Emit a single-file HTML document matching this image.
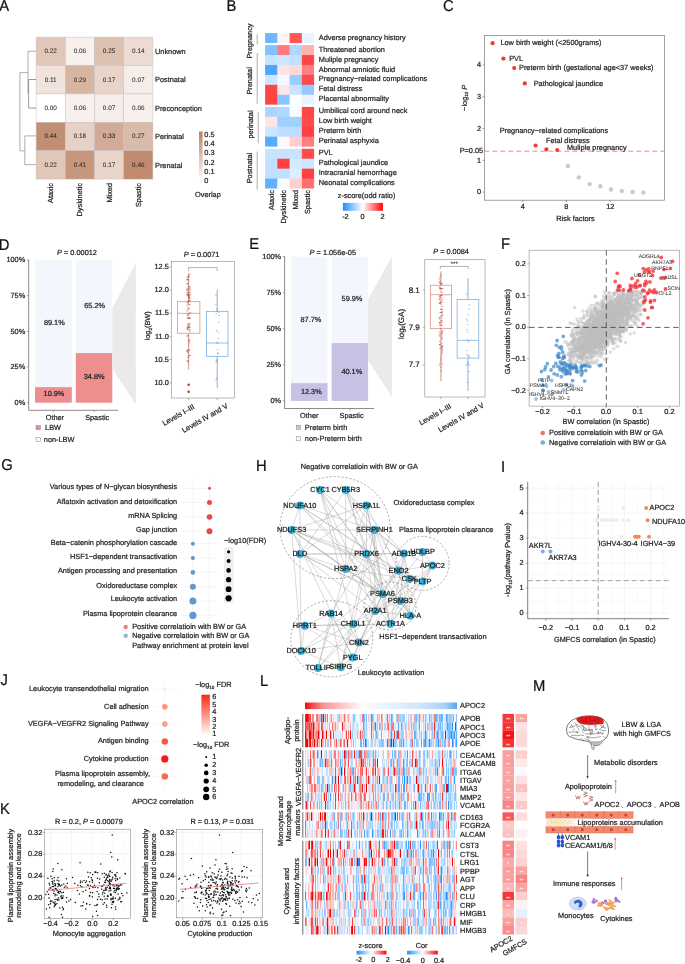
<!DOCTYPE html>
<html><head><meta charset="utf-8"><style>
html,body{margin:0;padding:0;background:#fff;width:685px;height:964px;overflow:hidden}
svg{display:block;font-family:"Liberation Sans", sans-serif;will-change:transform;text-rendering:geometricPrecision}
</style></head><body>
<svg width="685" height="964" viewBox="0 0 685 964">
<defs><linearGradient id="gA" x1="0" y1="1" x2="0" y2="0"><stop offset="0" stop-color="#ffffff"/><stop offset="1" stop-color="#b98062"/></linearGradient><linearGradient id="gB" x1="0" y1="0" x2="1" y2="0"><stop offset="0" stop-color="#1e90ff"/><stop offset="0.5" stop-color="#ffffff"/><stop offset="1" stop-color="#ff0000"/></linearGradient><linearGradient id="gJ" x1="0" y1="1" x2="0" y2="0"><stop offset="0" stop-color="#ffffff"/><stop offset="1" stop-color="#fb2a10"/></linearGradient><linearGradient id="gL" x1="0" y1="0" x2="1" y2="0"><stop offset="0" stop-color="#f20808"/><stop offset="0.04" stop-color="#f43c3c"/><stop offset="0.12" stop-color="#f89595"/><stop offset="0.25" stop-color="#fcc9c9"/><stop offset="0.38" stop-color="#fffcfc"/><stop offset="0.5" stop-color="#eef5fe"/><stop offset="0.75" stop-color="#d2e6fc"/><stop offset="0.92" stop-color="#a9d0f9"/><stop offset="1" stop-color="#5aa6f5"/></linearGradient><filter id="hb" x="-0.01" y="0" width="1.02" height="1" color-interpolation-filters="sRGB"><feGaussianBlur stdDeviation="0.45 0"/></filter><linearGradient id="gM" x1="0" y1="0" x2="1" y2="0"><stop offset="0" stop-color="#fde2d2"/><stop offset="0.5" stop-color="#feefe6"/><stop offset="1" stop-color="#ffffff" stop-opacity="0"/></linearGradient></defs>
<text x="0" y="0" font-size="14.8" fill="#111" stroke="#111" stroke-width="0.22" transform="translate(-0.80 11.00) scale(1 1.06)">A</text>
<rect x="36.10" y="37.10" width="29.20" height="28.40" fill="#e1c7b9" stroke="#c8c2bf" stroke-width="0.5"/>
<text x="50.70" y="53.22" font-size="6.4" text-anchor="middle" fill="#2a2a2a" stroke="#2a2a2a" stroke-width="0.05">0.22</text>
<rect x="65.30" y="37.10" width="29.20" height="28.40" fill="#f7f0ec" stroke="#c8c2bf" stroke-width="0.5"/>
<text x="79.90" y="53.22" font-size="6.4" text-anchor="middle" fill="#2a2a2a" stroke="#2a2a2a" stroke-width="0.05">0.06</text>
<rect x="94.50" y="37.10" width="29.20" height="28.40" fill="#dcc0b0" stroke="#c8c2bf" stroke-width="0.5"/>
<text x="109.10" y="53.22" font-size="6.4" text-anchor="middle" fill="#2a2a2a" stroke="#2a2a2a" stroke-width="0.05">0.25</text>
<rect x="123.70" y="37.10" width="29.20" height="28.40" fill="#ecdbd3" stroke="#c8c2bf" stroke-width="0.5"/>
<text x="138.30" y="53.22" font-size="6.4" text-anchor="middle" fill="#2a2a2a" stroke="#2a2a2a" stroke-width="0.05">0.14</text>
<rect x="36.10" y="65.50" width="29.20" height="28.40" fill="#f0e3dc" stroke="#c8c2bf" stroke-width="0.5"/>
<text x="50.70" y="81.62" font-size="6.4" text-anchor="middle" fill="#2a2a2a" stroke="#2a2a2a" stroke-width="0.05">0.11</text>
<rect x="65.30" y="65.50" width="29.20" height="28.40" fill="#d7b5a3" stroke="#c8c2bf" stroke-width="0.5"/>
<text x="79.90" y="81.62" font-size="6.4" text-anchor="middle" fill="#2a2a2a" stroke="#2a2a2a" stroke-width="0.05">0.29</text>
<rect x="94.50" y="65.50" width="29.20" height="28.40" fill="#e8d4c9" stroke="#c8c2bf" stroke-width="0.5"/>
<text x="109.10" y="81.62" font-size="6.4" text-anchor="middle" fill="#2a2a2a" stroke="#2a2a2a" stroke-width="0.05">0.17</text>
<rect x="123.70" y="65.50" width="29.20" height="28.40" fill="#f5ede9" stroke="#c8c2bf" stroke-width="0.5"/>
<text x="138.30" y="81.62" font-size="6.4" text-anchor="middle" fill="#2a2a2a" stroke="#2a2a2a" stroke-width="0.05">0.07</text>
<rect x="36.10" y="93.90" width="29.20" height="28.40" fill="#ffffff" stroke="#c8c2bf" stroke-width="0.5"/>
<text x="50.70" y="110.02" font-size="6.4" text-anchor="middle" fill="#2a2a2a" stroke="#2a2a2a" stroke-width="0.05">0.00</text>
<rect x="65.30" y="93.90" width="29.20" height="28.40" fill="#f7f0ec" stroke="#c8c2bf" stroke-width="0.5"/>
<text x="79.90" y="110.02" font-size="6.4" text-anchor="middle" fill="#2a2a2a" stroke="#2a2a2a" stroke-width="0.05">0.06</text>
<rect x="94.50" y="93.90" width="29.20" height="28.40" fill="#f5ede9" stroke="#c8c2bf" stroke-width="0.5"/>
<text x="109.10" y="110.02" font-size="6.4" text-anchor="middle" fill="#2a2a2a" stroke="#2a2a2a" stroke-width="0.05">0.07</text>
<rect x="123.70" y="93.90" width="29.20" height="28.40" fill="#f7f0ec" stroke="#c8c2bf" stroke-width="0.5"/>
<text x="138.30" y="110.02" font-size="6.4" text-anchor="middle" fill="#2a2a2a" stroke="#2a2a2a" stroke-width="0.05">0.06</text>
<rect x="36.10" y="122.30" width="29.20" height="28.40" fill="#c28f74" stroke="#c8c2bf" stroke-width="0.5"/>
<text x="50.70" y="138.42" font-size="6.4" text-anchor="middle" fill="#2a2a2a" stroke="#2a2a2a" stroke-width="0.05">0.44</text>
<rect x="65.30" y="122.30" width="29.20" height="28.40" fill="#e6d1c6" stroke="#c8c2bf" stroke-width="0.5"/>
<text x="79.90" y="138.42" font-size="6.4" text-anchor="middle" fill="#2a2a2a" stroke="#2a2a2a" stroke-width="0.05">0.18</text>
<rect x="94.50" y="122.30" width="29.20" height="28.40" fill="#d1ab97" stroke="#c8c2bf" stroke-width="0.5"/>
<text x="109.10" y="138.42" font-size="6.4" text-anchor="middle" fill="#2a2a2a" stroke="#2a2a2a" stroke-width="0.05">0.33</text>
<rect x="123.70" y="122.30" width="29.20" height="28.40" fill="#dabaaa" stroke="#c8c2bf" stroke-width="0.5"/>
<text x="138.30" y="138.42" font-size="6.4" text-anchor="middle" fill="#2a2a2a" stroke="#2a2a2a" stroke-width="0.05">0.27</text>
<rect x="36.10" y="150.70" width="29.20" height="28.40" fill="#e1c7b9" stroke="#c8c2bf" stroke-width="0.5"/>
<text x="50.70" y="166.82" font-size="6.4" text-anchor="middle" fill="#2a2a2a" stroke="#2a2a2a" stroke-width="0.05">0.22</text>
<rect x="65.30" y="150.70" width="29.20" height="28.40" fill="#c6977d" stroke="#c8c2bf" stroke-width="0.5"/>
<text x="79.90" y="166.82" font-size="6.4" text-anchor="middle" fill="#2a2a2a" stroke="#2a2a2a" stroke-width="0.05">0.41</text>
<rect x="94.50" y="150.70" width="29.20" height="28.40" fill="#e8d4c9" stroke="#c8c2bf" stroke-width="0.5"/>
<text x="109.10" y="166.82" font-size="6.4" text-anchor="middle" fill="#2a2a2a" stroke="#2a2a2a" stroke-width="0.05">0.17</text>
<rect x="123.70" y="150.70" width="29.20" height="28.40" fill="#c08a6e" stroke="#c8c2bf" stroke-width="0.5"/>
<text x="138.30" y="166.82" font-size="6.4" text-anchor="middle" fill="#2a2a2a" stroke="#2a2a2a" stroke-width="0.05">0.46</text>
<text x="155.00" y="54.00" font-size="7.35" text-anchor="start" fill="#1e1e1e" stroke="#1e1e1e" stroke-width="0.22">Unknown</text>
<text x="155.00" y="82.41" font-size="7.35" text-anchor="start" fill="#1e1e1e" stroke="#1e1e1e" stroke-width="0.22">Postnatal</text>
<text x="155.00" y="110.81" font-size="7.35" text-anchor="start" fill="#1e1e1e" stroke="#1e1e1e" stroke-width="0.22">Preconception</text>
<text x="155.00" y="139.20" font-size="7.35" text-anchor="start" fill="#1e1e1e" stroke="#1e1e1e" stroke-width="0.22">Perinatal</text>
<text x="155.00" y="167.60" font-size="7.35" text-anchor="start" fill="#1e1e1e" stroke="#1e1e1e" stroke-width="0.22">Prenatal</text>
<text x="53.20" y="183.00" font-size="7.35" text-anchor="end" fill="#1e1e1e" stroke="#1e1e1e" stroke-width="0.22" transform="rotate(-90 53.20 183.00)">Ataxic</text>
<text x="82.40" y="183.00" font-size="7.35" text-anchor="end" fill="#1e1e1e" stroke="#1e1e1e" stroke-width="0.22" transform="rotate(-90 82.40 183.00)">Dyskinetic</text>
<text x="111.60" y="183.00" font-size="7.35" text-anchor="end" fill="#1e1e1e" stroke="#1e1e1e" stroke-width="0.22" transform="rotate(-90 111.60 183.00)">Mixed</text>
<text x="140.80" y="183.00" font-size="7.35" text-anchor="end" fill="#1e1e1e" stroke="#1e1e1e" stroke-width="0.22" transform="rotate(-90 140.80 183.00)">Spastic</text>
<path d="M36,51.3 H28 V93.7" fill="none" stroke="#9a9a9a" stroke-width="0.8"/>
<path d="M36,79.5 H28.6 V108.1 H36" fill="none" stroke="#808080" stroke-width="0.8"/>
<path d="M28.3,72.6 H19.9 V150.9 H24.8" fill="none" stroke="#9a9a9a" stroke-width="0.8"/>
<path d="M36,135.9 H24.8 V164.6 H36" fill="none" stroke="#9a9a9a" stroke-width="0.8"/>
<rect x="199.00" y="131.50" width="3.60" height="49.50" fill="url(#gA)"/>
<text x="204.30" y="136.61" font-size="7.35" text-anchor="start" fill="#1e1e1e" stroke="#1e1e1e" stroke-width="0.22">0.5</text>
<text x="204.30" y="145.94" font-size="7.35" text-anchor="start" fill="#1e1e1e" stroke="#1e1e1e" stroke-width="0.22">0.4</text>
<text x="204.30" y="155.27" font-size="7.35" text-anchor="start" fill="#1e1e1e" stroke="#1e1e1e" stroke-width="0.22">0.3</text>
<text x="204.30" y="164.60" font-size="7.35" text-anchor="start" fill="#1e1e1e" stroke="#1e1e1e" stroke-width="0.22">0.2</text>
<text x="204.30" y="173.93" font-size="7.35" text-anchor="start" fill="#1e1e1e" stroke="#1e1e1e" stroke-width="0.22">0.1</text>
<text x="204.30" y="183.26" font-size="7.35" text-anchor="start" fill="#1e1e1e" stroke="#1e1e1e" stroke-width="0.22">0</text>
<text x="195.00" y="196.81" font-size="7.35" text-anchor="start" fill="#1e1e1e" stroke="#1e1e1e" stroke-width="0.22">Overlap</text>
<text x="0" y="0" font-size="14.8" fill="#111" stroke="#111" stroke-width="0.22" transform="translate(226.50 10.80) scale(1 1.06)">B</text>
<rect x="265.10" y="33.10" width="12.65" height="9.93" fill="#6db7ff"/>
<rect x="277.35" y="33.10" width="12.65" height="9.93" fill="#fff2f2"/>
<rect x="289.60" y="33.10" width="12.65" height="9.93" fill="#ff5656"/>
<rect x="301.85" y="33.10" width="12.25" height="9.93" fill="#e8f4ff"/>
<text x="318.80" y="39.67" font-size="7.35" text-anchor="start" fill="#1e1e1e" stroke="#1e1e1e" stroke-width="0.22">Adverse pregnancy history</text>
<rect x="265.10" y="45.10" width="12.65" height="10.33" fill="#83c2ff"/>
<rect x="277.35" y="45.10" width="12.65" height="10.33" fill="#ff7b7b"/>
<rect x="289.60" y="45.10" width="12.65" height="10.33" fill="#b0d8ff"/>
<rect x="301.85" y="45.10" width="12.25" height="10.33" fill="#ffb0b0"/>
<text x="318.80" y="51.67" font-size="7.35" text-anchor="start" fill="#1e1e1e" stroke="#1e1e1e" stroke-width="0.22">Threatened abortion</text>
<rect x="265.10" y="55.03" width="12.65" height="10.33" fill="#c7e3ff"/>
<rect x="277.35" y="55.03" width="12.65" height="10.33" fill="#cce6ff"/>
<rect x="289.60" y="55.03" width="12.65" height="10.33" fill="#c1e0ff"/>
<rect x="301.85" y="55.03" width="12.25" height="10.33" fill="#ff4646"/>
<text x="318.80" y="61.60" font-size="7.35" text-anchor="start" fill="#1e1e1e" stroke="#1e1e1e" stroke-width="0.22">Muliple pregnancy</text>
<rect x="265.10" y="64.96" width="12.65" height="10.33" fill="#4ba6ff"/>
<rect x="277.35" y="64.96" width="12.65" height="10.33" fill="#ffe1e1"/>
<rect x="289.60" y="64.96" width="12.65" height="10.33" fill="#ffdada"/>
<rect x="301.85" y="64.96" width="12.25" height="10.33" fill="#ff8080"/>
<text x="318.80" y="71.53" font-size="7.35" text-anchor="start" fill="#1e1e1e" stroke="#1e1e1e" stroke-width="0.22">Abnormal amniotic fluid</text>
<rect x="265.10" y="74.89" width="12.65" height="10.33" fill="#cce6ff"/>
<rect x="277.35" y="74.89" width="12.65" height="10.33" fill="#f4f9ff"/>
<rect x="289.60" y="74.89" width="12.65" height="10.33" fill="#9acdff"/>
<rect x="301.85" y="74.89" width="12.25" height="10.33" fill="#ff4b4b"/>
<text x="318.80" y="81.46" font-size="7.35" text-anchor="start" fill="#1e1e1e" stroke="#1e1e1e" stroke-width="0.22">Pregnancy−related complications</text>
<rect x="265.10" y="84.82" width="12.65" height="10.33" fill="#ff4646"/>
<rect x="277.35" y="84.82" width="12.65" height="10.33" fill="#ffe5e5"/>
<rect x="289.60" y="84.82" width="12.65" height="10.33" fill="#c7e3ff"/>
<rect x="301.85" y="84.82" width="12.25" height="10.33" fill="#94caff"/>
<text x="318.80" y="91.39" font-size="7.35" text-anchor="start" fill="#1e1e1e" stroke="#1e1e1e" stroke-width="0.22">Fetal distress</text>
<rect x="265.10" y="94.75" width="12.65" height="9.93" fill="#ff4646"/>
<rect x="277.35" y="94.75" width="12.65" height="9.93" fill="#89c5ff"/>
<rect x="289.60" y="94.75" width="12.65" height="9.93" fill="#fcfdff"/>
<rect x="301.85" y="94.75" width="12.25" height="9.93" fill="#e8f4ff"/>
<text x="318.80" y="101.32" font-size="7.35" text-anchor="start" fill="#1e1e1e" stroke="#1e1e1e" stroke-width="0.22">Placental abnormality</text>
<rect x="265.10" y="106.90" width="12.65" height="10.33" fill="#abd5ff"/>
<rect x="277.35" y="106.90" width="12.65" height="10.33" fill="#b0d8ff"/>
<rect x="289.60" y="106.90" width="12.65" height="10.33" fill="#f9fcff"/>
<rect x="301.85" y="106.90" width="12.25" height="10.33" fill="#ff4646"/>
<text x="318.80" y="113.47" font-size="7.35" text-anchor="start" fill="#1e1e1e" stroke="#1e1e1e" stroke-width="0.22">Umbilical cord around neck</text>
<rect x="265.10" y="116.83" width="12.65" height="10.33" fill="#ffe5e5"/>
<rect x="277.35" y="116.83" width="12.65" height="10.33" fill="#9fd0ff"/>
<rect x="289.60" y="116.83" width="12.65" height="10.33" fill="#9fd0ff"/>
<rect x="301.85" y="116.83" width="12.25" height="10.33" fill="#ff4b4b"/>
<text x="318.80" y="123.40" font-size="7.35" text-anchor="start" fill="#1e1e1e" stroke="#1e1e1e" stroke-width="0.22">Low birth weight</text>
<rect x="265.10" y="126.76" width="12.65" height="10.33" fill="#cce6ff"/>
<rect x="277.35" y="126.76" width="12.65" height="10.33" fill="#bcdeff"/>
<rect x="289.60" y="126.76" width="12.65" height="10.33" fill="#bcdeff"/>
<rect x="301.85" y="126.76" width="12.25" height="10.33" fill="#ff4141"/>
<text x="318.80" y="133.33" font-size="7.35" text-anchor="start" fill="#1e1e1e" stroke="#1e1e1e" stroke-width="0.22">Preterm birth</text>
<rect x="265.10" y="136.69" width="12.65" height="9.93" fill="#56acff"/>
<rect x="277.35" y="136.69" width="12.65" height="9.93" fill="#fff9f9"/>
<rect x="289.60" y="136.69" width="12.65" height="9.93" fill="#ffcfcf"/>
<rect x="301.85" y="136.69" width="12.25" height="9.93" fill="#ff8080"/>
<text x="318.80" y="143.26" font-size="7.35" text-anchor="start" fill="#1e1e1e" stroke="#1e1e1e" stroke-width="0.22">Perinatal asphyxia</text>
<rect x="265.10" y="148.80" width="12.65" height="10.33" fill="#c7e3ff"/>
<rect x="277.35" y="148.80" width="12.65" height="10.33" fill="#c7e3ff"/>
<rect x="289.60" y="148.80" width="12.65" height="10.33" fill="#c7e3ff"/>
<rect x="301.85" y="148.80" width="12.25" height="10.33" fill="#ff4b4b"/>
<text x="318.80" y="155.37" font-size="7.35" text-anchor="start" fill="#1e1e1e" stroke="#1e1e1e" stroke-width="0.22">PVL</text>
<rect x="265.10" y="158.73" width="12.65" height="10.33" fill="#c1e0ff"/>
<rect x="277.35" y="158.73" width="12.65" height="10.33" fill="#ff4141"/>
<rect x="289.60" y="158.73" width="12.65" height="10.33" fill="#d4eaff"/>
<rect x="301.85" y="158.73" width="12.25" height="10.33" fill="#cce6ff"/>
<text x="318.80" y="165.30" font-size="7.35" text-anchor="start" fill="#1e1e1e" stroke="#1e1e1e" stroke-width="0.22">Pathological jaundice</text>
<rect x="265.10" y="168.66" width="12.65" height="10.33" fill="#c1e0ff"/>
<rect x="277.35" y="168.66" width="12.65" height="10.33" fill="#c1e0ff"/>
<rect x="289.60" y="168.66" width="12.65" height="10.33" fill="#ddeeff"/>
<rect x="301.85" y="168.66" width="12.25" height="10.33" fill="#ff4141"/>
<text x="318.80" y="175.23" font-size="7.35" text-anchor="start" fill="#1e1e1e" stroke="#1e1e1e" stroke-width="0.22">Intracranial hemorrhage</text>
<rect x="265.10" y="178.59" width="12.65" height="9.93" fill="#62b1ff"/>
<rect x="277.35" y="178.59" width="12.65" height="9.93" fill="#f9fcff"/>
<rect x="289.60" y="178.59" width="12.65" height="9.93" fill="#ffcfcf"/>
<rect x="301.85" y="178.59" width="12.25" height="9.93" fill="#ff7070"/>
<text x="318.80" y="185.16" font-size="7.35" text-anchor="start" fill="#1e1e1e" stroke="#1e1e1e" stroke-width="0.22">Neonatal complications</text>
<text x="273.73" y="190.00" font-size="7.35" text-anchor="end" fill="#1e1e1e" stroke="#1e1e1e" stroke-width="0.22" transform="rotate(-90 273.73 190.00)">Ataxic</text>
<text x="285.98" y="190.00" font-size="7.35" text-anchor="end" fill="#1e1e1e" stroke="#1e1e1e" stroke-width="0.22" transform="rotate(-90 285.98 190.00)">Dyskinetic</text>
<text x="298.23" y="190.00" font-size="7.35" text-anchor="end" fill="#1e1e1e" stroke="#1e1e1e" stroke-width="0.22" transform="rotate(-90 298.23 190.00)">Mixed</text>
<text x="310.48" y="190.00" font-size="7.35" text-anchor="end" fill="#1e1e1e" stroke="#1e1e1e" stroke-width="0.22" transform="rotate(-90 310.48 190.00)">Spastic</text>
<text x="251.60" y="41.00" font-size="7.35" text-anchor="middle" fill="#1e1e1e" stroke="#1e1e1e" stroke-width="0.22" transform="rotate(-90 251.60 41.00)">Pregnancy</text>
<line x1="257.20" y1="34.20" x2="257.20" y2="44.60" stroke="#8a8a8a" stroke-width="0.7"/>
<text x="251.60" y="80.90" font-size="7.35" text-anchor="middle" fill="#1e1e1e" stroke="#1e1e1e" stroke-width="0.22" transform="rotate(-90 251.60 80.90)">Prenatal</text>
<line x1="257.20" y1="52.90" x2="257.20" y2="103.70" stroke="#8a8a8a" stroke-width="0.7"/>
<text x="252.90" y="124.50" font-size="7.35" text-anchor="middle" fill="#1e1e1e" stroke="#1e1e1e" stroke-width="0.22" transform="rotate(-90 252.90 124.50)">perinatal</text>
<line x1="258.20" y1="112.00" x2="258.20" y2="143.20" stroke="#8a8a8a" stroke-width="0.7"/>
<text x="251.60" y="168.00" font-size="7.35" text-anchor="middle" fill="#1e1e1e" stroke="#1e1e1e" stroke-width="0.22" transform="rotate(-90 251.60 168.00)">Postnatal</text>
<line x1="257.20" y1="151.50" x2="257.20" y2="189.80" stroke="#8a8a8a" stroke-width="0.7"/>
<text x="337.80" y="197.51" font-size="7.35" text-anchor="start" fill="#1e1e1e" stroke="#1e1e1e" stroke-width="0.22">z-score(odd ratio)</text>
<rect x="342.90" y="202.90" width="40.00" height="7.90" fill="url(#gB)"/>
<text x="345.40" y="218.91" font-size="7.35" text-anchor="middle" fill="#1e1e1e" stroke="#1e1e1e" stroke-width="0.22">-2</text>
<text x="362.50" y="218.91" font-size="7.35" text-anchor="middle" fill="#1e1e1e" stroke="#1e1e1e" stroke-width="0.22">0</text>
<text x="382.50" y="218.91" font-size="7.35" text-anchor="middle" fill="#1e1e1e" stroke="#1e1e1e" stroke-width="0.22">2</text>
<text x="0" y="0" font-size="14.8" fill="#111" stroke="#111" stroke-width="0.22" transform="translate(443.00 11.00) scale(1 1.06)">C</text>
<rect x="484.40" y="35.40" width="180.20" height="164.80" fill="none" stroke="#7a7a7a" stroke-width="0.7"/>
<line x1="482.40" y1="192.10" x2="484.40" y2="192.10" stroke="#555" stroke-width="0.5"/>
<text x="481.00" y="194.31" font-size="7.35" text-anchor="end" fill="#1e1e1e" stroke="#1e1e1e" stroke-width="0.22">0</text>
<line x1="482.40" y1="160.35" x2="484.40" y2="160.35" stroke="#555" stroke-width="0.5"/>
<text x="481.00" y="162.56" font-size="7.35" text-anchor="end" fill="#1e1e1e" stroke="#1e1e1e" stroke-width="0.22">1</text>
<line x1="482.40" y1="128.60" x2="484.40" y2="128.60" stroke="#555" stroke-width="0.5"/>
<text x="481.00" y="130.81" font-size="7.35" text-anchor="end" fill="#1e1e1e" stroke="#1e1e1e" stroke-width="0.22">2</text>
<line x1="482.40" y1="96.85" x2="484.40" y2="96.85" stroke="#555" stroke-width="0.5"/>
<text x="481.00" y="99.05" font-size="7.35" text-anchor="end" fill="#1e1e1e" stroke="#1e1e1e" stroke-width="0.22">3</text>
<line x1="482.40" y1="65.10" x2="484.40" y2="65.10" stroke="#555" stroke-width="0.5"/>
<text x="481.00" y="67.30" font-size="7.35" text-anchor="end" fill="#1e1e1e" stroke="#1e1e1e" stroke-width="0.22">4</text>
<line x1="522.70" y1="200.20" x2="522.70" y2="202.20" stroke="#555" stroke-width="0.5"/>
<text x="522.70" y="209.41" font-size="7.35" text-anchor="middle" fill="#1e1e1e" stroke="#1e1e1e" stroke-width="0.22">4</text>
<line x1="566.40" y1="200.20" x2="566.40" y2="202.20" stroke="#555" stroke-width="0.5"/>
<text x="566.40" y="209.41" font-size="7.35" text-anchor="middle" fill="#1e1e1e" stroke="#1e1e1e" stroke-width="0.22">8</text>
<line x1="610.30" y1="200.20" x2="610.30" y2="202.20" stroke="#555" stroke-width="0.5"/>
<text x="610.30" y="209.41" font-size="7.35" text-anchor="middle" fill="#1e1e1e" stroke="#1e1e1e" stroke-width="0.22">12</text>
<text x="575.50" y="220.81" font-size="7.35" text-anchor="middle" fill="#1e1e1e" stroke="#1e1e1e" stroke-width="0.22">Risk factors</text>
<text x="0" y="0" font-size="7.35" fill="#1e1e1e" stroke="#1e1e1e" stroke-width="0.22" text-anchor="middle" transform="translate(466.8 97.8) rotate(-90)">−log<tspan font-size="4.6" dy="1.6">10</tspan><tspan dy="-1.6" font-style="italic"> P</tspan></text>
<line x1="484.40" y1="151.20" x2="664.60" y2="151.20" stroke="#f06a6a" stroke-width="0.8" stroke-dasharray="5,3"/>
<text x="459.70" y="153.41" font-size="7.35" text-anchor="start" fill="#1e1e1e" stroke="#1e1e1e" stroke-width="0.22">P=0.05</text>
<circle cx="567.90" cy="165.90" r="2.20" fill="#c9c9c9"/>
<circle cx="578.80" cy="177.40" r="2.20" fill="#c9c9c9"/>
<circle cx="589.60" cy="184.10" r="2.20" fill="#c9c9c9"/>
<circle cx="600.40" cy="186.20" r="2.20" fill="#c9c9c9"/>
<circle cx="611.00" cy="189.50" r="2.20" fill="#c9c9c9"/>
<circle cx="621.80" cy="191.00" r="2.20" fill="#c9c9c9"/>
<circle cx="632.60" cy="192.00" r="2.20" fill="#c9c9c9"/>
<circle cx="643.40" cy="192.60" r="2.20" fill="#c9c9c9"/>
<circle cx="492.60" cy="43.20" r="2.10" fill="#f03a3a"/>
<circle cx="503.40" cy="58.60" r="2.10" fill="#f03a3a"/>
<circle cx="514.20" cy="68.10" r="2.10" fill="#f03a3a"/>
<circle cx="524.80" cy="83.40" r="2.10" fill="#f03a3a"/>
<circle cx="535.60" cy="145.50" r="2.10" fill="#f03a3a"/>
<circle cx="546.40" cy="149.40" r="2.10" fill="#f03a3a"/>
<circle cx="557.30" cy="150.00" r="2.10" fill="#f03a3a"/>
<text x="500.40" y="45.41" font-size="7.35" text-anchor="start" fill="#1e1e1e" stroke="#1e1e1e" stroke-width="0.22">Low birth weight (&lt;2500grams)</text>
<text x="509.20" y="60.60" font-size="7.35" text-anchor="start" fill="#1e1e1e" stroke="#1e1e1e" stroke-width="0.22">PVL</text>
<text x="519.00" y="70.20" font-size="7.35" text-anchor="start" fill="#1e1e1e" stroke="#1e1e1e" stroke-width="0.22">Preterm birth (gestational age&lt;37 weeks)</text>
<text x="533.70" y="85.61" font-size="7.35" text-anchor="start" fill="#1e1e1e" stroke="#1e1e1e" stroke-width="0.22">Pathological jaundice</text>
<text x="499.70" y="133.21" font-size="7.35" text-anchor="start" fill="#1e1e1e" stroke="#1e1e1e" stroke-width="0.22">Pregnancy−related complications</text>
<text x="546.00" y="143.01" font-size="7.35" text-anchor="start" fill="#1e1e1e" stroke="#1e1e1e" stroke-width="0.22">Fetal distress</text>
<text x="567.00" y="150.01" font-size="7.35" text-anchor="start" fill="#1e1e1e" stroke="#1e1e1e" stroke-width="0.22">Muliple pregnancy</text>
<text x="0" y="0" font-size="14.8" fill="#111" stroke="#111" stroke-width="0.22" transform="translate(-1.30 249.90) scale(1 1.06)">D</text>
<line x1="28.70" y1="259.60" x2="28.70" y2="410.30" stroke="#5a5a5a" stroke-width="0.7"/>
<line x1="28.70" y1="410.30" x2="118.10" y2="410.30" stroke="#5a5a5a" stroke-width="0.7"/>
<line x1="26.70" y1="402.70" x2="28.70" y2="402.70" stroke="#5a5a5a" stroke-width="0.5"/>
<text x="25.20" y="404.90" font-size="7.35" text-anchor="end" fill="#1e1e1e" stroke="#1e1e1e" stroke-width="0.22">0%</text>
<line x1="26.70" y1="367.05" x2="28.70" y2="367.05" stroke="#5a5a5a" stroke-width="0.5"/>
<text x="25.20" y="369.25" font-size="7.35" text-anchor="end" fill="#1e1e1e" stroke="#1e1e1e" stroke-width="0.22">25%</text>
<line x1="26.70" y1="331.40" x2="28.70" y2="331.40" stroke="#5a5a5a" stroke-width="0.5"/>
<text x="25.20" y="333.60" font-size="7.35" text-anchor="end" fill="#1e1e1e" stroke="#1e1e1e" stroke-width="0.22">50%</text>
<line x1="26.70" y1="295.75" x2="28.70" y2="295.75" stroke="#5a5a5a" stroke-width="0.5"/>
<text x="25.20" y="297.95" font-size="7.35" text-anchor="end" fill="#1e1e1e" stroke="#1e1e1e" stroke-width="0.22">75%</text>
<line x1="26.70" y1="260.10" x2="28.70" y2="260.10" stroke="#5a5a5a" stroke-width="0.5"/>
<text x="25.20" y="262.31" font-size="7.35" text-anchor="end" fill="#1e1e1e" stroke="#1e1e1e" stroke-width="0.22">100%</text>
<rect x="35.00" y="260.10" width="36.80" height="142.60" fill="#f3f7fd"/>
<rect x="35.00" y="387.16" width="36.80" height="15.54" fill="#ee8f8f"/>
<rect x="75.80" y="260.10" width="36.50" height="142.60" fill="#f3f7fd"/>
<rect x="75.80" y="353.08" width="36.50" height="49.62" fill="#ee8f8f"/>
<text x="54.30" y="325.40" font-size="7.35" text-anchor="middle" fill="#1e1e1e" stroke="#1e1e1e" stroke-width="0.22">89.1%</text>
<text x="94.60" y="308.40" font-size="7.35" text-anchor="middle" fill="#1e1e1e" stroke="#1e1e1e" stroke-width="0.22">65.2%</text>
<text x="54.00" y="396.40" font-size="7.35" text-anchor="middle" fill="#1e1e1e" stroke="#1e1e1e" stroke-width="0.22">10.9%</text>
<text x="94.20" y="379.31" font-size="7.35" text-anchor="middle" fill="#1e1e1e" stroke="#1e1e1e" stroke-width="0.22">34.8%</text>
<text x="77.00" y="255.21" font-size="7.35" text-anchor="middle" fill="#1e1e1e" stroke="#1e1e1e" stroke-width="0.22"><tspan font-style="italic">P</tspan> = 0.00012</text>
<line x1="53.40" y1="410.30" x2="53.40" y2="412.30" stroke="#5a5a5a" stroke-width="0.5"/>
<text x="54.90" y="420.00" font-size="7.35" text-anchor="middle" fill="#1e1e1e" stroke="#1e1e1e" stroke-width="0.22">Other</text>
<line x1="94.05" y1="410.30" x2="94.05" y2="412.30" stroke="#5a5a5a" stroke-width="0.5"/>
<text x="97.20" y="420.00" font-size="7.35" text-anchor="middle" fill="#1e1e1e" stroke="#1e1e1e" stroke-width="0.22">Spastic</text>
<rect x="36.00" y="425.50" width="4.40" height="4.20" fill="#ee8f8f" stroke="#8a8a8a" stroke-width="0.5"/>
<text x="45.10" y="430.40" font-size="7.35" text-anchor="start" fill="#1e1e1e" stroke="#1e1e1e" stroke-width="0.22">LBW</text>
<rect x="36.00" y="437.50" width="4.40" height="4.20" fill="#f6f8fb" stroke="#8a8a8a" stroke-width="0.5"/>
<text x="43.80" y="441.60" font-size="7.35" text-anchor="start" fill="#1e1e1e" stroke="#1e1e1e" stroke-width="0.22">non-LBW</text>
<polygon points="112.3,308.1 135.8,263.3 135.8,404.2 112.3,368.7" fill="#ebe9e9"/>
<rect x="171.50" y="261.30" width="62.90" height="136.70" fill="none" stroke="#8c8c8c" stroke-width="0.6"/>
<line x1="169.50" y1="267.00" x2="171.50" y2="267.00" stroke="#5a5a5a" stroke-width="0.5"/>
<text x="168.80" y="269.20" font-size="7.35" text-anchor="end" fill="#1e1e1e" stroke="#1e1e1e" stroke-width="0.22">12.5</text>
<line x1="169.50" y1="290.00" x2="171.50" y2="290.00" stroke="#5a5a5a" stroke-width="0.5"/>
<text x="168.80" y="292.20" font-size="7.35" text-anchor="end" fill="#1e1e1e" stroke="#1e1e1e" stroke-width="0.22">12.0</text>
<line x1="169.50" y1="313.10" x2="171.50" y2="313.10" stroke="#5a5a5a" stroke-width="0.5"/>
<text x="168.80" y="315.31" font-size="7.35" text-anchor="end" fill="#1e1e1e" stroke="#1e1e1e" stroke-width="0.22">11.5</text>
<line x1="169.50" y1="336.30" x2="171.50" y2="336.30" stroke="#5a5a5a" stroke-width="0.5"/>
<text x="168.80" y="338.50" font-size="7.35" text-anchor="end" fill="#1e1e1e" stroke="#1e1e1e" stroke-width="0.22">11.0</text>
<line x1="169.50" y1="359.40" x2="171.50" y2="359.40" stroke="#5a5a5a" stroke-width="0.5"/>
<text x="168.80" y="361.60" font-size="7.35" text-anchor="end" fill="#1e1e1e" stroke="#1e1e1e" stroke-width="0.22">10.5</text>
<line x1="169.50" y1="382.90" x2="171.50" y2="382.90" stroke="#5a5a5a" stroke-width="0.5"/>
<text x="168.80" y="385.10" font-size="7.35" text-anchor="end" fill="#1e1e1e" stroke="#1e1e1e" stroke-width="0.22">10.0</text>
<text x="0" y="0" font-size="7.35" fill="#1e1e1e" stroke="#1e1e1e" stroke-width="0.22" text-anchor="middle" transform="translate(150.20 325.80) rotate(-90)">log<tspan font-size="4.6" dy="1.6">2</tspan><tspan dy="-1.6">(BW)</tspan></text>
<line x1="188.65" y1="273.10" x2="188.65" y2="301.70" stroke="#b5402f" stroke-width="0.6"/>
<line x1="188.65" y1="333.20" x2="188.65" y2="369.50" stroke="#b5402f" stroke-width="0.6"/>
<rect x="177.40" y="301.70" width="22.50" height="31.50" fill="none" stroke="#d4867a" stroke-width="0.7"/>
<line x1="177.40" y1="313.30" x2="199.90" y2="313.30" stroke="#d4867a" stroke-width="0.7"/>
<line x1="188.34" y1="326.70" x2="189.94" y2="326.70" stroke="#b5402f" stroke-width="0.7" opacity="0.75"/>
<line x1="186.26" y1="279.88" x2="187.86" y2="279.88" stroke="#b5402f" stroke-width="0.7" opacity="0.75"/>
<line x1="189.26" y1="330.02" x2="190.86" y2="330.02" stroke="#b5402f" stroke-width="0.7" opacity="0.75"/>
<line x1="187.84" y1="317.84" x2="189.44" y2="317.84" stroke="#b5402f" stroke-width="0.7" opacity="0.75"/>
<line x1="188.93" y1="300.98" x2="190.53" y2="300.98" stroke="#b5402f" stroke-width="0.7" opacity="0.75"/>
<line x1="188.53" y1="296.90" x2="190.13" y2="296.90" stroke="#b5402f" stroke-width="0.7" opacity="0.75"/>
<line x1="189.07" y1="340.52" x2="190.67" y2="340.52" stroke="#b5402f" stroke-width="0.7" opacity="0.75"/>
<line x1="187.58" y1="326.61" x2="189.18" y2="326.61" stroke="#b5402f" stroke-width="0.7" opacity="0.75"/>
<line x1="187.88" y1="327.36" x2="189.48" y2="327.36" stroke="#b5402f" stroke-width="0.7" opacity="0.75"/>
<line x1="188.15" y1="296.00" x2="189.75" y2="296.00" stroke="#b5402f" stroke-width="0.7" opacity="0.75"/>
<line x1="189.00" y1="298.15" x2="190.60" y2="298.15" stroke="#b5402f" stroke-width="0.7" opacity="0.75"/>
<line x1="186.27" y1="305.12" x2="187.87" y2="305.12" stroke="#b5402f" stroke-width="0.7" opacity="0.75"/>
<line x1="186.43" y1="327.88" x2="188.03" y2="327.88" stroke="#b5402f" stroke-width="0.7" opacity="0.75"/>
<line x1="187.36" y1="293.04" x2="188.96" y2="293.04" stroke="#b5402f" stroke-width="0.7" opacity="0.75"/>
<line x1="186.82" y1="349.81" x2="188.42" y2="349.81" stroke="#b5402f" stroke-width="0.7" opacity="0.75"/>
<line x1="188.80" y1="350.07" x2="190.40" y2="350.07" stroke="#b5402f" stroke-width="0.7" opacity="0.75"/>
<line x1="187.05" y1="361.56" x2="188.65" y2="361.56" stroke="#b5402f" stroke-width="0.7" opacity="0.75"/>
<line x1="186.79" y1="317.28" x2="188.39" y2="317.28" stroke="#b5402f" stroke-width="0.7" opacity="0.75"/>
<line x1="187.49" y1="307.78" x2="189.09" y2="307.78" stroke="#b5402f" stroke-width="0.7" opacity="0.75"/>
<line x1="188.19" y1="286.39" x2="189.79" y2="286.39" stroke="#b5402f" stroke-width="0.7" opacity="0.75"/>
<line x1="187.99" y1="313.71" x2="189.59" y2="313.71" stroke="#b5402f" stroke-width="0.7" opacity="0.75"/>
<line x1="187.90" y1="350.01" x2="189.50" y2="350.01" stroke="#b5402f" stroke-width="0.7" opacity="0.75"/>
<line x1="186.44" y1="310.84" x2="188.04" y2="310.84" stroke="#b5402f" stroke-width="0.7" opacity="0.75"/>
<line x1="187.23" y1="357.50" x2="188.83" y2="357.50" stroke="#b5402f" stroke-width="0.7" opacity="0.75"/>
<line x1="186.37" y1="350.56" x2="187.97" y2="350.56" stroke="#b5402f" stroke-width="0.7" opacity="0.75"/>
<line x1="186.80" y1="328.08" x2="188.40" y2="328.08" stroke="#b5402f" stroke-width="0.7" opacity="0.75"/>
<line x1="187.88" y1="340.97" x2="189.48" y2="340.97" stroke="#b5402f" stroke-width="0.7" opacity="0.75"/>
<line x1="186.58" y1="294.94" x2="188.18" y2="294.94" stroke="#b5402f" stroke-width="0.7" opacity="0.75"/>
<line x1="186.31" y1="292.67" x2="187.91" y2="292.67" stroke="#b5402f" stroke-width="0.7" opacity="0.75"/>
<line x1="189.23" y1="294.56" x2="190.83" y2="294.56" stroke="#b5402f" stroke-width="0.7" opacity="0.75"/>
<line x1="187.80" y1="339.34" x2="189.40" y2="339.34" stroke="#b5402f" stroke-width="0.7" opacity="0.75"/>
<line x1="188.17" y1="300.75" x2="189.77" y2="300.75" stroke="#b5402f" stroke-width="0.7" opacity="0.75"/>
<line x1="189.30" y1="287.23" x2="190.90" y2="287.23" stroke="#b5402f" stroke-width="0.7" opacity="0.75"/>
<line x1="188.90" y1="295.10" x2="190.50" y2="295.10" stroke="#b5402f" stroke-width="0.7" opacity="0.75"/>
<line x1="186.51" y1="324.99" x2="188.11" y2="324.99" stroke="#b5402f" stroke-width="0.7" opacity="0.75"/>
<line x1="189.21" y1="327.51" x2="190.81" y2="327.51" stroke="#b5402f" stroke-width="0.7" opacity="0.75"/>
<line x1="186.54" y1="360.38" x2="188.14" y2="360.38" stroke="#b5402f" stroke-width="0.7" opacity="0.75"/>
<line x1="187.02" y1="276.96" x2="188.62" y2="276.96" stroke="#b5402f" stroke-width="0.7" opacity="0.75"/>
<line x1="186.58" y1="294.39" x2="188.18" y2="294.39" stroke="#b5402f" stroke-width="0.7" opacity="0.75"/>
<line x1="188.34" y1="298.78" x2="189.94" y2="298.78" stroke="#b5402f" stroke-width="0.7" opacity="0.75"/>
<line x1="189.17" y1="323.29" x2="190.77" y2="323.29" stroke="#b5402f" stroke-width="0.7" opacity="0.75"/>
<line x1="186.94" y1="283.84" x2="188.54" y2="283.84" stroke="#b5402f" stroke-width="0.7" opacity="0.75"/>
<line x1="188.45" y1="325.44" x2="190.05" y2="325.44" stroke="#b5402f" stroke-width="0.7" opacity="0.75"/>
<line x1="187.15" y1="323.53" x2="188.75" y2="323.53" stroke="#b5402f" stroke-width="0.7" opacity="0.75"/>
<line x1="187.26" y1="327.13" x2="188.86" y2="327.13" stroke="#b5402f" stroke-width="0.7" opacity="0.75"/>
<line x1="187.32" y1="302.29" x2="188.92" y2="302.29" stroke="#b5402f" stroke-width="0.7" opacity="0.75"/>
<line x1="186.48" y1="351.36" x2="188.08" y2="351.36" stroke="#b5402f" stroke-width="0.7" opacity="0.75"/>
<line x1="187.83" y1="288.38" x2="189.43" y2="288.38" stroke="#b5402f" stroke-width="0.7" opacity="0.75"/>
<line x1="186.80" y1="335.40" x2="188.40" y2="335.40" stroke="#b5402f" stroke-width="0.7" opacity="0.75"/>
<line x1="187.27" y1="352.30" x2="188.87" y2="352.30" stroke="#b5402f" stroke-width="0.7" opacity="0.75"/>
<line x1="188.94" y1="289.02" x2="190.54" y2="289.02" stroke="#b5402f" stroke-width="0.7" opacity="0.75"/>
<line x1="188.39" y1="304.87" x2="189.99" y2="304.87" stroke="#b5402f" stroke-width="0.7" opacity="0.75"/>
<line x1="187.52" y1="295.96" x2="189.12" y2="295.96" stroke="#b5402f" stroke-width="0.7" opacity="0.75"/>
<line x1="186.45" y1="279.48" x2="188.05" y2="279.48" stroke="#b5402f" stroke-width="0.7" opacity="0.75"/>
<line x1="187.53" y1="280.95" x2="189.13" y2="280.95" stroke="#b5402f" stroke-width="0.7" opacity="0.75"/>
<line x1="187.65" y1="275.81" x2="189.25" y2="275.81" stroke="#b5402f" stroke-width="0.7" opacity="0.75"/>
<line x1="187.57" y1="295.53" x2="189.17" y2="295.53" stroke="#b5402f" stroke-width="0.7" opacity="0.75"/>
<line x1="187.13" y1="361.57" x2="188.73" y2="361.57" stroke="#b5402f" stroke-width="0.7" opacity="0.75"/>
<line x1="187.25" y1="279.58" x2="188.85" y2="279.58" stroke="#b5402f" stroke-width="0.7" opacity="0.75"/>
<line x1="188.99" y1="293.81" x2="190.59" y2="293.81" stroke="#b5402f" stroke-width="0.7" opacity="0.75"/>
<line x1="186.81" y1="328.17" x2="188.41" y2="328.17" stroke="#b5402f" stroke-width="0.7" opacity="0.75"/>
<line x1="188.54" y1="342.81" x2="190.14" y2="342.81" stroke="#b5402f" stroke-width="0.7" opacity="0.75"/>
<line x1="188.84" y1="318.79" x2="190.44" y2="318.79" stroke="#b5402f" stroke-width="0.7" opacity="0.75"/>
<line x1="188.94" y1="355.36" x2="190.54" y2="355.36" stroke="#b5402f" stroke-width="0.7" opacity="0.75"/>
<line x1="186.78" y1="294.15" x2="188.38" y2="294.15" stroke="#b5402f" stroke-width="0.7" opacity="0.75"/>
<line x1="187.56" y1="355.94" x2="189.16" y2="355.94" stroke="#b5402f" stroke-width="0.7" opacity="0.75"/>
<line x1="188.26" y1="297.39" x2="189.86" y2="297.39" stroke="#b5402f" stroke-width="0.7" opacity="0.75"/>
<line x1="188.12" y1="291.85" x2="189.72" y2="291.85" stroke="#b5402f" stroke-width="0.7" opacity="0.75"/>
<line x1="188.71" y1="329.21" x2="190.31" y2="329.21" stroke="#b5402f" stroke-width="0.7" opacity="0.75"/>
<line x1="189.34" y1="289.72" x2="190.94" y2="289.72" stroke="#b5402f" stroke-width="0.7" opacity="0.75"/>
<line x1="187.85" y1="286.27" x2="189.45" y2="286.27" stroke="#b5402f" stroke-width="0.7" opacity="0.75"/>
<line x1="187.67" y1="308.28" x2="189.27" y2="308.28" stroke="#b5402f" stroke-width="0.7" opacity="0.75"/>
<line x1="188.32" y1="297.03" x2="189.92" y2="297.03" stroke="#b5402f" stroke-width="0.7" opacity="0.75"/>
<line x1="188.90" y1="274.63" x2="190.50" y2="274.63" stroke="#b5402f" stroke-width="0.7" opacity="0.75"/>
<line x1="188.92" y1="317.60" x2="190.52" y2="317.60" stroke="#b5402f" stroke-width="0.7" opacity="0.75"/>
<line x1="186.26" y1="290.00" x2="187.86" y2="290.00" stroke="#b5402f" stroke-width="0.7" opacity="0.75"/>
<line x1="189.12" y1="300.94" x2="190.72" y2="300.94" stroke="#b5402f" stroke-width="0.7" opacity="0.75"/>
<line x1="187.55" y1="318.46" x2="189.15" y2="318.46" stroke="#b5402f" stroke-width="0.7" opacity="0.75"/>
<line x1="187.37" y1="318.48" x2="188.97" y2="318.48" stroke="#b5402f" stroke-width="0.7" opacity="0.75"/>
<line x1="186.40" y1="289.99" x2="188.00" y2="289.99" stroke="#b5402f" stroke-width="0.7" opacity="0.75"/>
<line x1="188.46" y1="304.72" x2="190.06" y2="304.72" stroke="#b5402f" stroke-width="0.7" opacity="0.75"/>
<line x1="187.11" y1="329.70" x2="188.71" y2="329.70" stroke="#b5402f" stroke-width="0.7" opacity="0.75"/>
<line x1="186.79" y1="310.09" x2="188.39" y2="310.09" stroke="#b5402f" stroke-width="0.7" opacity="0.75"/>
<line x1="188.78" y1="313.09" x2="190.38" y2="313.09" stroke="#b5402f" stroke-width="0.7" opacity="0.75"/>
<line x1="186.35" y1="288.24" x2="187.95" y2="288.24" stroke="#b5402f" stroke-width="0.7" opacity="0.75"/>
<line x1="186.86" y1="290.58" x2="188.46" y2="290.58" stroke="#b5402f" stroke-width="0.7" opacity="0.75"/>
<line x1="186.69" y1="314.34" x2="188.29" y2="314.34" stroke="#b5402f" stroke-width="0.7" opacity="0.75"/>
<line x1="187.23" y1="315.47" x2="188.83" y2="315.47" stroke="#b5402f" stroke-width="0.7" opacity="0.75"/>
<line x1="188.16" y1="324.38" x2="189.76" y2="324.38" stroke="#b5402f" stroke-width="0.7" opacity="0.75"/>
<line x1="188.21" y1="276.75" x2="189.81" y2="276.75" stroke="#b5402f" stroke-width="0.7" opacity="0.75"/>
<line x1="187.83" y1="304.00" x2="189.43" y2="304.00" stroke="#b5402f" stroke-width="0.7" opacity="0.75"/>
<line x1="186.93" y1="295.64" x2="188.53" y2="295.64" stroke="#b5402f" stroke-width="0.7" opacity="0.75"/>
<line x1="187.27" y1="301.19" x2="188.87" y2="301.19" stroke="#b5402f" stroke-width="0.7" opacity="0.75"/>
<line x1="186.30" y1="351.81" x2="187.90" y2="351.81" stroke="#b5402f" stroke-width="0.7" opacity="0.75"/>
<line x1="188.94" y1="292.18" x2="190.54" y2="292.18" stroke="#b5402f" stroke-width="0.7" opacity="0.75"/>
<line x1="186.63" y1="302.61" x2="188.23" y2="302.61" stroke="#b5402f" stroke-width="0.7" opacity="0.75"/>
<line x1="188.37" y1="309.23" x2="189.97" y2="309.23" stroke="#b5402f" stroke-width="0.7" opacity="0.75"/>
<line x1="188.04" y1="300.23" x2="189.64" y2="300.23" stroke="#b5402f" stroke-width="0.7" opacity="0.75"/>
<line x1="187.61" y1="314.97" x2="189.21" y2="314.97" stroke="#b5402f" stroke-width="0.7" opacity="0.75"/>
<line x1="189.37" y1="312.99" x2="190.97" y2="312.99" stroke="#b5402f" stroke-width="0.7" opacity="0.75"/>
<line x1="188.98" y1="355.48" x2="190.58" y2="355.48" stroke="#b5402f" stroke-width="0.7" opacity="0.75"/>
<line x1="186.38" y1="336.18" x2="187.98" y2="336.18" stroke="#b5402f" stroke-width="0.7" opacity="0.75"/>
<line x1="186.33" y1="283.66" x2="187.93" y2="283.66" stroke="#b5402f" stroke-width="0.7" opacity="0.75"/>
<line x1="186.67" y1="277.53" x2="188.27" y2="277.53" stroke="#b5402f" stroke-width="0.7" opacity="0.75"/>
<line x1="187.33" y1="302.96" x2="188.93" y2="302.96" stroke="#b5402f" stroke-width="0.7" opacity="0.75"/>
<line x1="186.59" y1="329.41" x2="188.19" y2="329.41" stroke="#b5402f" stroke-width="0.7" opacity="0.75"/>
<line x1="188.91" y1="331.51" x2="190.51" y2="331.51" stroke="#b5402f" stroke-width="0.7" opacity="0.75"/>
<line x1="188.09" y1="325.05" x2="189.69" y2="325.05" stroke="#b5402f" stroke-width="0.7" opacity="0.75"/>
<line x1="187.29" y1="327.50" x2="188.89" y2="327.50" stroke="#b5402f" stroke-width="0.7" opacity="0.75"/>
<line x1="189.38" y1="318.31" x2="190.98" y2="318.31" stroke="#b5402f" stroke-width="0.7" opacity="0.75"/>
<circle cx="188.65" cy="384.80" r="1.30" fill="#b5402f"/>
<circle cx="188.65" cy="391.70" r="1.30" fill="#b5402f"/>
<line x1="188.65" y1="398.00" x2="188.65" y2="400.00" stroke="#5a5a5a" stroke-width="0.5"/>
<line x1="217.20" y1="289.30" x2="217.20" y2="311.30" stroke="#3f7fc0" stroke-width="0.6"/>
<line x1="217.20" y1="356.30" x2="217.20" y2="387.80" stroke="#3f7fc0" stroke-width="0.6"/>
<rect x="206.40" y="311.30" width="21.60" height="45.00" fill="none" stroke="#6fa5da" stroke-width="0.7"/>
<line x1="206.40" y1="343.00" x2="228.00" y2="343.00" stroke="#6fa5da" stroke-width="0.7"/>
<line x1="215.07" y1="294.87" x2="216.67" y2="294.87" stroke="#3f7fc0" stroke-width="0.7" opacity="0.75"/>
<line x1="216.66" y1="342.24" x2="218.26" y2="342.24" stroke="#3f7fc0" stroke-width="0.7" opacity="0.75"/>
<line x1="215.66" y1="330.48" x2="217.26" y2="330.48" stroke="#3f7fc0" stroke-width="0.7" opacity="0.75"/>
<line x1="216.48" y1="343.19" x2="218.08" y2="343.19" stroke="#3f7fc0" stroke-width="0.7" opacity="0.75"/>
<line x1="218.00" y1="315.53" x2="219.60" y2="315.53" stroke="#3f7fc0" stroke-width="0.7" opacity="0.75"/>
<line x1="217.24" y1="352.95" x2="218.84" y2="352.95" stroke="#3f7fc0" stroke-width="0.7" opacity="0.75"/>
<line x1="216.50" y1="308.88" x2="218.10" y2="308.88" stroke="#3f7fc0" stroke-width="0.7" opacity="0.75"/>
<line x1="217.46" y1="338.63" x2="219.06" y2="338.63" stroke="#3f7fc0" stroke-width="0.7" opacity="0.75"/>
<line x1="216.28" y1="377.92" x2="217.88" y2="377.92" stroke="#3f7fc0" stroke-width="0.7" opacity="0.75"/>
<line x1="216.36" y1="360.59" x2="217.96" y2="360.59" stroke="#3f7fc0" stroke-width="0.7" opacity="0.75"/>
<line x1="216.88" y1="349.43" x2="218.48" y2="349.43" stroke="#3f7fc0" stroke-width="0.7" opacity="0.75"/>
<line x1="217.12" y1="353.66" x2="218.72" y2="353.66" stroke="#3f7fc0" stroke-width="0.7" opacity="0.75"/>
<line x1="215.14" y1="361.47" x2="216.74" y2="361.47" stroke="#3f7fc0" stroke-width="0.7" opacity="0.75"/>
<line x1="215.47" y1="313.42" x2="217.07" y2="313.42" stroke="#3f7fc0" stroke-width="0.7" opacity="0.75"/>
<line x1="217.85" y1="322.04" x2="219.45" y2="322.04" stroke="#3f7fc0" stroke-width="0.7" opacity="0.75"/>
<line x1="216.03" y1="310.88" x2="217.63" y2="310.88" stroke="#3f7fc0" stroke-width="0.7" opacity="0.75"/>
<line x1="214.92" y1="304.21" x2="216.52" y2="304.21" stroke="#3f7fc0" stroke-width="0.7" opacity="0.75"/>
<line x1="217.17" y1="332.31" x2="218.77" y2="332.31" stroke="#3f7fc0" stroke-width="0.7" opacity="0.75"/>
<line x1="216.91" y1="362.35" x2="218.51" y2="362.35" stroke="#3f7fc0" stroke-width="0.7" opacity="0.75"/>
<line x1="216.06" y1="359.92" x2="217.66" y2="359.92" stroke="#3f7fc0" stroke-width="0.7" opacity="0.75"/>
<line x1="215.25" y1="379.62" x2="216.85" y2="379.62" stroke="#3f7fc0" stroke-width="0.7" opacity="0.75"/>
<line x1="217.95" y1="312.19" x2="219.55" y2="312.19" stroke="#3f7fc0" stroke-width="0.7" opacity="0.75"/>
<line x1="217.20" y1="398.00" x2="217.20" y2="400.00" stroke="#5a5a5a" stroke-width="0.5"/>
<path d="M188.6,271.1 V267.6 H217.2 V271.1" fill="none" stroke="#7a7a7a" stroke-width="0.6"/>
<text x="183.70" y="257.00" font-size="7.35" text-anchor="start" fill="#1e1e1e" stroke="#1e1e1e" stroke-width="0.22"><tspan font-style="italic">P</tspan> = 0.0071</text>
<text x="195.00" y="408.30" font-size="7.35" text-anchor="end" fill="#1e1e1e" stroke="#1e1e1e" stroke-width="0.22" transform="rotate(-30 195.00 408.30)">Levels I–III</text>
<text x="228.40" y="407.40" font-size="7.35" text-anchor="end" fill="#1e1e1e" stroke="#1e1e1e" stroke-width="0.22" transform="rotate(-30 228.40 407.40)">Levels IV and V</text>
<text x="0" y="0" font-size="14.8" fill="#111" stroke="#111" stroke-width="0.22" transform="translate(249.20 248.80) scale(1 1.06)">E</text>
<line x1="284.60" y1="256.10" x2="284.60" y2="408.50" stroke="#5a5a5a" stroke-width="0.7"/>
<line x1="284.60" y1="408.50" x2="374.10" y2="408.50" stroke="#5a5a5a" stroke-width="0.7"/>
<line x1="282.60" y1="400.90" x2="284.60" y2="400.90" stroke="#5a5a5a" stroke-width="0.5"/>
<text x="281.10" y="403.10" font-size="7.35" text-anchor="end" fill="#1e1e1e" stroke="#1e1e1e" stroke-width="0.22">0%</text>
<line x1="282.60" y1="364.82" x2="284.60" y2="364.82" stroke="#5a5a5a" stroke-width="0.5"/>
<text x="281.10" y="367.03" font-size="7.35" text-anchor="end" fill="#1e1e1e" stroke="#1e1e1e" stroke-width="0.22">25%</text>
<line x1="282.60" y1="328.75" x2="284.60" y2="328.75" stroke="#5a5a5a" stroke-width="0.5"/>
<text x="281.10" y="330.95" font-size="7.35" text-anchor="end" fill="#1e1e1e" stroke="#1e1e1e" stroke-width="0.22">50%</text>
<line x1="282.60" y1="292.68" x2="284.60" y2="292.68" stroke="#5a5a5a" stroke-width="0.5"/>
<text x="281.10" y="294.88" font-size="7.35" text-anchor="end" fill="#1e1e1e" stroke="#1e1e1e" stroke-width="0.22">75%</text>
<line x1="282.60" y1="256.60" x2="284.60" y2="256.60" stroke="#5a5a5a" stroke-width="0.5"/>
<text x="281.10" y="258.81" font-size="7.35" text-anchor="end" fill="#1e1e1e" stroke="#1e1e1e" stroke-width="0.22">100%</text>
<rect x="291.10" y="256.60" width="36.40" height="144.30" fill="#f3f7fd"/>
<rect x="291.10" y="383.15" width="36.40" height="17.75" fill="#c7c2e3"/>
<rect x="331.60" y="256.60" width="36.50" height="144.30" fill="#f3f7fd"/>
<rect x="331.60" y="343.04" width="36.50" height="57.86" fill="#c7c2e3"/>
<text x="310.90" y="321.50" font-size="7.35" text-anchor="middle" fill="#1e1e1e" stroke="#1e1e1e" stroke-width="0.22">87.7%</text>
<text x="352.00" y="301.31" font-size="7.35" text-anchor="middle" fill="#1e1e1e" stroke="#1e1e1e" stroke-width="0.22">59.9%</text>
<text x="311.30" y="393.50" font-size="7.35" text-anchor="middle" fill="#1e1e1e" stroke="#1e1e1e" stroke-width="0.22">12.3%</text>
<text x="351.80" y="373.90" font-size="7.35" text-anchor="middle" fill="#1e1e1e" stroke="#1e1e1e" stroke-width="0.22">40.1%</text>
<text x="332.80" y="254.71" font-size="7.35" text-anchor="middle" fill="#1e1e1e" stroke="#1e1e1e" stroke-width="0.22"><tspan font-style="italic">P</tspan> = 1.056e-05</text>
<line x1="309.30" y1="408.50" x2="309.30" y2="410.50" stroke="#5a5a5a" stroke-width="0.5"/>
<text x="309.30" y="417.60" font-size="7.35" text-anchor="middle" fill="#1e1e1e" stroke="#1e1e1e" stroke-width="0.22">Other</text>
<line x1="349.85" y1="408.50" x2="349.85" y2="410.50" stroke="#5a5a5a" stroke-width="0.5"/>
<text x="351.60" y="417.60" font-size="7.35" text-anchor="middle" fill="#1e1e1e" stroke="#1e1e1e" stroke-width="0.22">Spastic</text>
<rect x="296.20" y="425.20" width="4.40" height="4.20" fill="#c7c2e3" stroke="#8a8a8a" stroke-width="0.5"/>
<text x="304.80" y="429.70" font-size="7.35" text-anchor="start" fill="#1e1e1e" stroke="#1e1e1e" stroke-width="0.22">Preterm birth</text>
<rect x="296.20" y="436.60" width="4.40" height="4.20" fill="#f6f8fb" stroke="#8a8a8a" stroke-width="0.5"/>
<text x="304.80" y="440.90" font-size="7.35" text-anchor="start" fill="#1e1e1e" stroke="#1e1e1e" stroke-width="0.22">non-Preterm birth</text>
<polygon points="368.1,299.4 392,256.3 392,397 368.1,360.5" fill="#ebe9e9"/>
<rect x="424.80" y="259.70" width="60.20" height="137.30" fill="none" stroke="#8c8c8c" stroke-width="0.6"/>
<line x1="422.80" y1="290.10" x2="424.80" y2="290.10" stroke="#5a5a5a" stroke-width="0.5"/>
<text x="419.80" y="292.50" font-size="8.0" text-anchor="end" fill="#1e1e1e" stroke="#1e1e1e" stroke-width="0.22">8.1</text>
<line x1="422.80" y1="327.70" x2="424.80" y2="327.70" stroke="#5a5a5a" stroke-width="0.5"/>
<text x="419.80" y="330.10" font-size="8.0" text-anchor="end" fill="#1e1e1e" stroke="#1e1e1e" stroke-width="0.22">7.9</text>
<line x1="422.80" y1="365.00" x2="424.80" y2="365.00" stroke="#5a5a5a" stroke-width="0.5"/>
<text x="419.80" y="367.40" font-size="8.0" text-anchor="end" fill="#1e1e1e" stroke="#1e1e1e" stroke-width="0.22">7.7</text>
<text x="0" y="0" font-size="8.0" fill="#1e1e1e" stroke="#1e1e1e" stroke-width="0.22" text-anchor="middle" transform="translate(403.60 324.00) rotate(-90)">log<tspan font-size="4.6" dy="1.6">2</tspan><tspan dy="-1.6">(GA)</tspan></text>
<line x1="440.95" y1="271.40" x2="440.95" y2="285.20" stroke="#b5402f" stroke-width="0.6"/>
<line x1="440.95" y1="328.70" x2="440.95" y2="381.20" stroke="#b5402f" stroke-width="0.6"/>
<rect x="430.40" y="285.20" width="21.10" height="43.50" fill="none" stroke="#d4867a" stroke-width="0.7"/>
<line x1="430.40" y1="294.70" x2="451.50" y2="294.70" stroke="#d4867a" stroke-width="0.7"/>
<line x1="438.59" y1="299.43" x2="440.19" y2="299.43" stroke="#b5402f" stroke-width="0.7" opacity="0.75"/>
<line x1="440.07" y1="296.98" x2="441.67" y2="296.98" stroke="#b5402f" stroke-width="0.7" opacity="0.75"/>
<line x1="440.70" y1="320.58" x2="442.30" y2="320.58" stroke="#b5402f" stroke-width="0.7" opacity="0.75"/>
<line x1="440.06" y1="356.88" x2="441.66" y2="356.88" stroke="#b5402f" stroke-width="0.7" opacity="0.75"/>
<line x1="441.50" y1="349.81" x2="443.10" y2="349.81" stroke="#b5402f" stroke-width="0.7" opacity="0.75"/>
<line x1="441.64" y1="331.18" x2="443.24" y2="331.18" stroke="#b5402f" stroke-width="0.7" opacity="0.75"/>
<line x1="440.42" y1="304.85" x2="442.02" y2="304.85" stroke="#b5402f" stroke-width="0.7" opacity="0.75"/>
<line x1="441.52" y1="346.28" x2="443.12" y2="346.28" stroke="#b5402f" stroke-width="0.7" opacity="0.75"/>
<line x1="439.07" y1="345.11" x2="440.67" y2="345.11" stroke="#b5402f" stroke-width="0.7" opacity="0.75"/>
<line x1="440.37" y1="370.74" x2="441.97" y2="370.74" stroke="#b5402f" stroke-width="0.7" opacity="0.75"/>
<line x1="441.28" y1="349.26" x2="442.88" y2="349.26" stroke="#b5402f" stroke-width="0.7" opacity="0.75"/>
<line x1="441.01" y1="354.28" x2="442.61" y2="354.28" stroke="#b5402f" stroke-width="0.7" opacity="0.75"/>
<line x1="441.37" y1="309.30" x2="442.97" y2="309.30" stroke="#b5402f" stroke-width="0.7" opacity="0.75"/>
<line x1="439.86" y1="312.40" x2="441.46" y2="312.40" stroke="#b5402f" stroke-width="0.7" opacity="0.75"/>
<line x1="441.42" y1="283.45" x2="443.02" y2="283.45" stroke="#b5402f" stroke-width="0.7" opacity="0.75"/>
<line x1="440.53" y1="309.45" x2="442.13" y2="309.45" stroke="#b5402f" stroke-width="0.7" opacity="0.75"/>
<line x1="441.68" y1="321.88" x2="443.28" y2="321.88" stroke="#b5402f" stroke-width="0.7" opacity="0.75"/>
<line x1="440.52" y1="274.88" x2="442.12" y2="274.88" stroke="#b5402f" stroke-width="0.7" opacity="0.75"/>
<line x1="440.81" y1="312.25" x2="442.41" y2="312.25" stroke="#b5402f" stroke-width="0.7" opacity="0.75"/>
<line x1="439.57" y1="283.04" x2="441.17" y2="283.04" stroke="#b5402f" stroke-width="0.7" opacity="0.75"/>
<line x1="441.02" y1="313.76" x2="442.62" y2="313.76" stroke="#b5402f" stroke-width="0.7" opacity="0.75"/>
<line x1="439.31" y1="344.32" x2="440.91" y2="344.32" stroke="#b5402f" stroke-width="0.7" opacity="0.75"/>
<line x1="441.29" y1="288.46" x2="442.89" y2="288.46" stroke="#b5402f" stroke-width="0.7" opacity="0.75"/>
<line x1="438.94" y1="325.24" x2="440.54" y2="325.24" stroke="#b5402f" stroke-width="0.7" opacity="0.75"/>
<line x1="441.13" y1="352.59" x2="442.73" y2="352.59" stroke="#b5402f" stroke-width="0.7" opacity="0.75"/>
<line x1="439.42" y1="312.56" x2="441.02" y2="312.56" stroke="#b5402f" stroke-width="0.7" opacity="0.75"/>
<line x1="441.37" y1="364.05" x2="442.97" y2="364.05" stroke="#b5402f" stroke-width="0.7" opacity="0.75"/>
<line x1="440.21" y1="284.27" x2="441.81" y2="284.27" stroke="#b5402f" stroke-width="0.7" opacity="0.75"/>
<line x1="441.14" y1="292.61" x2="442.74" y2="292.61" stroke="#b5402f" stroke-width="0.7" opacity="0.75"/>
<line x1="441.51" y1="347.57" x2="443.11" y2="347.57" stroke="#b5402f" stroke-width="0.7" opacity="0.75"/>
<line x1="438.59" y1="334.75" x2="440.19" y2="334.75" stroke="#b5402f" stroke-width="0.7" opacity="0.75"/>
<line x1="441.55" y1="299.21" x2="443.15" y2="299.21" stroke="#b5402f" stroke-width="0.7" opacity="0.75"/>
<line x1="439.68" y1="297.94" x2="441.28" y2="297.94" stroke="#b5402f" stroke-width="0.7" opacity="0.75"/>
<line x1="438.57" y1="317.59" x2="440.17" y2="317.59" stroke="#b5402f" stroke-width="0.7" opacity="0.75"/>
<line x1="439.42" y1="276.88" x2="441.02" y2="276.88" stroke="#b5402f" stroke-width="0.7" opacity="0.75"/>
<line x1="438.95" y1="341.53" x2="440.55" y2="341.53" stroke="#b5402f" stroke-width="0.7" opacity="0.75"/>
<line x1="438.83" y1="365.22" x2="440.43" y2="365.22" stroke="#b5402f" stroke-width="0.7" opacity="0.75"/>
<line x1="439.70" y1="295.58" x2="441.30" y2="295.58" stroke="#b5402f" stroke-width="0.7" opacity="0.75"/>
<line x1="438.81" y1="282.98" x2="440.41" y2="282.98" stroke="#b5402f" stroke-width="0.7" opacity="0.75"/>
<line x1="440.54" y1="325.49" x2="442.14" y2="325.49" stroke="#b5402f" stroke-width="0.7" opacity="0.75"/>
<line x1="440.02" y1="316.07" x2="441.62" y2="316.07" stroke="#b5402f" stroke-width="0.7" opacity="0.75"/>
<line x1="439.75" y1="290.03" x2="441.35" y2="290.03" stroke="#b5402f" stroke-width="0.7" opacity="0.75"/>
<line x1="440.67" y1="318.81" x2="442.27" y2="318.81" stroke="#b5402f" stroke-width="0.7" opacity="0.75"/>
<line x1="440.43" y1="321.01" x2="442.03" y2="321.01" stroke="#b5402f" stroke-width="0.7" opacity="0.75"/>
<line x1="438.94" y1="319.06" x2="440.54" y2="319.06" stroke="#b5402f" stroke-width="0.7" opacity="0.75"/>
<line x1="438.67" y1="336.01" x2="440.27" y2="336.01" stroke="#b5402f" stroke-width="0.7" opacity="0.75"/>
<line x1="440.35" y1="359.28" x2="441.95" y2="359.28" stroke="#b5402f" stroke-width="0.7" opacity="0.75"/>
<line x1="439.81" y1="288.89" x2="441.41" y2="288.89" stroke="#b5402f" stroke-width="0.7" opacity="0.75"/>
<line x1="441.66" y1="331.20" x2="443.26" y2="331.20" stroke="#b5402f" stroke-width="0.7" opacity="0.75"/>
<line x1="440.20" y1="284.01" x2="441.80" y2="284.01" stroke="#b5402f" stroke-width="0.7" opacity="0.75"/>
<line x1="439.15" y1="286.97" x2="440.75" y2="286.97" stroke="#b5402f" stroke-width="0.7" opacity="0.75"/>
<line x1="441.60" y1="332.81" x2="443.20" y2="332.81" stroke="#b5402f" stroke-width="0.7" opacity="0.75"/>
<line x1="439.25" y1="303.56" x2="440.85" y2="303.56" stroke="#b5402f" stroke-width="0.7" opacity="0.75"/>
<line x1="441.03" y1="311.55" x2="442.63" y2="311.55" stroke="#b5402f" stroke-width="0.7" opacity="0.75"/>
<line x1="440.47" y1="324.06" x2="442.07" y2="324.06" stroke="#b5402f" stroke-width="0.7" opacity="0.75"/>
<line x1="441.29" y1="338.97" x2="442.89" y2="338.97" stroke="#b5402f" stroke-width="0.7" opacity="0.75"/>
<line x1="441.62" y1="288.67" x2="443.22" y2="288.67" stroke="#b5402f" stroke-width="0.7" opacity="0.75"/>
<line x1="441.30" y1="306.51" x2="442.90" y2="306.51" stroke="#b5402f" stroke-width="0.7" opacity="0.75"/>
<line x1="441.22" y1="335.94" x2="442.82" y2="335.94" stroke="#b5402f" stroke-width="0.7" opacity="0.75"/>
<line x1="439.95" y1="367.08" x2="441.55" y2="367.08" stroke="#b5402f" stroke-width="0.7" opacity="0.75"/>
<line x1="438.93" y1="323.58" x2="440.53" y2="323.58" stroke="#b5402f" stroke-width="0.7" opacity="0.75"/>
<line x1="439.50" y1="281.06" x2="441.10" y2="281.06" stroke="#b5402f" stroke-width="0.7" opacity="0.75"/>
<line x1="438.91" y1="322.52" x2="440.51" y2="322.52" stroke="#b5402f" stroke-width="0.7" opacity="0.75"/>
<line x1="440.62" y1="324.92" x2="442.22" y2="324.92" stroke="#b5402f" stroke-width="0.7" opacity="0.75"/>
<line x1="440.86" y1="302.65" x2="442.46" y2="302.65" stroke="#b5402f" stroke-width="0.7" opacity="0.75"/>
<line x1="438.77" y1="332.29" x2="440.37" y2="332.29" stroke="#b5402f" stroke-width="0.7" opacity="0.75"/>
<line x1="439.78" y1="322.33" x2="441.38" y2="322.33" stroke="#b5402f" stroke-width="0.7" opacity="0.75"/>
<line x1="439.62" y1="300.14" x2="441.22" y2="300.14" stroke="#b5402f" stroke-width="0.7" opacity="0.75"/>
<line x1="438.91" y1="344.48" x2="440.51" y2="344.48" stroke="#b5402f" stroke-width="0.7" opacity="0.75"/>
<line x1="441.16" y1="295.28" x2="442.76" y2="295.28" stroke="#b5402f" stroke-width="0.7" opacity="0.75"/>
<line x1="440.37" y1="301.67" x2="441.97" y2="301.67" stroke="#b5402f" stroke-width="0.7" opacity="0.75"/>
<line x1="440.58" y1="333.58" x2="442.18" y2="333.58" stroke="#b5402f" stroke-width="0.7" opacity="0.75"/>
<line x1="440.88" y1="300.72" x2="442.48" y2="300.72" stroke="#b5402f" stroke-width="0.7" opacity="0.75"/>
<line x1="439.17" y1="322.56" x2="440.77" y2="322.56" stroke="#b5402f" stroke-width="0.7" opacity="0.75"/>
<line x1="441.62" y1="315.21" x2="443.22" y2="315.21" stroke="#b5402f" stroke-width="0.7" opacity="0.75"/>
<line x1="439.30" y1="363.22" x2="440.90" y2="363.22" stroke="#b5402f" stroke-width="0.7" opacity="0.75"/>
<line x1="440.47" y1="361.24" x2="442.07" y2="361.24" stroke="#b5402f" stroke-width="0.7" opacity="0.75"/>
<line x1="441.31" y1="312.80" x2="442.91" y2="312.80" stroke="#b5402f" stroke-width="0.7" opacity="0.75"/>
<line x1="440.14" y1="328.25" x2="441.74" y2="328.25" stroke="#b5402f" stroke-width="0.7" opacity="0.75"/>
<line x1="440.97" y1="317.15" x2="442.57" y2="317.15" stroke="#b5402f" stroke-width="0.7" opacity="0.75"/>
<line x1="439.27" y1="303.10" x2="440.87" y2="303.10" stroke="#b5402f" stroke-width="0.7" opacity="0.75"/>
<line x1="439.84" y1="325.86" x2="441.44" y2="325.86" stroke="#b5402f" stroke-width="0.7" opacity="0.75"/>
<line x1="438.62" y1="287.11" x2="440.22" y2="287.11" stroke="#b5402f" stroke-width="0.7" opacity="0.75"/>
<line x1="439.25" y1="348.44" x2="440.85" y2="348.44" stroke="#b5402f" stroke-width="0.7" opacity="0.75"/>
<line x1="438.72" y1="296.17" x2="440.32" y2="296.17" stroke="#b5402f" stroke-width="0.7" opacity="0.75"/>
<line x1="441.16" y1="347.02" x2="442.76" y2="347.02" stroke="#b5402f" stroke-width="0.7" opacity="0.75"/>
<line x1="438.67" y1="303.45" x2="440.27" y2="303.45" stroke="#b5402f" stroke-width="0.7" opacity="0.75"/>
<line x1="441.58" y1="345.54" x2="443.18" y2="345.54" stroke="#b5402f" stroke-width="0.7" opacity="0.75"/>
<line x1="439.11" y1="298.29" x2="440.71" y2="298.29" stroke="#b5402f" stroke-width="0.7" opacity="0.75"/>
<line x1="441.04" y1="343.58" x2="442.64" y2="343.58" stroke="#b5402f" stroke-width="0.7" opacity="0.75"/>
<line x1="439.79" y1="288.54" x2="441.39" y2="288.54" stroke="#b5402f" stroke-width="0.7" opacity="0.75"/>
<line x1="439.31" y1="302.59" x2="440.91" y2="302.59" stroke="#b5402f" stroke-width="0.7" opacity="0.75"/>
<line x1="440.90" y1="347.30" x2="442.50" y2="347.30" stroke="#b5402f" stroke-width="0.7" opacity="0.75"/>
<line x1="438.81" y1="282.16" x2="440.41" y2="282.16" stroke="#b5402f" stroke-width="0.7" opacity="0.75"/>
<line x1="438.59" y1="278.86" x2="440.19" y2="278.86" stroke="#b5402f" stroke-width="0.7" opacity="0.75"/>
<line x1="440.35" y1="295.56" x2="441.95" y2="295.56" stroke="#b5402f" stroke-width="0.7" opacity="0.75"/>
<line x1="439.12" y1="317.83" x2="440.72" y2="317.83" stroke="#b5402f" stroke-width="0.7" opacity="0.75"/>
<line x1="440.60" y1="294.83" x2="442.20" y2="294.83" stroke="#b5402f" stroke-width="0.7" opacity="0.75"/>
<line x1="440.48" y1="309.40" x2="442.08" y2="309.40" stroke="#b5402f" stroke-width="0.7" opacity="0.75"/>
<line x1="440.88" y1="337.83" x2="442.48" y2="337.83" stroke="#b5402f" stroke-width="0.7" opacity="0.75"/>
<line x1="439.90" y1="309.21" x2="441.50" y2="309.21" stroke="#b5402f" stroke-width="0.7" opacity="0.75"/>
<line x1="439.25" y1="296.96" x2="440.85" y2="296.96" stroke="#b5402f" stroke-width="0.7" opacity="0.75"/>
<line x1="441.35" y1="351.15" x2="442.95" y2="351.15" stroke="#b5402f" stroke-width="0.7" opacity="0.75"/>
<line x1="440.10" y1="288.18" x2="441.70" y2="288.18" stroke="#b5402f" stroke-width="0.7" opacity="0.75"/>
<line x1="440.86" y1="315.58" x2="442.46" y2="315.58" stroke="#b5402f" stroke-width="0.7" opacity="0.75"/>
<line x1="440.92" y1="333.84" x2="442.52" y2="333.84" stroke="#b5402f" stroke-width="0.7" opacity="0.75"/>
<line x1="439.04" y1="288.51" x2="440.64" y2="288.51" stroke="#b5402f" stroke-width="0.7" opacity="0.75"/>
<line x1="440.28" y1="291.98" x2="441.88" y2="291.98" stroke="#b5402f" stroke-width="0.7" opacity="0.75"/>
<line x1="440.03" y1="302.71" x2="441.63" y2="302.71" stroke="#b5402f" stroke-width="0.7" opacity="0.75"/>
<line x1="440.26" y1="320.84" x2="441.86" y2="320.84" stroke="#b5402f" stroke-width="0.7" opacity="0.75"/>
<line x1="440.95" y1="397.00" x2="440.95" y2="399.00" stroke="#5a5a5a" stroke-width="0.5"/>
<line x1="467.95" y1="278.10" x2="467.95" y2="299.40" stroke="#3f7fc0" stroke-width="0.6"/>
<line x1="467.95" y1="358.10" x2="467.95" y2="390.90" stroke="#3f7fc0" stroke-width="0.6"/>
<rect x="457.10" y="299.40" width="21.70" height="58.70" fill="none" stroke="#6fa5da" stroke-width="0.7"/>
<line x1="457.10" y1="340.30" x2="478.80" y2="340.30" stroke="#6fa5da" stroke-width="0.7"/>
<line x1="468.49" y1="364.86" x2="470.09" y2="364.86" stroke="#3f7fc0" stroke-width="0.7" opacity="0.75"/>
<line x1="465.89" y1="330.02" x2="467.49" y2="330.02" stroke="#3f7fc0" stroke-width="0.7" opacity="0.75"/>
<line x1="468.13" y1="371.60" x2="469.73" y2="371.60" stroke="#3f7fc0" stroke-width="0.7" opacity="0.75"/>
<line x1="468.37" y1="308.91" x2="469.97" y2="308.91" stroke="#3f7fc0" stroke-width="0.7" opacity="0.75"/>
<line x1="465.84" y1="365.16" x2="467.44" y2="365.16" stroke="#3f7fc0" stroke-width="0.7" opacity="0.75"/>
<line x1="466.51" y1="339.87" x2="468.11" y2="339.87" stroke="#3f7fc0" stroke-width="0.7" opacity="0.75"/>
<line x1="467.47" y1="362.18" x2="469.07" y2="362.18" stroke="#3f7fc0" stroke-width="0.7" opacity="0.75"/>
<line x1="467.26" y1="314.87" x2="468.86" y2="314.87" stroke="#3f7fc0" stroke-width="0.7" opacity="0.75"/>
<line x1="466.69" y1="321.06" x2="468.29" y2="321.06" stroke="#3f7fc0" stroke-width="0.7" opacity="0.75"/>
<line x1="467.52" y1="355.60" x2="469.12" y2="355.60" stroke="#3f7fc0" stroke-width="0.7" opacity="0.75"/>
<line x1="468.42" y1="357.21" x2="470.02" y2="357.21" stroke="#3f7fc0" stroke-width="0.7" opacity="0.75"/>
<line x1="468.57" y1="305.03" x2="470.17" y2="305.03" stroke="#3f7fc0" stroke-width="0.7" opacity="0.75"/>
<line x1="466.77" y1="324.59" x2="468.37" y2="324.59" stroke="#3f7fc0" stroke-width="0.7" opacity="0.75"/>
<line x1="465.86" y1="319.21" x2="467.46" y2="319.21" stroke="#3f7fc0" stroke-width="0.7" opacity="0.75"/>
<line x1="467.72" y1="356.27" x2="469.32" y2="356.27" stroke="#3f7fc0" stroke-width="0.7" opacity="0.75"/>
<line x1="466.86" y1="332.14" x2="468.46" y2="332.14" stroke="#3f7fc0" stroke-width="0.7" opacity="0.75"/>
<line x1="466.35" y1="363.77" x2="467.95" y2="363.77" stroke="#3f7fc0" stroke-width="0.7" opacity="0.75"/>
<line x1="466.22" y1="350.41" x2="467.82" y2="350.41" stroke="#3f7fc0" stroke-width="0.7" opacity="0.75"/>
<line x1="465.71" y1="294.08" x2="467.31" y2="294.08" stroke="#3f7fc0" stroke-width="0.7" opacity="0.75"/>
<line x1="466.22" y1="354.31" x2="467.82" y2="354.31" stroke="#3f7fc0" stroke-width="0.7" opacity="0.75"/>
<line x1="466.63" y1="382.39" x2="468.23" y2="382.39" stroke="#3f7fc0" stroke-width="0.7" opacity="0.75"/>
<line x1="467.75" y1="341.71" x2="469.35" y2="341.71" stroke="#3f7fc0" stroke-width="0.7" opacity="0.75"/>
<line x1="467.95" y1="397.00" x2="467.95" y2="399.00" stroke="#5a5a5a" stroke-width="0.5"/>
<path d="M440.3,269.0 V266.4 H468.2 V269.0" fill="none" stroke="#7a7a7a" stroke-width="0.6"/>
<text x="454.25" y="265.75" font-size="6.5" text-anchor="middle" fill="#1e1e1e" stroke="#1e1e1e" stroke-width="0.05">***</text>
<text x="433.20" y="254.41" font-size="7.35" text-anchor="start" fill="#1e1e1e" stroke="#1e1e1e" stroke-width="0.22"><tspan font-style="italic">P</tspan> = 0.0084</text>
<text x="451.70" y="407.80" font-size="7.35" text-anchor="end" fill="#1e1e1e" stroke="#1e1e1e" stroke-width="0.22" transform="rotate(-30 451.70 407.80)">Levels I–III</text>
<text x="484.60" y="406.90" font-size="7.35" text-anchor="end" fill="#1e1e1e" stroke="#1e1e1e" stroke-width="0.22" transform="rotate(-30 484.60 406.90)">Levels IV and V</text>
<text x="0" y="0" font-size="14.8" fill="#111" stroke="#111" stroke-width="0.22" transform="translate(501.00 249.40) scale(1 1.06)">F</text>
<rect x="529.10" y="250.20" width="150.40" height="155.90" fill="none" stroke="#8c8c8c" stroke-width="0.6"/>
<path d="M581.6 339.2h0M622.4 317.4h0M579.7 346.1h0M612.9 305.6h0M581.7 359.2h0M617.1 309.8h0M632.3 291.5h0M602.2 330.6h0M589.7 351.0h0M605.9 322.7h0M597.8 331.6h0M609.1 313.5h0M624.3 307.2h0M571.2 343.7h0M578.0 348.7h0M577.0 347.4h0M589.8 334.7h0M619.6 329.4h0M598.8 322.1h0M602.4 322.7h0M606.0 336.4h0M614.5 327.3h0M638.5 304.5h0M616.7 315.7h0M621.6 319.1h0M622.5 312.7h0M627.3 299.8h0M606.7 333.1h0M618.2 309.0h0M634.3 306.3h0M614.3 311.6h0M609.3 319.2h0M607.4 330.4h0M585.4 345.5h0M615.0 299.0h0M622.1 298.9h0M618.4 306.1h0M607.5 313.9h0M636.7 303.8h0M591.3 312.5h0M608.6 310.6h0M620.2 326.7h0M607.4 314.2h0M606.4 334.6h0M602.0 323.0h0M624.6 301.0h0M605.2 308.7h0M590.1 327.5h0M624.5 313.0h0M571.2 363.0h0M608.5 316.0h0M632.6 315.2h0M604.1 318.0h0M601.2 356.6h0M622.6 322.1h0M596.5 329.2h0M606.2 305.5h0M602.6 304.7h0M591.5 341.6h0M617.4 298.2h0M616.1 312.6h0M570.6 361.1h0M592.9 341.2h0M614.9 321.3h0M618.6 313.3h0M598.0 329.3h0M612.0 309.2h0M595.3 335.6h0M579.0 326.6h0M630.8 306.7h0M595.3 347.7h0M607.2 320.9h0M630.0 302.9h0M574.5 347.3h0M574.5 307.6h0M624.7 302.6h0M600.9 354.1h0M601.8 346.4h0M615.1 342.8h0M587.4 324.5h0M634.3 315.9h0M575.9 337.8h0M619.8 325.2h0M591.3 344.3h0M582.2 351.4h0M627.1 299.2h0M641.9 296.7h0M601.6 339.6h0M601.8 343.4h0M571.4 343.5h0M630.6 294.7h0M628.6 303.3h0M590.9 335.3h0M597.2 344.7h0M604.0 324.1h0M595.4 315.6h0M607.4 316.2h0M626.5 317.8h0M567.9 345.7h0M591.4 320.2h0M610.3 308.8h0M618.1 339.6h0M617.3 323.4h0M590.2 342.1h0M618.2 304.0h0M622.7 330.9h0M593.2 363.0h0M602.2 320.1h0M590.1 334.1h0M608.4 310.3h0M589.0 347.8h0M590.1 316.0h0M624.1 311.3h0M608.2 321.2h0M607.8 325.4h0M598.0 345.8h0M592.3 315.4h0M614.0 317.2h0M600.1 328.2h0M610.6 328.4h0M607.7 320.1h0M590.3 346.3h0M585.7 353.3h0M620.5 341.1h0M599.2 337.1h0M592.7 333.8h0M624.8 308.4h0M601.5 335.2h0M601.7 316.8h0M596.9 345.4h0M580.9 357.7h0M578.5 333.0h0M610.6 323.5h0M630.9 312.3h0M617.9 305.2h0M587.0 328.5h0M627.9 321.6h0M623.4 315.1h0M596.9 338.2h0M598.1 352.4h0M585.7 355.4h0M613.1 293.6h0M572.4 356.0h0M586.8 315.8h0M614.6 326.2h0M621.3 305.7h0M574.2 356.0h0M599.7 329.1h0M606.5 328.0h0M607.6 330.1h0M587.6 320.8h0M610.7 315.3h0M574.8 351.2h0M619.2 329.3h0M624.3 314.4h0M611.5 321.5h0M608.1 308.2h0M596.7 313.0h0M589.7 348.5h0M617.2 328.2h0M597.3 320.4h0M626.4 329.4h0M613.4 295.8h0M626.1 311.2h0M593.1 338.2h0M582.9 345.9h0M600.7 330.3h0M625.8 311.3h0M577.3 334.6h0M584.4 346.9h0M601.6 331.9h0M585.7 343.5h0M601.6 314.3h0M617.8 305.8h0M619.9 336.8h0M588.2 337.0h0M613.3 303.0h0M612.7 321.8h0M604.8 327.8h0M608.6 314.1h0M597.9 340.6h0M588.4 325.2h0M627.7 295.1h0M619.9 303.3h0M604.1 317.9h0M584.8 343.7h0M590.6 327.9h0M593.4 335.6h0M611.5 303.7h0M589.5 348.7h0M619.1 327.1h0" stroke="#bdbdbd" stroke-opacity="0.5" stroke-width="3.6" stroke-linecap="round" fill="none"/>
<path d="M612.4 326.0h0M602.2 349.3h0M617.2 321.4h0M587.6 314.1h0M611.6 324.0h0M606.1 305.0h0M603.6 320.8h0M613.6 329.2h0M606.5 330.0h0M581.2 333.6h0M616.3 315.2h0M587.4 363.2h0M613.0 319.9h0M573.1 351.2h0M576.1 348.5h0M606.7 319.5h0M608.1 320.6h0M583.1 347.2h0M594.7 336.2h0M609.1 314.4h0M634.2 332.7h0M611.5 322.3h0M573.7 345.3h0M594.5 321.5h0M584.7 342.5h0M601.7 328.9h0M593.4 356.5h0M612.6 307.1h0M602.8 339.1h0M607.8 316.1h0M600.9 328.6h0M630.0 318.6h0M593.8 356.9h0M591.2 345.0h0M586.4 348.2h0M637.1 301.8h0M602.0 301.1h0M603.0 347.5h0M611.5 331.2h0M634.2 316.8h0M593.4 353.6h0M605.9 336.6h0M602.9 331.3h0M592.8 323.5h0M621.3 311.4h0M587.5 351.9h0M609.1 293.2h0M595.7 342.0h0M591.3 349.2h0M586.2 342.6h0M630.5 304.8h0M594.7 352.7h0M608.0 323.0h0M581.5 356.9h0M603.3 314.3h0M615.6 314.2h0M598.2 326.7h0M603.9 299.9h0M583.3 346.9h0M627.4 310.4h0M630.3 305.5h0M606.8 328.2h0M578.7 357.7h0M615.2 305.5h0M614.6 305.2h0M599.2 332.4h0M622.2 315.6h0M579.6 348.1h0M594.1 326.5h0M590.9 349.1h0M598.0 312.1h0M603.2 324.6h0M604.3 322.2h0M621.2 295.5h0M573.9 333.6h0M604.0 329.7h0M585.2 335.1h0M617.6 316.5h0M600.6 341.9h0M637.7 302.0h0M596.9 335.2h0M589.7 346.6h0M605.8 320.7h0M594.8 334.4h0M578.5 340.0h0M590.3 334.2h0M587.4 345.3h0M608.1 337.2h0M602.8 335.7h0M609.6 337.9h0M594.8 325.8h0M594.7 347.6h0M582.3 352.5h0M604.3 333.4h0M604.4 292.0h0M636.7 312.3h0M610.4 319.8h0M601.6 315.3h0M598.0 334.6h0M597.2 332.5h0M627.7 297.7h0M579.4 350.8h0M589.4 327.7h0M608.2 311.9h0M603.0 349.7h0M612.4 316.5h0M613.4 334.0h0M605.6 332.9h0M591.5 331.7h0M610.6 331.4h0M593.5 320.8h0M603.1 353.7h0M588.2 333.4h0M610.8 318.1h0M584.6 346.8h0M598.0 340.0h0M605.3 329.6h0M610.3 303.7h0M617.7 309.9h0M599.7 347.6h0M602.0 321.0h0M585.6 325.6h0M598.0 326.3h0M598.1 345.7h0M642.1 309.5h0M621.0 319.0h0M609.2 331.4h0M596.4 320.9h0M639.9 307.5h0M604.3 314.3h0M592.5 326.6h0M589.7 330.1h0M612.1 304.9h0M610.8 334.8h0M616.3 329.3h0M617.9 296.7h0M615.1 323.7h0M626.0 306.3h0M581.2 348.4h0M630.2 308.7h0M606.3 328.2h0M573.1 356.7h0M610.7 318.1h0M600.9 354.0h0M626.6 299.3h0M622.9 295.2h0M595.9 339.6h0M609.9 301.1h0M573.1 353.3h0M590.9 329.6h0M631.0 307.9h0M581.3 343.4h0M598.9 348.5h0M620.4 319.1h0M616.7 331.6h0M624.3 327.1h0M623.5 332.1h0M629.5 310.1h0M575.5 351.5h0M610.3 332.8h0M595.0 329.8h0M596.2 327.0h0M609.6 309.4h0M591.4 305.3h0M618.8 310.4h0M624.0 298.5h0M606.0 331.8h0M622.9 305.7h0M612.7 317.7h0M609.2 314.0h0M606.8 304.7h0M593.3 339.3h0M610.0 312.2h0M618.6 296.4h0M595.3 318.8h0M612.7 331.5h0M601.6 302.8h0M618.5 320.0h0M591.2 335.2h0M609.9 332.5h0M582.3 345.7h0M595.5 296.6h0M596.7 339.2h0M624.8 308.4h0M581.4 328.5h0M598.4 346.4h0M610.0 315.3h0M597.9 322.4h0M619.2 324.4h0M601.7 312.9h0M622.5 294.4h0M638.2 298.4h0" stroke="#bdbdbd" stroke-opacity="0.5" stroke-width="3.6" stroke-linecap="round" fill="none"/>
<path d="M623.5 328.7h0M616.8 311.0h0M602.4 332.5h0M583.6 340.5h0M627.6 311.5h0M613.9 326.0h0M608.8 334.2h0M611.1 322.9h0M609.9 328.5h0M582.5 347.0h0M623.2 291.7h0M598.1 321.0h0M618.0 310.0h0M575.6 344.7h0M586.3 325.9h0M618.6 306.9h0M617.0 330.9h0M621.9 310.7h0M600.7 337.1h0M585.4 346.0h0M607.9 330.6h0M592.7 341.5h0M587.8 328.3h0M599.1 319.4h0M582.9 331.6h0M603.6 318.2h0M602.2 338.0h0M626.4 313.3h0M601.4 338.6h0M607.9 327.5h0M609.3 317.6h0M591.4 352.9h0M612.1 308.5h0M616.9 329.4h0M615.2 312.3h0M609.3 316.5h0M598.1 328.0h0M621.1 318.3h0M577.6 348.2h0M607.7 345.1h0M591.7 328.7h0M601.3 326.9h0M580.9 333.4h0M636.4 302.5h0M590.6 350.5h0M620.5 311.5h0M589.5 322.9h0M618.2 307.4h0M571.7 352.9h0M615.6 331.4h0M621.2 295.0h0M623.1 319.3h0M591.1 324.9h0M622.4 296.5h0M626.2 309.4h0M596.6 354.1h0M595.6 338.3h0M616.0 311.8h0M578.9 354.5h0M583.9 317.7h0M590.9 326.1h0M581.4 348.1h0M590.7 340.0h0M614.4 332.5h0M594.7 308.5h0M605.5 309.1h0M609.8 328.0h0M597.1 332.8h0M615.4 315.3h0M595.5 341.3h0M589.8 354.5h0M586.0 329.4h0M605.2 327.0h0M610.5 307.9h0M615.4 307.5h0M593.8 337.2h0M589.8 338.4h0M589.1 342.3h0M600.9 331.0h0M599.2 335.6h0M628.2 310.7h0M585.5 338.3h0M584.1 354.7h0M605.6 344.6h0M623.1 330.7h0M587.6 332.1h0M582.0 345.9h0M567.8 344.0h0M601.4 324.3h0M598.1 356.1h0M601.3 344.2h0M604.3 335.9h0M598.3 333.0h0M618.3 305.3h0M585.6 340.8h0M630.9 298.5h0M590.7 338.0h0M597.7 319.6h0M604.7 320.8h0M585.5 361.5h0M574.8 338.9h0M609.5 302.0h0M630.6 292.3h0M620.4 302.4h0M604.7 325.5h0M604.7 315.2h0M601.1 324.4h0M630.8 318.0h0M590.3 330.0h0M599.3 331.6h0M596.4 318.8h0M591.8 334.3h0M592.4 309.1h0M613.8 322.9h0M613.1 328.2h0M593.0 333.4h0M611.8 303.5h0M617.7 291.9h0M612.4 317.5h0M601.7 338.0h0M634.2 316.1h0M601.8 333.9h0M589.7 364.0h0M597.1 329.8h0M606.7 313.6h0M601.1 335.9h0M609.8 313.3h0M587.5 357.3h0M585.3 328.2h0M622.5 321.8h0M606.1 314.1h0M628.5 314.3h0M599.7 312.4h0M583.1 337.2h0M598.6 330.9h0M591.9 341.3h0M603.9 304.3h0M617.0 310.5h0M604.6 334.5h0M599.9 314.3h0M608.9 322.3h0M574.3 344.8h0M572.4 332.8h0M592.5 335.1h0M579.3 351.6h0M587.0 325.9h0M608.7 336.4h0M568.6 355.0h0M595.1 346.3h0M614.9 319.4h0M606.1 331.3h0M593.6 339.7h0M574.6 341.8h0M611.5 340.6h0M606.0 310.5h0M608.5 306.8h0M599.2 329.7h0M580.2 355.8h0M570.6 363.3h0M608.6 316.0h0M625.5 307.2h0M585.9 335.2h0M601.4 306.5h0M583.2 348.8h0M607.6 331.6h0M613.7 309.9h0M619.5 310.8h0M587.8 348.9h0M601.8 311.7h0M633.0 291.0h0M610.8 312.4h0M619.2 298.3h0M619.8 331.7h0M621.6 307.2h0M595.6 326.3h0M609.4 322.3h0M573.0 349.3h0M614.3 318.3h0M574.9 343.6h0M617.3 313.1h0M611.9 323.8h0M592.0 329.2h0M597.6 328.8h0M606.6 343.3h0M605.9 315.3h0M591.1 339.0h0M593.2 326.4h0M629.2 307.8h0M622.2 308.4h0M600.3 332.2h0M588.4 322.9h0M620.3 325.0h0" stroke="#bdbdbd" stroke-opacity="0.5" stroke-width="3.6" stroke-linecap="round" fill="none"/>
<path d="M619.6 322.2h0M576.4 333.5h0M580.6 330.4h0M607.8 312.1h0M613.5 304.5h0M610.5 313.8h0M608.7 309.0h0M596.9 319.4h0M631.8 304.5h0M612.2 325.6h0M598.8 326.9h0M597.8 341.5h0M603.6 324.0h0M610.0 312.6h0M571.5 334.9h0M600.9 337.6h0M597.3 326.0h0M620.1 317.5h0M607.0 342.7h0M607.2 324.7h0M596.2 321.5h0M589.7 318.9h0M598.0 331.2h0M593.4 328.9h0M614.3 316.0h0M600.2 330.6h0M596.7 320.1h0M594.5 335.2h0M600.3 337.9h0M599.9 346.7h0M611.6 313.4h0M598.6 311.6h0M589.0 331.2h0M612.9 325.3h0M599.7 318.7h0M605.2 321.6h0M629.7 302.8h0M573.5 359.0h0M619.4 315.2h0M610.0 303.2h0M613.2 325.0h0M598.7 334.0h0M587.6 333.7h0M620.9 308.1h0M593.9 321.5h0M602.1 320.5h0M587.0 331.6h0M617.7 299.6h0M604.6 320.1h0M593.6 323.7h0M618.3 301.6h0M597.1 346.0h0M602.9 329.3h0M590.5 329.5h0M621.4 307.4h0M624.4 305.0h0M586.4 346.9h0M597.7 322.8h0M620.9 310.8h0M622.6 320.9h0M602.1 309.7h0M612.2 306.9h0M588.4 326.4h0M633.6 309.6h0M586.3 352.1h0M587.9 332.1h0M598.4 308.1h0M617.2 323.4h0M608.4 324.2h0M618.5 303.6h0M597.8 320.2h0M614.5 318.6h0M608.8 314.0h0M598.4 338.3h0M627.1 307.4h0M593.4 328.9h0M577.5 346.4h0M579.5 350.4h0M571.9 359.9h0M620.3 315.0h0M582.2 322.7h0M592.8 317.3h0M594.7 350.6h0M637.5 304.2h0M617.9 300.7h0M580.5 343.8h0M593.8 326.8h0M604.0 340.8h0M605.2 315.9h0M598.9 323.3h0M594.6 334.0h0M610.5 319.0h0M627.1 296.3h0M619.4 305.1h0M607.0 337.1h0M608.3 325.4h0M603.6 312.0h0M609.4 333.1h0M601.1 337.1h0M600.6 339.1h0M588.5 320.8h0M623.1 329.5h0M586.6 345.0h0M597.2 347.5h0M620.2 331.8h0M616.7 307.5h0M597.6 338.6h0M605.3 323.0h0M613.8 319.3h0M596.8 343.2h0M591.6 344.7h0M631.8 298.0h0M608.1 320.3h0M597.4 312.2h0M613.4 318.7h0M602.0 325.0h0M583.7 345.7h0M593.0 327.3h0M615.1 338.9h0M600.2 317.2h0M581.0 358.1h0M622.2 312.8h0M596.1 346.3h0M607.3 329.7h0M608.1 317.6h0M616.9 319.3h0M594.8 332.8h0M602.5 325.0h0M594.7 336.0h0M593.7 340.9h0M607.1 309.8h0M594.6 326.4h0M610.5 319.4h0M616.5 322.4h0M614.4 314.0h0M615.0 294.1h0M585.2 339.7h0M610.6 332.0h0M625.8 303.1h0M589.9 351.1h0M596.7 303.7h0M571.5 343.9h0M602.3 334.6h0M615.1 315.8h0M609.4 318.4h0M584.6 325.8h0M596.0 318.9h0M616.7 315.2h0M606.7 324.2h0M571.1 355.9h0M612.0 338.5h0M577.4 334.3h0M618.8 332.2h0M612.5 319.6h0M621.9 315.4h0M600.2 337.7h0M607.5 324.5h0M592.4 339.2h0M590.6 329.2h0M585.6 358.9h0M586.8 326.8h0M595.0 325.3h0M617.5 321.1h0M617.9 308.8h0M603.4 334.6h0M603.1 341.7h0M599.2 336.5h0M612.1 315.3h0M592.6 324.7h0M625.8 307.7h0M590.8 330.4h0M614.7 293.6h0M590.8 318.3h0M607.7 310.9h0M601.0 335.6h0M600.1 311.2h0M619.4 317.0h0M611.1 309.9h0M614.5 318.0h0M592.2 344.1h0M596.2 338.6h0M620.1 326.3h0M580.3 345.3h0M596.6 344.0h0M594.4 344.4h0M594.1 328.0h0M584.8 350.5h0M599.4 329.9h0M590.2 346.3h0M583.5 351.2h0M613.7 321.1h0" stroke="#bdbdbd" stroke-opacity="0.5" stroke-width="3.6" stroke-linecap="round" fill="none"/>
<path d="M602.9 337.2h0M573.9 336.0h0M590.7 336.0h0M618.4 329.1h0M636.1 309.0h0M610.6 334.4h0M610.8 320.6h0M624.0 323.8h0M603.9 304.2h0M582.2 339.0h0M612.2 325.3h0M599.2 312.8h0M625.0 302.3h0M609.0 335.5h0M605.8 303.0h0M623.4 326.7h0M607.2 330.0h0M598.5 326.2h0M620.6 310.2h0M627.1 324.6h0M612.7 313.8h0M576.7 332.6h0M611.1 304.0h0M625.3 322.5h0M613.0 301.9h0M601.2 327.3h0M595.6 323.8h0M593.9 341.0h0M581.5 355.0h0M608.2 316.9h0M597.0 344.2h0M610.4 316.5h0M627.6 313.0h0M596.5 325.7h0M632.3 304.0h0M602.6 338.3h0M597.1 320.0h0M619.9 299.8h0M573.8 339.9h0M587.0 332.3h0M587.8 323.5h0M606.4 308.3h0M596.0 308.5h0M595.9 309.4h0M595.1 344.9h0M620.7 317.4h0M603.0 342.9h0M597.7 329.5h0M591.0 331.5h0M596.5 314.0h0M597.6 338.9h0M595.8 329.1h0M615.2 322.6h0M589.3 332.4h0M619.5 334.7h0M584.6 349.5h0M619.0 308.0h0M583.3 328.7h0M595.9 342.0h0M640.1 314.7h0M629.9 302.8h0M587.0 337.3h0M588.5 336.0h0M592.1 349.8h0M622.5 311.7h0M616.7 331.1h0M622.8 305.5h0M582.2 333.1h0M608.6 311.1h0M615.6 307.3h0M603.7 331.2h0M617.4 300.2h0M582.4 356.9h0M603.4 304.5h0M600.3 349.5h0M619.2 304.6h0M640.4 294.6h0M640.9 305.2h0M621.0 310.7h0M582.0 346.8h0M628.9 292.4h0M597.1 317.8h0M621.0 301.4h0M609.5 317.8h0M588.8 338.8h0M606.5 332.8h0M598.8 328.0h0M608.2 309.7h0M585.1 345.8h0M609.2 326.3h0M610.4 326.5h0M626.1 311.0h0M583.0 333.5h0M635.2 324.4h0M601.8 326.8h0M623.4 292.2h0M601.3 347.0h0M616.6 303.5h0M612.8 317.8h0M589.1 308.1h0M581.9 361.8h0M622.4 307.7h0M616.7 311.4h0M594.0 321.7h0M582.3 363.8h0M626.6 313.0h0M591.9 329.3h0M603.1 335.9h0M591.0 326.9h0M587.0 337.9h0M585.9 334.8h0M637.4 292.3h0M625.0 303.6h0M586.3 343.6h0M605.5 319.3h0M593.0 327.2h0M590.9 335.5h0M604.0 339.8h0M622.9 310.2h0M606.2 324.4h0M587.6 326.9h0M593.5 326.8h0M585.1 351.1h0M595.5 319.8h0M573.5 352.3h0M611.8 318.0h0M603.9 316.5h0M609.6 333.6h0M616.0 325.7h0M597.9 313.1h0M612.1 328.8h0M590.1 316.7h0M610.4 337.5h0M633.4 295.4h0M628.7 301.2h0M601.6 329.8h0M632.3 311.4h0M602.4 327.8h0M602.5 339.5h0M610.4 323.2h0M608.0 335.4h0M604.3 337.4h0M585.4 336.6h0M616.0 309.2h0M603.4 331.0h0M592.5 348.2h0M611.1 316.3h0M587.3 311.5h0M608.7 310.1h0M569.9 358.3h0M599.5 329.0h0M587.8 334.0h0M576.0 347.5h0M579.8 331.8h0M628.0 294.6h0M616.3 302.3h0M609.1 311.3h0M612.9 309.3h0M585.4 348.7h0M585.7 330.4h0M613.6 327.7h0M585.9 347.2h0M620.4 314.2h0M599.7 337.6h0M602.0 308.1h0M591.5 340.1h0M635.7 291.9h0M583.1 329.3h0M580.8 337.5h0M621.2 319.3h0M590.8 335.7h0M604.3 331.3h0M591.7 313.9h0M631.9 299.6h0M582.9 349.0h0M598.8 324.1h0M633.9 308.3h0M607.0 328.7h0M606.8 331.9h0M611.2 306.0h0M596.9 335.5h0M606.4 339.8h0M637.8 315.1h0M597.6 341.6h0M632.0 309.4h0M594.9 310.3h0M602.0 336.8h0M604.1 323.4h0M590.4 338.9h0M600.3 320.0h0M618.4 304.2h0M602.0 317.8h0" stroke="#bdbdbd" stroke-opacity="0.5" stroke-width="3.6" stroke-linecap="round" fill="none"/>
<path d="M600.3 314.7h0M611.7 324.8h0M627.1 325.7h0M586.3 349.6h0M601.8 342.4h0M606.3 333.2h0M583.1 326.6h0M606.2 311.0h0M583.7 328.0h0M624.6 314.5h0M588.5 342.7h0M609.1 292.6h0M600.2 332.8h0M611.1 323.5h0M595.6 335.0h0M619.9 314.0h0M608.6 325.3h0M600.6 332.5h0M627.6 304.2h0M631.9 305.6h0M623.9 326.6h0M596.8 332.3h0M592.5 336.4h0M587.1 341.2h0M591.9 335.5h0M598.8 342.1h0M596.7 331.3h0M580.7 343.2h0M627.4 309.9h0M614.4 310.0h0M589.4 321.5h0M631.2 326.0h0M625.3 307.2h0M580.5 354.5h0M584.9 351.9h0M611.2 322.2h0M612.9 317.7h0M635.5 322.9h0M608.7 321.7h0M617.6 331.2h0M580.1 347.0h0M605.6 346.4h0M611.0 320.3h0M617.8 346.3h0M613.5 329.0h0M595.4 323.2h0M635.5 298.9h0M602.2 311.4h0M587.7 340.7h0M594.9 345.0h0M607.8 298.2h0M608.8 316.0h0M603.6 312.5h0M607.6 333.6h0M606.1 306.8h0M602.7 312.4h0M602.9 302.2h0M609.4 313.6h0M598.9 319.8h0M600.0 346.9h0M609.8 335.7h0M631.6 294.2h0M604.5 317.1h0M592.2 327.1h0M596.6 327.6h0M612.0 339.9h0M587.0 321.4h0M593.1 327.8h0M578.9 356.9h0M570.5 349.3h0M625.6 307.4h0M599.2 326.8h0M612.9 322.2h0M614.5 293.9h0M580.9 321.1h0M622.4 296.5h0M615.4 319.4h0M622.3 297.7h0M626.0 321.4h0M623.3 314.7h0M597.6 326.6h0M597.8 302.7h0M614.7 314.1h0M600.7 325.4h0M600.0 322.0h0M620.2 302.7h0M581.0 348.1h0M605.8 339.1h0M611.3 321.7h0M605.3 320.1h0M592.8 316.0h0M623.4 316.9h0M612.9 309.7h0M590.1 341.1h0M617.2 346.4h0M579.9 341.1h0M615.8 327.6h0M608.1 323.0h0M605.6 336.8h0M614.5 315.3h0M618.1 297.3h0M605.0 322.8h0M610.3 299.7h0M577.4 347.1h0M592.7 333.3h0M619.7 312.4h0M617.9 312.4h0M591.1 344.0h0M578.8 343.2h0M597.0 321.2h0M622.2 322.0h0M584.2 334.2h0M588.1 335.9h0M615.6 321.2h0M637.2 308.6h0M612.2 324.2h0M601.4 320.9h0M601.9 336.3h0M594.8 336.8h0M618.3 317.7h0M627.1 297.0h0M590.6 324.0h0M586.2 341.1h0M625.6 308.5h0M601.2 312.5h0M590.3 346.7h0M622.3 303.8h0M577.9 344.7h0M618.7 316.0h0M596.9 329.8h0M608.2 330.9h0M619.8 332.2h0M602.9 300.8h0M584.7 341.6h0M583.0 341.7h0M595.2 310.6h0M587.3 339.5h0M608.3 314.6h0M620.8 331.2h0M591.1 355.9h0M596.1 353.4h0M607.7 330.0h0M610.3 330.3h0M605.6 297.7h0M625.9 306.4h0M586.1 322.5h0M628.2 313.7h0M629.2 298.8h0M615.1 324.6h0M615.2 300.0h0M606.8 358.4h0M597.3 335.6h0M603.2 330.7h0M625.3 324.1h0M612.3 343.1h0M590.4 347.5h0M591.3 328.6h0M614.9 316.2h0M607.8 331.1h0M586.0 357.3h0M596.5 345.5h0M598.2 321.8h0M614.3 301.7h0M583.7 318.1h0M617.0 320.8h0M628.5 311.3h0M634.9 306.1h0M596.7 323.3h0M583.0 344.6h0M639.8 292.1h0M583.8 345.0h0M603.6 335.3h0M611.7 304.7h0M605.0 314.4h0M609.5 319.8h0M590.3 325.3h0M629.0 311.4h0M588.0 332.4h0M606.0 310.8h0M613.2 320.2h0M578.6 338.7h0M605.9 339.6h0M615.5 322.0h0M592.4 336.5h0M604.7 329.4h0M617.7 302.6h0M600.0 310.2h0M601.8 338.1h0M606.9 340.8h0M598.6 343.0h0M596.1 329.8h0M608.9 324.7h0" stroke="#bdbdbd" stroke-opacity="0.5" stroke-width="3.6" stroke-linecap="round" fill="none"/>
<path d="M617.2 311.2h0M597.4 343.3h0M617.5 306.0h0M576.9 356.3h0M582.3 333.3h0M593.5 349.4h0M631.8 298.3h0M608.4 319.5h0M600.8 328.1h0M620.5 307.5h0M595.6 331.5h0M638.5 305.1h0M579.7 343.9h0M583.0 311.1h0M615.5 309.7h0M610.8 296.8h0M585.2 341.6h0M573.2 335.6h0M602.6 305.8h0M598.9 342.6h0M591.0 326.7h0M588.8 335.0h0M590.6 345.3h0M593.6 314.7h0M584.1 338.0h0M618.8 323.2h0M576.1 330.1h0M636.0 303.5h0M581.8 333.2h0M603.2 336.6h0M596.8 360.6h0M588.8 352.8h0M579.5 338.5h0M608.8 301.7h0M588.3 322.6h0M623.1 309.4h0M605.6 333.9h0M594.3 339.2h0M626.7 302.0h0M619.3 334.4h0M585.0 330.9h0M596.8 351.5h0M603.6 342.0h0M603.8 307.3h0M582.7 348.5h0M614.0 318.4h0M607.2 333.8h0M597.5 360.2h0M600.5 313.4h0M582.9 345.2h0M616.9 301.0h0M625.4 319.9h0M596.0 311.2h0M595.1 329.8h0M588.0 346.9h0M585.5 324.5h0M617.9 310.2h0M594.1 351.0h0M612.6 329.4h0M601.5 316.7h0M600.1 329.6h0M585.1 328.5h0M613.5 310.0h0M633.9 322.1h0M604.1 318.3h0M609.8 317.8h0M612.3 338.2h0M602.2 313.5h0M602.6 329.7h0M619.4 335.2h0M611.0 302.2h0M598.9 340.3h0M613.4 324.2h0M588.4 336.7h0M572.7 343.0h0M581.3 351.0h0M617.1 316.1h0M608.5 305.9h0M593.4 323.5h0M572.8 341.4h0M627.9 316.0h0M612.3 309.4h0M600.6 336.7h0M631.7 320.2h0M606.7 312.5h0M608.0 303.8h0M631.2 298.8h0M636.7 291.0h0M580.7 348.8h0M608.7 320.2h0M572.0 323.7h0M574.5 363.5h0M612.0 317.4h0M632.3 300.9h0M610.6 312.0h0M590.0 353.2h0M595.0 321.0h0M598.4 315.5h0M593.4 325.5h0M604.2 315.8h0M603.9 323.9h0M595.0 318.2h0M603.0 320.8h0M615.8 327.6h0M588.2 339.2h0M627.5 320.3h0M584.7 353.6h0M596.4 345.2h0M588.5 332.1h0M583.4 342.7h0M581.8 346.3h0M613.4 343.0h0M604.7 322.8h0M602.6 324.1h0M611.4 336.0h0M601.4 320.3h0M627.8 323.7h0M592.7 351.8h0M603.4 339.6h0M585.5 331.6h0M634.4 313.1h0M616.5 311.9h0M626.7 310.5h0M588.3 339.4h0M618.4 325.4h0M611.4 320.3h0M607.1 323.5h0M615.0 307.6h0M598.4 334.8h0M575.5 340.7h0M583.7 350.7h0M613.6 306.4h0M626.4 318.6h0M608.2 309.7h0M588.1 341.6h0M581.2 352.1h0M617.0 314.6h0M597.0 338.4h0M632.0 294.6h0M580.8 318.3h0M596.2 334.2h0M594.7 340.4h0M615.7 334.3h0M604.4 329.7h0M636.2 295.6h0M611.9 313.4h0M614.9 315.9h0M597.9 322.4h0M609.6 328.2h0M587.3 351.7h0M609.1 323.2h0M587.4 343.7h0M610.4 329.0h0M601.5 335.4h0M605.0 315.4h0M628.0 315.7h0M614.9 314.1h0M605.3 315.0h0M620.1 328.5h0M631.2 306.5h0M591.6 344.3h0M599.7 343.0h0M624.0 304.9h0M587.2 329.5h0M608.3 321.6h0M621.7 313.0h0M599.1 323.9h0M613.3 305.7h0M572.8 350.8h0M591.6 339.3h0M615.0 299.2h0M615.8 314.9h0M569.4 348.9h0M581.9 357.1h0M606.1 343.4h0M636.7 292.7h0M610.7 314.9h0M608.4 321.7h0M617.0 323.8h0M609.0 320.0h0M618.3 327.9h0M608.5 324.0h0M615.6 310.3h0M607.3 317.8h0M612.1 303.1h0M609.6 315.1h0M586.7 342.3h0M618.1 302.1h0M585.9 340.9h0M598.9 329.4h0M595.1 338.3h0" stroke="#bdbdbd" stroke-opacity="0.5" stroke-width="3.6" stroke-linecap="round" fill="none"/>
<path d="M602.8 325.5h0M622.7 321.3h0M586.2 330.7h0M613.2 320.9h0M582.6 330.3h0M584.1 328.2h0M608.6 324.2h0M600.8 318.7h0M604.1 346.8h0M591.0 362.2h0M611.3 309.0h0M623.0 327.1h0M601.9 351.6h0M587.9 326.3h0M642.1 302.1h0M639.3 297.9h0M615.7 307.0h0M595.1 335.5h0M605.4 329.0h0M593.8 341.1h0M593.0 320.0h0M611.3 307.9h0M637.9 326.5h0M602.7 315.5h0M600.0 336.4h0M611.2 326.6h0M588.4 342.2h0M604.9 325.2h0M620.5 312.6h0M595.2 296.4h0M599.7 332.7h0M601.3 336.6h0M574.9 346.9h0M630.8 326.5h0M590.0 332.1h0M591.4 329.7h0M603.0 340.1h0M599.9 335.5h0M613.9 348.7h0M611.5 304.0h0M606.7 321.0h0M594.1 329.9h0M601.2 343.7h0M611.9 317.6h0M624.0 307.0h0M616.7 332.1h0M569.5 360.4h0M597.8 326.6h0M601.5 330.1h0M604.7 322.4h0M607.6 319.3h0M594.7 334.6h0M576.8 361.1h0M598.9 324.9h0M590.0 354.1h0M621.5 322.1h0M572.2 363.1h0M596.8 311.5h0M590.2 346.9h0M625.0 308.3h0M602.0 311.3h0M582.2 344.2h0M613.2 316.3h0M582.3 354.5h0M636.7 301.1h0M599.0 317.0h0M570.9 353.1h0M571.5 335.2h0M585.7 339.3h0M586.9 338.1h0M609.8 321.3h0M598.1 327.8h0M599.5 335.7h0M615.5 306.6h0M579.1 358.0h0M589.6 333.9h0M578.1 328.0h0M604.7 323.6h0M620.0 322.2h0M610.8 315.7h0M627.7 319.7h0M629.4 298.5h0M608.6 309.5h0M599.4 332.0h0M619.4 317.9h0M623.9 293.6h0M608.0 320.6h0M592.1 346.4h0M630.5 317.2h0M605.6 321.1h0M587.6 347.2h0M591.1 310.8h0M610.9 303.7h0M628.3 311.8h0M591.5 318.5h0M631.0 316.6h0M625.2 305.4h0M618.8 302.4h0M639.1 305.4h0M604.3 310.5h0M599.5 322.8h0M602.9 347.1h0M594.1 323.0h0M594.3 351.9h0M595.1 331.6h0M613.3 314.3h0M614.0 330.4h0M593.3 343.4h0M596.3 326.6h0M628.9 308.7h0M623.9 296.5h0M583.4 351.9h0M607.2 339.6h0M638.8 320.4h0M582.0 333.9h0M590.8 327.7h0M586.4 327.0h0M593.8 325.1h0M622.9 328.5h0M588.3 359.2h0M584.2 330.4h0M604.0 315.5h0M630.6 292.0h0M617.8 319.7h0M597.5 327.0h0M620.5 299.4h0M610.1 324.2h0M603.2 306.3h0M609.8 297.0h0M591.6 325.0h0M608.7 312.7h0M590.9 331.9h0M603.5 329.3h0M582.8 359.4h0M598.6 323.3h0M609.5 318.2h0M610.6 336.4h0M624.2 308.5h0M591.0 342.4h0M622.9 308.1h0M574.3 324.0h0M577.6 326.0h0M620.3 324.5h0M627.6 291.6h0M623.9 301.8h0M610.7 317.5h0M595.0 329.3h0M628.2 307.4h0M640.9 314.6h0M605.4 342.1h0M572.7 347.4h0M598.9 336.2h0M585.4 343.0h0M575.2 350.7h0M595.2 347.4h0M612.4 341.0h0M612.7 315.3h0M614.5 315.5h0M619.4 316.3h0M585.0 336.0h0M590.4 340.6h0M607.1 334.1h0M622.8 328.8h0M627.3 307.3h0M617.2 311.4h0M607.0 339.5h0M594.6 344.1h0M591.8 336.7h0M590.3 334.7h0M600.2 334.1h0M612.0 313.5h0M580.3 348.0h0M613.3 328.6h0M622.7 292.1h0M615.5 317.8h0M605.4 347.0h0M615.7 319.7h0M612.1 314.5h0M608.7 296.5h0M621.7 319.1h0M616.0 308.3h0M605.6 307.3h0M598.1 351.0h0M585.4 335.7h0M586.8 337.3h0M577.2 342.2h0M600.2 339.3h0M594.7 336.1h0M621.6 308.6h0M601.1 325.8h0M621.1 306.2h0M636.9 307.8h0" stroke="#bdbdbd" stroke-opacity="0.5" stroke-width="3.6" stroke-linecap="round" fill="none"/>
<path d="M619.9 311.3h0M593.3 326.8h0M620.1 300.9h0M613.7 328.2h0M608.0 317.7h0M635.3 299.0h0M607.6 303.9h0M606.0 329.1h0M610.1 311.4h0M607.7 342.5h0M597.5 318.6h0M591.4 325.3h0M608.0 331.8h0M619.4 338.7h0M614.5 320.3h0M616.4 316.5h0M607.2 329.1h0M597.6 318.7h0M618.9 329.4h0M615.3 292.3h0M618.7 325.0h0M618.4 311.3h0M599.0 317.8h0M627.2 313.1h0M607.1 327.6h0M604.9 305.7h0M597.0 324.2h0M609.6 320.0h0M584.4 333.6h0M584.9 332.0h0M603.2 324.4h0M596.5 341.6h0M586.2 339.5h0M603.3 322.6h0M599.6 319.7h0M607.5 321.2h0M600.5 328.4h0M616.7 323.6h0M583.0 337.6h0M612.5 318.3h0M609.3 336.7h0M587.2 338.8h0M604.3 339.9h0M613.3 340.5h0M627.3 319.2h0M594.7 345.2h0M580.4 348.0h0M570.5 356.1h0M607.9 325.9h0M604.4 342.2h0M624.0 305.8h0M572.4 330.5h0M616.2 302.9h0M623.1 294.9h0M574.2 348.3h0M590.7 313.2h0M617.2 315.0h0M600.2 353.5h0M606.6 333.3h0M629.3 296.5h0M603.3 330.7h0M624.8 315.2h0M624.6 306.6h0M599.6 324.7h0M636.4 318.6h0M618.3 305.3h0M600.1 311.3h0M616.9 308.8h0M586.5 332.6h0M581.4 337.6h0M633.0 315.2h0M606.0 315.4h0M578.5 341.9h0M590.7 343.4h0M620.0 313.7h0M612.1 318.8h0M611.6 301.0h0M607.0 326.5h0M605.2 316.0h0M613.0 343.7h0M603.4 320.8h0M599.8 342.6h0M603.5 346.8h0M589.5 338.0h0M577.3 350.0h0M592.3 319.9h0M607.3 315.0h0M635.5 311.2h0M623.9 328.2h0M597.5 333.0h0M600.1 351.7h0M607.0 326.6h0M631.7 296.5h0M565.3 354.9h0M624.1 310.7h0M591.8 351.5h0M598.0 341.5h0M599.7 332.8h0M628.0 318.1h0M610.7 333.2h0M609.7 308.7h0M594.3 347.4h0M605.3 324.2h0M593.1 329.2h0M606.0 315.9h0M579.6 336.0h0M627.7 316.4h0M640.8 293.5h0M581.0 356.6h0M591.1 343.6h0M600.3 324.9h0M600.9 331.8h0M587.1 363.4h0M591.7 350.0h0M620.7 341.0h0M625.5 342.5h0M601.0 327.8h0M584.4 352.9h0M620.6 325.2h0M602.9 325.9h0M616.6 330.6h0M628.7 307.7h0M623.1 327.2h0M624.5 310.3h0M618.9 321.3h0M620.4 312.1h0M570.0 322.9h0M592.5 329.2h0M601.1 333.3h0M597.8 319.5h0M621.7 300.4h0M574.8 339.1h0M577.1 319.4h0M611.7 305.9h0M604.6 323.5h0M591.6 311.6h0M598.6 316.8h0M589.8 338.7h0M597.5 332.1h0M595.3 324.9h0M616.7 334.7h0M596.6 347.2h0M624.3 324.4h0M613.2 316.4h0M603.6 349.2h0M635.8 302.0h0M617.1 302.4h0M586.3 351.5h0M589.6 338.0h0M622.1 312.9h0M628.8 298.5h0M603.3 318.1h0M596.0 316.8h0M592.6 319.0h0M635.9 317.9h0M603.4 304.0h0M624.6 301.0h0M611.6 317.4h0M613.2 320.6h0M599.5 343.9h0M636.7 299.6h0M613.1 331.4h0M600.0 328.2h0M602.5 330.3h0M600.1 334.4h0M598.9 348.3h0M589.0 319.7h0M587.4 345.1h0M589.5 339.0h0M595.2 308.5h0M585.6 323.9h0M596.1 326.4h0M604.6 359.4h0M598.5 332.6h0M607.1 320.2h0M584.6 352.3h0M618.9 316.8h0M605.5 316.3h0M606.8 321.4h0M584.9 340.6h0M573.6 328.4h0M590.7 315.8h0M595.7 333.7h0M628.9 303.0h0M608.3 325.3h0M600.1 337.3h0M590.7 357.5h0M602.1 336.3h0M640.1 310.9h0M598.3 331.4h0M576.7 328.3h0M618.1 310.5h0" stroke="#bdbdbd" stroke-opacity="0.5" stroke-width="3.6" stroke-linecap="round" fill="none"/>
<path d="M599.5 325.6h0M596.4 325.6h0M580.9 337.6h0M599.6 334.0h0M598.0 331.6h0M572.9 342.9h0M601.4 305.7h0M604.8 313.3h0M604.5 326.5h0M582.6 347.9h0M594.3 362.1h0M599.6 337.4h0M610.7 307.5h0M599.5 314.5h0M628.0 296.9h0M599.0 328.0h0M626.2 328.3h0M618.3 297.5h0M615.8 319.4h0M613.7 318.1h0M632.8 292.1h0M587.7 347.4h0M623.9 298.7h0M610.5 315.8h0M582.1 352.9h0M614.9 338.6h0M614.3 309.9h0M617.3 304.3h0M640.5 292.5h0M590.2 356.8h0M621.7 331.3h0M608.5 330.2h0M600.6 325.3h0M606.0 337.9h0M619.2 314.6h0M570.6 342.4h0M634.4 305.6h0M635.0 319.6h0M600.6 312.1h0M629.6 298.5h0M625.0 313.4h0M618.6 301.9h0M622.9 305.5h0M620.8 306.5h0M616.6 333.8h0M616.4 326.6h0M598.3 329.0h0M609.9 336.3h0M595.5 329.0h0M597.7 329.8h0M609.5 318.1h0M595.2 330.0h0M615.9 331.0h0M619.7 324.7h0M612.0 311.4h0M617.1 328.9h0M588.3 351.9h0M615.8 314.1h0M571.9 341.9h0M627.2 313.0h0M603.8 322.4h0M586.5 344.3h0M615.4 320.2h0M605.0 323.0h0M636.9 295.7h0M611.4 325.0h0M628.1 305.2h0M604.7 308.8h0M630.0 315.6h0M599.4 313.5h0M596.5 312.3h0M602.2 303.2h0M587.2 362.1h0M578.3 321.8h0M591.8 340.2h0M594.5 341.7h0M608.1 320.4h0M593.6 339.9h0M629.8 293.1h0M623.5 294.7h0M601.6 316.5h0M635.6 310.0h0M630.2 334.0h0M586.7 350.8h0M596.1 321.8h0M591.6 339.7h0M581.0 362.9h0M601.7 336.2h0M621.4 310.0h0M571.5 342.5h0M582.9 347.0h0M585.7 349.9h0M593.9 347.8h0M591.3 338.9h0M618.2 305.5h0M637.8 318.0h0M597.7 315.8h0M584.0 343.4h0M618.2 295.5h0M615.5 312.4h0M601.9 319.6h0M606.7 319.2h0M592.9 335.8h0M588.5 350.9h0M589.2 347.4h0M592.4 341.7h0M576.7 343.5h0M610.6 301.6h0M586.8 349.7h0M605.8 334.3h0M590.5 327.5h0M601.3 347.1h0M625.5 310.4h0M629.7 305.9h0M598.2 327.1h0M628.5 304.6h0M599.1 346.1h0M608.1 335.2h0M602.8 343.2h0M588.7 349.4h0M592.4 348.5h0M627.3 297.6h0M598.5 342.4h0M624.8 311.9h0M615.1 304.6h0M597.2 325.8h0M612.9 323.7h0M601.5 335.1h0M620.9 319.5h0M590.9 346.5h0M613.0 309.1h0M569.5 344.7h0M621.4 302.3h0M581.1 341.4h0M610.6 336.3h0M583.8 315.3h0M592.2 340.9h0M568.8 361.1h0M629.5 300.6h0M589.0 337.1h0M611.3 312.8h0M586.3 335.2h0M592.4 340.9h0M588.9 347.3h0M613.5 339.2h0M588.2 341.6h0M603.3 307.5h0M578.4 339.3h0M602.7 303.1h0M600.7 304.4h0M586.9 335.0h0M584.3 348.4h0M581.6 348.4h0M632.9 309.0h0M610.1 320.6h0M610.3 329.7h0M615.3 315.5h0M568.7 353.4h0M615.1 316.2h0M610.2 320.7h0M595.6 319.8h0M630.2 308.4h0M619.1 326.6h0M627.4 316.9h0M605.2 313.4h0M595.3 332.1h0M622.9 317.2h0M610.7 307.3h0M609.1 330.9h0M597.2 334.1h0M604.7 317.6h0M576.1 348.8h0M608.1 304.5h0M577.8 357.1h0M620.7 312.9h0M624.4 310.0h0M592.6 335.4h0M626.9 298.9h0M608.0 320.8h0M623.9 302.4h0M608.9 313.2h0M606.2 337.1h0M620.8 298.1h0M629.7 305.9h0M582.6 337.9h0M593.8 355.9h0M607.2 332.2h0M605.7 330.1h0M619.2 303.4h0M613.5 304.2h0M594.8 305.2h0" stroke="#bdbdbd" stroke-opacity="0.5" stroke-width="3.6" stroke-linecap="round" fill="none"/>
<path d="M573.2 341.5h0M623.1 315.2h0M606.6 337.7h0M596.5 328.3h0M598.0 340.4h0M587.0 341.2h0M579.5 332.4h0M625.2 308.5h0M593.8 334.6h0M602.5 336.2h0M592.7 329.8h0M588.1 345.9h0M596.3 343.6h0M609.0 336.8h0M621.0 303.8h0M603.8 316.0h0M624.0 314.4h0M603.3 333.4h0M597.8 335.3h0M605.8 318.3h0M621.3 314.7h0M633.9 300.5h0M601.2 331.3h0M604.8 329.7h0M607.5 302.4h0M605.5 333.4h0M571.1 353.2h0M586.2 349.0h0M606.8 319.5h0M612.6 305.5h0M587.3 346.8h0M588.6 349.9h0M592.6 344.8h0M616.5 328.4h0M619.0 332.2h0M595.5 346.8h0M604.2 320.2h0M596.7 339.4h0M586.4 349.8h0M588.9 345.9h0M605.1 314.8h0M591.5 359.5h0M597.4 321.7h0M585.7 336.4h0M583.3 357.3h0M607.8 344.6h0M596.6 363.5h0M585.1 336.8h0M594.8 341.7h0M613.2 329.5h0M583.2 347.6h0M602.3 325.9h0M600.4 315.3h0M613.6 320.2h0M607.9 332.2h0M641.7 292.9h0M618.2 310.4h0M629.6 312.2h0M619.7 333.8h0M613.6 305.5h0M619.0 307.4h0M570.2 352.3h0M597.5 313.9h0M613.1 311.5h0M626.7 302.1h0M579.2 355.5h0M566.3 342.4h0M600.0 344.4h0M612.2 324.8h0M598.0 316.0h0M601.7 331.1h0M623.5 315.0h0M612.7 299.4h0M579.1 362.8h0M590.7 339.4h0M583.9 339.5h0M589.6 324.7h0M612.4 311.8h0M607.3 321.4h0M574.4 352.6h0M571.6 336.8h0M583.2 353.6h0M595.2 307.9h0M583.6 323.2h0M605.8 294.9h0M599.4 336.5h0M602.9 333.8h0M590.6 328.9h0M595.3 323.1h0M614.0 307.7h0M631.4 292.2h0M586.5 324.8h0M625.0 322.1h0M626.1 330.6h0M621.3 317.4h0M598.3 333.0h0M593.3 326.4h0M602.5 328.1h0M604.3 330.4h0M585.4 334.3h0M618.3 328.7h0M620.4 298.6h0M606.5 307.4h0M564.8 341.7h0M590.2 333.9h0M587.1 311.4h0M596.1 324.9h0M577.4 351.0h0M611.1 322.1h0M590.0 320.2h0M575.9 347.8h0M600.4 333.5h0M615.0 314.8h0M600.2 321.7h0M602.0 321.7h0M626.2 305.8h0M604.6 332.5h0M628.7 295.4h0M613.0 315.6h0M588.7 337.5h0M608.9 336.0h0M586.5 341.6h0M637.7 295.2h0M577.6 332.5h0M619.5 305.7h0M593.8 335.8h0M575.4 354.1h0M587.3 347.4h0M616.5 300.7h0M578.1 340.2h0M618.9 311.4h0M627.8 293.7h0M589.1 336.5h0M608.5 336.6h0M599.5 317.9h0M610.6 320.6h0M620.7 323.0h0M625.4 314.2h0M600.5 333.8h0M580.8 338.0h0M581.6 334.3h0M589.3 323.1h0M609.7 308.0h0M583.9 335.5h0M617.0 312.5h0M601.7 334.8h0M581.0 356.7h0M610.4 352.1h0M590.1 329.2h0M604.2 328.5h0M589.7 335.4h0M576.1 355.0h0M618.2 325.6h0M601.4 332.5h0M588.1 347.8h0M585.2 341.8h0M609.4 314.5h0M610.2 334.8h0M628.8 302.2h0M617.0 330.7h0M613.2 305.6h0M593.4 332.6h0M602.8 319.2h0M606.7 320.7h0M587.5 353.2h0M603.6 296.6h0M586.1 334.0h0M628.0 314.5h0M574.3 345.3h0M603.1 336.9h0M631.1 296.0h0M603.8 342.4h0M626.6 294.6h0M619.0 294.8h0M585.2 352.7h0M619.7 308.2h0M603.1 332.4h0M622.5 308.2h0M619.7 326.9h0M605.1 320.2h0M622.5 330.9h0M600.3 336.6h0M604.1 327.5h0M611.7 310.5h0M608.9 322.9h0M620.0 296.6h0M605.2 334.4h0M597.0 333.5h0M602.4 344.5h0M619.3 331.4h0M584.7 338.2h0M583.0 358.7h0" stroke="#bdbdbd" stroke-opacity="0.5" stroke-width="3.6" stroke-linecap="round" fill="none"/>
<path d="M598.8 304.7h0M616.3 323.7h0M628.6 303.4h0M576.5 354.7h0M604.8 332.6h0M594.2 344.9h0M607.2 313.9h0M584.6 326.5h0M588.8 341.4h0M634.5 294.4h0M604.9 348.0h0M605.6 328.9h0M600.1 315.9h0M594.1 312.4h0M605.0 323.2h0M598.5 329.2h0M628.8 303.2h0M585.9 349.5h0M625.4 302.2h0M588.6 339.7h0M605.9 317.5h0M586.6 338.6h0M580.4 353.9h0M600.0 312.9h0M602.5 307.3h0M611.1 304.8h0M601.2 349.6h0M636.6 301.8h0M595.0 325.8h0M597.3 335.7h0M607.7 318.1h0M593.5 344.0h0M633.4 312.7h0M587.6 341.1h0M601.5 324.3h0M603.4 324.9h0M621.9 313.1h0M607.2 336.4h0M611.5 320.9h0M577.9 343.8h0M589.5 322.1h0M610.6 318.3h0M631.9 292.8h0M642.3 304.8h0M596.2 333.1h0M607.8 336.9h0M609.4 338.3h0M593.8 337.0h0M608.8 318.2h0M590.3 332.8h0M609.7 322.5h0M604.6 331.5h0M608.8 306.2h0M588.1 344.7h0M598.2 325.2h0M598.2 341.5h0M576.7 360.8h0M621.2 306.4h0M578.4 324.1h0M595.3 338.4h0M601.1 327.7h0M597.1 331.8h0M618.3 303.6h0M591.7 337.7h0M590.3 342.0h0M602.3 331.0h0M615.0 328.1h0M611.2 311.4h0M598.4 334.2h0M615.2 321.4h0M598.1 328.2h0M608.6 315.3h0M578.9 350.9h0M612.2 312.8h0M593.3 339.8h0M632.0 300.4h0M626.7 323.8h0M611.9 326.2h0M594.9 318.0h0M584.8 352.4h0M591.4 338.8h0M604.7 320.4h0M626.8 302.1h0M614.1 319.6h0M629.2 309.4h0M622.2 311.0h0M593.9 326.0h0M616.6 312.2h0M624.0 308.5h0M590.8 335.4h0M638.1 310.1h0M571.0 352.2h0M585.5 324.7h0M607.1 334.5h0M603.1 337.8h0M613.0 307.7h0M626.2 295.7h0M603.9 311.9h0M613.1 333.8h0M628.9 316.5h0M593.4 352.8h0M589.1 362.9h0M581.7 353.6h0M582.5 347.7h0M618.6 317.9h0M612.1 306.3h0M593.1 317.0h0M603.3 327.0h0M610.6 304.5h0M582.0 332.4h0M595.3 331.7h0M625.4 299.8h0M584.9 351.9h0M582.3 343.7h0M641.3 297.8h0M573.2 341.7h0M587.6 357.8h0M611.2 320.3h0M607.2 314.8h0M621.5 336.7h0M607.2 309.6h0M626.7 320.1h0M611.2 322.6h0M619.0 316.1h0M581.0 357.5h0M599.8 319.4h0M631.1 316.2h0M612.2 320.2h0M583.0 356.7h0M632.6 308.4h0M602.5 321.7h0M610.7 312.3h0M589.4 342.1h0M608.8 318.0h0M590.8 356.7h0M619.9 303.2h0M621.4 313.5h0M571.3 356.7h0M641.0 292.8h0M608.7 341.6h0M592.3 323.6h0M610.2 322.5h0M627.0 299.1h0M614.1 319.9h0M611.8 307.4h0M609.8 336.3h0M600.9 331.7h0M611.7 304.6h0M602.8 332.0h0M617.6 309.5h0M589.9 331.7h0M607.6 318.9h0M621.9 299.8h0M580.6 327.1h0M583.4 351.9h0M616.9 305.8h0M624.4 301.8h0M608.7 303.8h0M602.7 325.8h0M611.4 324.0h0M601.5 313.4h0M633.7 295.0h0M602.2 333.2h0M597.1 335.8h0M596.1 333.2h0M600.1 316.1h0M578.4 351.2h0M619.0 318.8h0M596.7 325.1h0M602.7 338.4h0M606.9 315.9h0M573.4 339.4h0M572.9 342.3h0M580.2 342.1h0M603.4 314.0h0M602.9 331.8h0M590.6 334.0h0M599.9 318.7h0M611.8 304.8h0M617.2 313.1h0M603.1 319.1h0M618.3 330.3h0M611.6 324.0h0M610.2 311.4h0M569.3 354.8h0M622.6 331.6h0M608.4 322.1h0M594.0 323.0h0M621.2 311.8h0M608.1 312.5h0M620.3 292.1h0M619.1 305.4h0" stroke="#bdbdbd" stroke-opacity="0.5" stroke-width="3.6" stroke-linecap="round" fill="none"/>
<path d="M651.4 291.6h0M664.8 278.0h0M648.8 268.8h0M618.9 286.2h0M649.9 281.9h0M644.2 290.9h0M654.3 289.8h0M644.3 301.1h0M617.2 273.3h0" stroke="#f0393e" stroke-opacity="0.8" stroke-width="3.8" stroke-linecap="round" fill="none"/>
<path d="M645.9 281.3h0M644.8 285.6h0M648.2 292.7h0M639.9 285.7h0M649.5 290.1h0M633.4 285.8h0M634.9 287.3h0M646.6 283.0h0M660.8 278.1h0M618.5 287.0h0" stroke="#f0393e" stroke-opacity="0.8" stroke-width="3.8" stroke-linecap="round" fill="none"/>
<path d="M639.4 275.0h0M630.3 285.4h0M652.3 307.6h0M628.7 290.6h0M647.5 293.5h0M644.8 310.0h0M642.7 290.1h0M650.4 302.2h0M648.0 317.8h0M648.4 272.1h0" stroke="#f0393e" stroke-opacity="0.8" stroke-width="3.8" stroke-linecap="round" fill="none"/>
<path d="M619.4 290.1h0M640.1 285.6h0M664.0 269.6h0M637.1 287.1h0M623.4 289.9h0M654.5 300.3h0M643.1 323.8h0M646.4 269.7h0M630.5 289.7h0" stroke="#f0393e" stroke-opacity="0.8" stroke-width="3.8" stroke-linecap="round" fill="none"/>
<path d="M643.2 268.6h0M653.2 271.1h0M635.9 285.5h0M653.6 292.5h0M615.2 281.4h0M635.6 283.4h0M649.6 271.9h0M630.1 289.9h0M630.8 287.4h0M644.8 283.9h0" stroke="#f0393e" stroke-opacity="0.8" stroke-width="3.8" stroke-linecap="round" fill="none"/>
<path d="M637.7 280.8h0M650.7 301.0h0M643.9 302.5h0M651.6 307.4h0M645.4 299.8h0M620.1 286.2h0M644.8 297.0h0M644.4 272.0h0M617.5 290.1h0M631.9 278.5h0" stroke="#f0393e" stroke-opacity="0.8" stroke-width="3.8" stroke-linecap="round" fill="none"/>
<path d="M589.8 366.6h0M573.0 368.5h0M575.7 367.2h0M561.3 364.1h0M572.6 380.6h0M601.0 365.1h0M569.3 366.8h0M560.0 369.8h0M566.3 384.7h0M557.5 355.6h0" stroke="#3f86c7" stroke-opacity="0.7" stroke-width="3.8" stroke-linecap="round" fill="none"/>
<path d="M544.9 369.6h0M567.6 365.5h0M567.8 365.4h0M562.7 352.2h0M584.3 365.2h0M581.2 370.0h0M569.8 372.9h0M566.5 370.4h0M541.5 371.5h0M560.0 367.9h0" stroke="#3f86c7" stroke-opacity="0.7" stroke-width="3.8" stroke-linecap="round" fill="none"/>
<path d="M561.4 346.8h0M575.5 365.4h0M547.4 363.7h0M599.5 365.6h0M566.0 364.1h0M574.7 366.6h0M560.3 361.9h0M561.5 349.0h0M584.7 381.1h0M564.3 357.7h0" stroke="#3f86c7" stroke-opacity="0.7" stroke-width="3.8" stroke-linecap="round" fill="none"/>
<path d="M565.1 373.8h0M564.2 366.5h0M581.5 375.0h0M565.5 366.7h0M584.8 365.7h0M557.4 375.0h0M582.0 366.2h0M557.9 366.4h0M556.3 345.3h0M551.1 370.0h0M562.5 358.5h0" stroke="#3f86c7" stroke-opacity="0.7" stroke-width="3.8" stroke-linecap="round" fill="none"/>
<path d="M562.3 369.0h0M573.0 367.5h0M564.1 369.8h0M587.0 365.9h0M576.7 369.7h0M542.9 385.2h0M558.9 357.2h0M554.2 373.8h0M557.1 340.5h0M548.5 377.0h0" stroke="#3f86c7" stroke-opacity="0.7" stroke-width="3.8" stroke-linecap="round" fill="none"/>
<path d="M562.8 371.3h0M563.9 368.8h0M558.4 357.3h0M555.8 363.4h0M570.0 367.7h0M569.9 364.8h0M578.0 371.9h0M582.1 371.4h0M582.1 372.7h0M566.7 373.7h0" stroke="#3f86c7" stroke-opacity="0.7" stroke-width="3.8" stroke-linecap="round" fill="none"/>
<path d="M571.3 367.2h0M562.8 363.3h0M563.3 336.3h0M563.7 356.2h0M569.9 370.2h0M561.3 376.7h0M542.2 379.6h0M581.5 366.6h0M566.9 373.0h0M559.3 347.3h0" stroke="#3f86c7" stroke-opacity="0.7" stroke-width="3.8" stroke-linecap="round" fill="none"/>
<path d="M545.5 366.9h0M581.3 367.3h0M553.7 366.6h0M566.8 370.5h0M570.1 373.8h0M564.3 362.7h0M558.9 353.5h0M585.7 370.5h0M570.9 365.5h0M576.3 371.6h0M576.7 367.8h0" stroke="#3f86c7" stroke-opacity="0.7" stroke-width="3.8" stroke-linecap="round" fill="none"/>
<line x1="606.30" y1="250.20" x2="606.30" y2="406.10" stroke="#3a3a3a" stroke-width="0.8" stroke-dasharray="5.5,3.5"/>
<line x1="529.10" y1="327.40" x2="679.50" y2="327.40" stroke="#3a3a3a" stroke-width="0.8" stroke-dasharray="5.5,3.5"/>
<line x1="542.60" y1="406.10" x2="542.60" y2="408.10" stroke="#5a5a5a" stroke-width="0.5"/>
<text x="542.60" y="414.40" font-size="7.35" text-anchor="middle" fill="#1e1e1e" stroke="#1e1e1e" stroke-width="0.22">−0.2</text>
<line x1="527.10" y1="390.30" x2="529.10" y2="390.30" stroke="#5a5a5a" stroke-width="0.5"/>
<text x="525.80" y="392.50" font-size="7.35" text-anchor="end" fill="#1e1e1e" stroke="#1e1e1e" stroke-width="0.22">−0.2</text>
<line x1="574.30" y1="406.10" x2="574.30" y2="408.10" stroke="#5a5a5a" stroke-width="0.5"/>
<text x="574.30" y="414.40" font-size="7.35" text-anchor="middle" fill="#1e1e1e" stroke="#1e1e1e" stroke-width="0.22">−0.1</text>
<line x1="527.10" y1="358.70" x2="529.10" y2="358.70" stroke="#5a5a5a" stroke-width="0.5"/>
<text x="525.80" y="360.91" font-size="7.35" text-anchor="end" fill="#1e1e1e" stroke="#1e1e1e" stroke-width="0.22">−0.1</text>
<line x1="606.00" y1="406.10" x2="606.00" y2="408.10" stroke="#5a5a5a" stroke-width="0.5"/>
<text x="606.00" y="414.40" font-size="7.35" text-anchor="middle" fill="#1e1e1e" stroke="#1e1e1e" stroke-width="0.22">0.0</text>
<line x1="527.10" y1="327.10" x2="529.10" y2="327.10" stroke="#5a5a5a" stroke-width="0.5"/>
<text x="525.80" y="329.31" font-size="7.35" text-anchor="end" fill="#1e1e1e" stroke="#1e1e1e" stroke-width="0.22">0.0</text>
<line x1="637.70" y1="406.10" x2="637.70" y2="408.10" stroke="#5a5a5a" stroke-width="0.5"/>
<text x="637.70" y="414.40" font-size="7.35" text-anchor="middle" fill="#1e1e1e" stroke="#1e1e1e" stroke-width="0.22">0.1</text>
<line x1="527.10" y1="295.50" x2="529.10" y2="295.50" stroke="#5a5a5a" stroke-width="0.5"/>
<text x="525.80" y="297.70" font-size="7.35" text-anchor="end" fill="#1e1e1e" stroke="#1e1e1e" stroke-width="0.22">0.1</text>
<line x1="669.40" y1="406.10" x2="669.40" y2="408.10" stroke="#5a5a5a" stroke-width="0.5"/>
<text x="669.40" y="414.40" font-size="7.35" text-anchor="middle" fill="#1e1e1e" stroke="#1e1e1e" stroke-width="0.22">0.2</text>
<line x1="527.10" y1="263.90" x2="529.10" y2="263.90" stroke="#5a5a5a" stroke-width="0.5"/>
<text x="525.80" y="266.11" font-size="7.35" text-anchor="end" fill="#1e1e1e" stroke="#1e1e1e" stroke-width="0.22">0.2</text>
<text x="509.60" y="331.60" font-size="7.35" text-anchor="middle" fill="#1e1e1e" stroke="#1e1e1e" stroke-width="0.22" transform="rotate(-90 509.60 331.60)">GA correlation (in Spastic)</text>
<text x="606.00" y="423.60" font-size="7.35" text-anchor="middle" fill="#1e1e1e" stroke="#1e1e1e" stroke-width="0.22">BW correlation (in Spastic)</text>
<circle cx="542.70" cy="433.00" r="2.30" fill="#f07070"/>
<text x="549.00" y="435.20" font-size="7.35" text-anchor="start" fill="#1e1e1e" stroke="#1e1e1e" stroke-width="0.22">Positive correlatioin with BW or GA</text>
<circle cx="542.70" cy="442.50" r="2.30" fill="#7aa8d8"/>
<text x="549.00" y="444.70" font-size="7.35" text-anchor="start" fill="#1e1e1e" stroke="#1e1e1e" stroke-width="0.22">Negative correlatioin with BW or GA</text>
<text x="659.50" y="258.26" font-size="5.2" text-anchor="end" fill="#333" stroke="#333" stroke-width="0.05">ADGRL4</text>
<text x="672.00" y="263.56" font-size="5.2" text-anchor="end" fill="#333" stroke="#333" stroke-width="0.05">AKR7A3</text>
<text x="668.50" y="269.96" font-size="5.2" text-anchor="end" fill="#333" stroke="#333" stroke-width="0.05">RNPS1</text>
<text x="634.10" y="276.96" font-size="5.2" text-anchor="start" fill="#333" stroke="#333" stroke-width="0.05">UGGT2</text>
<text x="664.00" y="279.26" font-size="5.2" text-anchor="start" fill="#333" stroke="#333" stroke-width="0.05">ADSL</text>
<text x="667.50" y="290.46" font-size="5.2" text-anchor="start" fill="#333" stroke="#333" stroke-width="0.05">SCIN</text>
<text x="658.60" y="295.16" font-size="5.2" text-anchor="start" fill="#333" stroke="#333" stroke-width="0.05">CFL2</text>
<text x="537.80" y="381.56" font-size="5.2" text-anchor="start" fill="#333" stroke="#333" stroke-width="0.05">PLTP</text>
<text x="529.70" y="387.46" font-size="5.2" text-anchor="start" fill="#333" stroke="#333" stroke-width="0.05">PSMA6</text>
<text x="554.90" y="386.76" font-size="5.2" text-anchor="start" fill="#333" stroke="#333" stroke-width="0.05">HSPA1L</text>
<text x="565.90" y="391.36" font-size="5.2" text-anchor="start" fill="#333" stroke="#333" stroke-width="0.05">CAPN2</text>
<text x="529.20" y="396.06" font-size="5.2" text-anchor="start" fill="#333" stroke="#333" stroke-width="0.05">IGHV4−59</text>
<text x="550.70" y="394.16" font-size="5.2" text-anchor="start" fill="#333" stroke="#333" stroke-width="0.05">SNMTL</text>
<text x="539.50" y="400.26" font-size="5.2" text-anchor="start" fill="#333" stroke="#333" stroke-width="0.05">IGHV4−30−2</text>
<circle cx="661.20" cy="257.40" r="1.90" fill="#f0393e" opacity="0.85"/>
<circle cx="672.60" cy="261.40" r="1.90" fill="#f0393e" opacity="0.85"/>
<circle cx="670.30" cy="268.40" r="1.90" fill="#f0393e" opacity="0.85"/>
<circle cx="652.50" cy="275.50" r="1.90" fill="#f0393e" opacity="0.85"/>
<circle cx="662.50" cy="277.80" r="1.90" fill="#f0393e" opacity="0.85"/>
<circle cx="665.50" cy="289.00" r="1.90" fill="#f0393e" opacity="0.85"/>
<circle cx="656.50" cy="292.50" r="1.90" fill="#f0393e" opacity="0.85"/>
<circle cx="551.50" cy="380.50" r="1.90" fill="#8fb3da" opacity="0.85"/>
<circle cx="546.50" cy="386.00" r="1.90" fill="#8fb3da" opacity="0.85"/>
<circle cx="572.50" cy="386.00" r="1.90" fill="#8fb3da" opacity="0.85"/>
<circle cx="563.80" cy="390.00" r="1.90" fill="#8fb3da" opacity="0.85"/>
<circle cx="543.00" cy="390.50" r="1.90" fill="#2f6fb0" opacity="0.85"/>
<circle cx="548.50" cy="391.80" r="1.90" fill="#8fb3da" opacity="0.85"/>
<circle cx="536.00" cy="399.00" r="1.90" fill="#8fb3da" opacity="0.85"/>
<text x="0" y="0" font-size="14.8" fill="#111" stroke="#111" stroke-width="0.22" transform="translate(1.20 469.70) scale(1 1.06)">G</text>
<line x1="192.90" y1="479.00" x2="192.90" y2="622.70" stroke="#ececec" stroke-width="0.6"/>
<line x1="209.50" y1="479.00" x2="209.50" y2="622.70" stroke="#ececec" stroke-width="0.6"/>
<line x1="182.40" y1="488.30" x2="216.10" y2="488.30" stroke="#ececec" stroke-width="0.6"/>
<line x1="182.40" y1="502.50" x2="216.10" y2="502.50" stroke="#ececec" stroke-width="0.6"/>
<line x1="182.40" y1="517.00" x2="216.10" y2="517.00" stroke="#ececec" stroke-width="0.6"/>
<line x1="182.40" y1="531.20" x2="216.10" y2="531.20" stroke="#ececec" stroke-width="0.6"/>
<line x1="182.40" y1="543.70" x2="216.10" y2="543.70" stroke="#ececec" stroke-width="0.6"/>
<line x1="182.40" y1="558.10" x2="216.10" y2="558.10" stroke="#ececec" stroke-width="0.6"/>
<line x1="182.40" y1="572.40" x2="216.10" y2="572.40" stroke="#ececec" stroke-width="0.6"/>
<line x1="182.40" y1="586.70" x2="216.10" y2="586.70" stroke="#ececec" stroke-width="0.6"/>
<line x1="182.40" y1="601.10" x2="216.10" y2="601.10" stroke="#ececec" stroke-width="0.6"/>
<line x1="182.40" y1="615.40" x2="216.10" y2="615.40" stroke="#ececec" stroke-width="0.6"/>
<text x="177.20" y="489.31" font-size="7.35" text-anchor="end" fill="#1e1e1e" stroke="#1e1e1e" stroke-width="0.22">Various types of N−glycan biosynthesis</text>
<circle cx="209.50" cy="488.30" r="1.50" fill="#e8474f"/>
<text x="177.20" y="503.50" font-size="7.35" text-anchor="end" fill="#1e1e1e" stroke="#1e1e1e" stroke-width="0.22">Aflatoxin activation and detoxification</text>
<circle cx="209.50" cy="502.50" r="2.50" fill="#e8474f"/>
<text x="177.20" y="518.00" font-size="7.35" text-anchor="end" fill="#1e1e1e" stroke="#1e1e1e" stroke-width="0.22">mRNA Splicing</text>
<circle cx="209.50" cy="517.00" r="2.80" fill="#e8474f"/>
<text x="177.20" y="532.21" font-size="7.35" text-anchor="end" fill="#1e1e1e" stroke="#1e1e1e" stroke-width="0.22">Gap junction</text>
<circle cx="209.50" cy="531.20" r="3.00" fill="#e8474f"/>
<text x="177.20" y="544.71" font-size="7.35" text-anchor="end" fill="#1e1e1e" stroke="#1e1e1e" stroke-width="0.22">Beta−catenin phosphorylation cascade</text>
<circle cx="192.90" cy="543.70" r="2.00" fill="#6399cf"/>
<text x="177.20" y="559.11" font-size="7.35" text-anchor="end" fill="#1e1e1e" stroke="#1e1e1e" stroke-width="0.22">HSF1−dependent transactivation</text>
<circle cx="192.90" cy="558.10" r="2.10" fill="#6399cf"/>
<text x="177.20" y="573.40" font-size="7.35" text-anchor="end" fill="#1e1e1e" stroke="#1e1e1e" stroke-width="0.22">Antigen processing and presentation</text>
<circle cx="192.90" cy="572.40" r="2.30" fill="#6399cf"/>
<text x="177.20" y="587.71" font-size="7.35" text-anchor="end" fill="#1e1e1e" stroke="#1e1e1e" stroke-width="0.22">Oxidoreductase complex</text>
<circle cx="192.90" cy="586.70" r="3.00" fill="#6399cf"/>
<text x="177.20" y="601.11" font-size="7.35" text-anchor="end" fill="#1e1e1e" stroke="#1e1e1e" stroke-width="0.22">Leukocyte activation</text>
<circle cx="192.90" cy="601.10" r="3.50" fill="#6399cf"/>
<text x="177.20" y="616.40" font-size="7.35" text-anchor="end" fill="#1e1e1e" stroke="#1e1e1e" stroke-width="0.22">Plasma lipoprotein clearance</text>
<circle cx="192.90" cy="615.40" r="3.60" fill="#6399cf"/>
<text x="224.00" y="543.21" font-size="7.35" text-anchor="start" fill="#1e1e1e" stroke="#1e1e1e" stroke-width="0.22">−log10(FDR)</text>
<rect x="224.00" y="547.20" width="9.60" height="55.60" fill="#efefef"/>
<circle cx="228.60" cy="551.80" r="1.60" fill="#000"/>
<circle cx="228.60" cy="561.00" r="2.00" fill="#000"/>
<circle cx="228.60" cy="570.40" r="2.30" fill="#000"/>
<circle cx="228.60" cy="579.70" r="2.60" fill="#000"/>
<circle cx="228.60" cy="589.20" r="2.85" fill="#000"/>
<circle cx="228.60" cy="598.30" r="3.10" fill="#000"/>
<circle cx="125.70" cy="627.00" r="2.20" fill="#ee8080"/>
<text x="132.20" y="629.21" font-size="7.35" text-anchor="start" fill="#1e1e1e" stroke="#1e1e1e" stroke-width="0.22">Positive correlatioin with BW or GA</text>
<circle cx="125.70" cy="635.70" r="2.20" fill="#8fb5dd"/>
<text x="132.20" y="637.91" font-size="7.35" text-anchor="start" fill="#1e1e1e" stroke="#1e1e1e" stroke-width="0.22">Negative correlatioin with BW or GA</text>
<text x="132.20" y="647.50" font-size="7.35" text-anchor="start" fill="#1e1e1e" stroke="#1e1e1e" stroke-width="0.22">Pathway enrichment at protein level</text>
<text x="0" y="0" font-size="14.8" fill="#111" stroke="#111" stroke-width="0.22" transform="translate(256.10 471.40) scale(1 1.06)">H</text>
<text x="300.80" y="469.20" font-size="7.35" text-anchor="start" fill="#1e1e1e" stroke="#1e1e1e" stroke-width="0.22">Negative correlatioin with BW or GA</text>
<text x="393.60" y="505.31" font-size="7.35" text-anchor="start" fill="#1e1e1e" stroke="#1e1e1e" stroke-width="0.22">Oxidoreductase complex</text>
<text x="399.10" y="532.31" font-size="7.35" text-anchor="start" fill="#1e1e1e" stroke="#1e1e1e" stroke-width="0.22">Plasma lipoprotein clearance</text>
<text x="379.30" y="639.21" font-size="7.35" text-anchor="start" fill="#1e1e1e" stroke="#1e1e1e" stroke-width="0.22">HSF1−dependent transactivation</text>
<text x="357.70" y="675.11" font-size="7.35" text-anchor="start" fill="#1e1e1e" stroke="#1e1e1e" stroke-width="0.22">Leukocyte activation</text>
<g stroke="#9a9a9a" stroke-width="0.5" stroke-opacity="0.75"><line x1="390.4" y1="624.0" x2="403.9" y2="553.5"/><line x1="390.4" y1="624.0" x2="432.4" y2="565.5"/><line x1="390.4" y1="624.0" x2="304.8" y2="625.8"/><line x1="390.4" y1="624.0" x2="366.5" y2="505.4"/><line x1="390.4" y1="624.0" x2="345.7" y2="568.9"/><line x1="390.4" y1="624.0" x2="422.6" y2="581.5"/><line x1="390.4" y1="624.0" x2="366.5" y2="554.0"/><line x1="390.4" y1="624.0" x2="382.5" y2="594.0"/><line x1="390.4" y1="624.0" x2="400.3" y2="601.0"/><line x1="403.9" y1="553.5" x2="432.4" y2="565.5"/><line x1="403.9" y1="553.5" x2="409.4" y2="579.1"/><line x1="403.9" y1="553.5" x2="345.7" y2="490.0"/><line x1="403.9" y1="553.5" x2="320.1" y2="490.0"/><line x1="403.9" y1="553.5" x2="299.9" y2="554.0"/><line x1="403.9" y1="553.5" x2="422.6" y2="552.0"/><line x1="403.9" y1="553.5" x2="410.3" y2="615.8"/><line x1="403.9" y1="553.5" x2="366.5" y2="554.0"/><line x1="403.9" y1="553.5" x2="382.5" y2="594.0"/><line x1="403.9" y1="553.5" x2="400.3" y2="601.0"/><line x1="403.9" y1="553.5" x2="374.4" y2="529.9"/><line x1="375.1" y1="610.9" x2="432.4" y2="565.5"/><line x1="375.1" y1="610.9" x2="320.1" y2="490.0"/><line x1="375.1" y1="610.9" x2="299.9" y2="554.0"/><line x1="375.1" y1="610.9" x2="301.1" y2="651.1"/><line x1="375.1" y1="610.9" x2="422.6" y2="552.0"/><line x1="375.1" y1="610.9" x2="410.3" y2="615.8"/><line x1="375.1" y1="610.9" x2="422.6" y2="581.5"/><line x1="375.1" y1="610.9" x2="366.5" y2="554.0"/><line x1="375.1" y1="610.9" x2="382.5" y2="594.0"/><line x1="375.1" y1="610.9" x2="400.3" y2="601.0"/><line x1="375.1" y1="610.9" x2="352.7" y2="657.5"/><line x1="375.1" y1="610.9" x2="374.4" y2="529.9"/><line x1="375.1" y1="610.9" x2="318.0" y2="668.0"/><line x1="432.4" y1="565.5" x2="398.5" y2="570.6"/><line x1="432.4" y1="565.5" x2="422.6" y2="552.0"/><line x1="432.4" y1="565.5" x2="410.3" y2="615.8"/><line x1="432.4" y1="565.5" x2="422.6" y2="581.5"/><line x1="432.4" y1="565.5" x2="400.3" y2="601.0"/><line x1="353.2" y1="624.0" x2="358.9" y2="642.6"/><line x1="353.2" y1="624.0" x2="320.1" y2="490.0"/><line x1="353.2" y1="624.0" x2="304.8" y2="625.8"/><line x1="353.2" y1="624.0" x2="374.4" y2="529.9"/><line x1="353.2" y1="624.0" x2="340.8" y2="667.2"/><line x1="358.9" y1="642.6" x2="409.4" y2="579.1"/><line x1="358.9" y1="642.6" x2="301.1" y2="651.1"/><line x1="358.9" y1="642.6" x2="304.8" y2="625.8"/><line x1="358.9" y1="642.6" x2="291.6" y2="529.9"/><line x1="358.9" y1="642.6" x2="382.5" y2="594.0"/><line x1="358.9" y1="642.6" x2="330.9" y2="613.4"/><line x1="409.4" y1="579.1" x2="345.7" y2="568.9"/><line x1="409.4" y1="579.1" x2="299.9" y2="505.4"/><line x1="409.4" y1="579.1" x2="291.6" y2="529.9"/><line x1="409.4" y1="579.1" x2="422.6" y2="581.5"/><line x1="409.4" y1="579.1" x2="374.4" y2="529.9"/><line x1="345.7" y1="490.0" x2="299.9" y2="554.0"/><line x1="345.7" y1="490.0" x2="410.3" y2="615.8"/><line x1="345.7" y1="490.0" x2="345.7" y2="568.9"/><line x1="345.7" y1="490.0" x2="366.5" y2="554.0"/><line x1="345.7" y1="490.0" x2="382.5" y2="594.0"/><line x1="345.7" y1="490.0" x2="374.4" y2="529.9"/><line x1="320.1" y1="490.0" x2="410.3" y2="615.8"/><line x1="320.1" y1="490.0" x2="345.7" y2="568.9"/><line x1="320.1" y1="490.0" x2="366.5" y2="554.0"/><line x1="299.9" y1="554.0" x2="301.1" y2="651.1"/><line x1="299.9" y1="554.0" x2="366.5" y2="505.4"/><line x1="299.9" y1="554.0" x2="345.7" y2="568.9"/><line x1="299.9" y1="554.0" x2="299.9" y2="505.4"/><line x1="299.9" y1="554.0" x2="366.5" y2="554.0"/><line x1="299.9" y1="554.0" x2="382.5" y2="594.0"/><line x1="299.9" y1="554.0" x2="400.3" y2="601.0"/><line x1="301.1" y1="651.1" x2="398.5" y2="570.6"/><line x1="301.1" y1="651.1" x2="304.8" y2="625.8"/><line x1="301.1" y1="651.1" x2="291.6" y2="529.9"/><line x1="301.1" y1="651.1" x2="340.8" y2="667.2"/><line x1="398.5" y1="570.6" x2="410.3" y2="615.8"/><line x1="398.5" y1="570.6" x2="366.5" y2="505.4"/><line x1="398.5" y1="570.6" x2="299.9" y2="505.4"/><line x1="398.5" y1="570.6" x2="291.6" y2="529.9"/><line x1="398.5" y1="570.6" x2="422.6" y2="581.5"/><line x1="398.5" y1="570.6" x2="382.5" y2="594.0"/><line x1="398.5" y1="570.6" x2="318.0" y2="668.0"/><line x1="422.6" y1="552.0" x2="422.6" y2="581.5"/><line x1="410.3" y1="615.8" x2="291.6" y2="529.9"/><line x1="410.3" y1="615.8" x2="400.3" y2="601.0"/><line x1="410.3" y1="615.8" x2="374.4" y2="529.9"/><line x1="304.8" y1="625.8" x2="352.7" y2="657.5"/><line x1="304.8" y1="625.8" x2="330.9" y2="613.4"/><line x1="366.5" y1="505.4" x2="345.7" y2="568.9"/><line x1="366.5" y1="505.4" x2="291.6" y2="529.9"/><line x1="366.5" y1="505.4" x2="366.5" y2="554.0"/><line x1="366.5" y1="505.4" x2="382.5" y2="594.0"/><line x1="345.7" y1="568.9" x2="291.6" y2="529.9"/><line x1="345.7" y1="568.9" x2="382.5" y2="594.0"/><line x1="345.7" y1="568.9" x2="374.4" y2="529.9"/><line x1="345.7" y1="568.9" x2="318.0" y2="668.0"/><line x1="299.9" y1="505.4" x2="291.6" y2="529.9"/><line x1="299.9" y1="505.4" x2="382.5" y2="594.0"/><line x1="299.9" y1="505.4" x2="400.3" y2="601.0"/><line x1="299.9" y1="505.4" x2="374.4" y2="529.9"/><line x1="291.6" y1="529.9" x2="366.5" y2="554.0"/><line x1="291.6" y1="529.9" x2="382.5" y2="594.0"/><line x1="291.6" y1="529.9" x2="352.7" y2="657.5"/><line x1="291.6" y1="529.9" x2="374.4" y2="529.9"/><line x1="366.5" y1="554.0" x2="382.5" y2="594.0"/><line x1="366.5" y1="554.0" x2="330.9" y2="613.4"/><line x1="366.5" y1="554.0" x2="340.8" y2="667.2"/><line x1="382.5" y1="594.0" x2="352.7" y2="657.5"/><line x1="382.5" y1="594.0" x2="374.4" y2="529.9"/><line x1="400.3" y1="601.0" x2="352.7" y2="657.5"/><line x1="352.7" y1="657.5" x2="330.9" y2="613.4"/><line x1="352.7" y1="657.5" x2="340.8" y2="667.2"/><line x1="330.9" y1="613.4" x2="340.8" y2="667.2"/><line x1="330.9" y1="613.4" x2="318.0" y2="668.0"/><line x1="340.8" y1="667.2" x2="318.0" y2="668.0"/></g>
<ellipse cx="335" cy="527.6" rx="55" ry="51" fill="none" stroke="#777" stroke-width="0.6" stroke-dasharray="2.2,1.8"/>
<ellipse cx="422.6" cy="563.4" rx="26.5" ry="27" fill="none" stroke="#777" stroke-width="0.6" stroke-dasharray="2.2,1.8"/>
<ellipse cx="331.7" cy="638.8" rx="41" ry="38" fill="none" stroke="#777" stroke-width="0.6" stroke-dasharray="2.2,1.8"/>
<ellipse cx="390" cy="606" rx="26" ry="24" fill="none" stroke="#777" stroke-width="0.6" stroke-dasharray="2.2,1.8"/>
<circle cx="320.10" cy="490.00" r="4.00" fill="#3aaed3"/>
<circle cx="345.70" cy="490.00" r="4.00" fill="#3aaed3"/>
<circle cx="299.90" cy="505.40" r="4.00" fill="#3aaed3"/>
<circle cx="366.50" cy="505.40" r="4.00" fill="#3aaed3"/>
<circle cx="291.60" cy="529.90" r="4.00" fill="#3aaed3"/>
<circle cx="374.40" cy="529.90" r="4.00" fill="#3aaed3"/>
<circle cx="299.90" cy="554.00" r="4.00" fill="#3aaed3"/>
<circle cx="366.50" cy="554.00" r="4.00" fill="#3aaed3"/>
<circle cx="345.70" cy="568.90" r="4.00" fill="#3aaed3"/>
<circle cx="403.90" cy="553.50" r="4.00" fill="#3aaed3"/>
<circle cx="422.60" cy="552.00" r="4.00" fill="#3aaed3"/>
<circle cx="432.40" cy="565.50" r="4.00" fill="#3aaed3"/>
<circle cx="398.50" cy="570.60" r="4.00" fill="#3aaed3"/>
<circle cx="409.40" cy="579.10" r="4.00" fill="#3aaed3"/>
<circle cx="422.60" cy="581.50" r="4.00" fill="#3aaed3"/>
<circle cx="382.50" cy="594.00" r="4.00" fill="#3aaed3"/>
<circle cx="400.30" cy="601.00" r="4.00" fill="#3aaed3"/>
<circle cx="375.10" cy="610.90" r="4.00" fill="#3aaed3"/>
<circle cx="410.30" cy="615.80" r="4.00" fill="#3aaed3"/>
<circle cx="390.40" cy="624.00" r="4.00" fill="#3aaed3"/>
<circle cx="330.90" cy="613.40" r="4.00" fill="#3aaed3"/>
<circle cx="353.20" cy="624.00" r="4.00" fill="#3aaed3"/>
<circle cx="304.80" cy="625.80" r="4.00" fill="#3aaed3"/>
<circle cx="358.90" cy="642.60" r="4.00" fill="#3aaed3"/>
<circle cx="301.10" cy="651.10" r="4.00" fill="#3aaed3"/>
<circle cx="352.70" cy="657.50" r="4.00" fill="#3aaed3"/>
<circle cx="318.00" cy="668.00" r="4.00" fill="#3aaed3"/>
<circle cx="340.80" cy="667.20" r="4.00" fill="#3aaed3"/>
<text x="320.10" y="492.20" font-size="7.35" text-anchor="middle" fill="#1a1a1a" stroke="#1a1a1a" stroke-width="0.22">CYC1</text>
<text x="345.70" y="492.20" font-size="7.35" text-anchor="middle" fill="#1a1a1a" stroke="#1a1a1a" stroke-width="0.22">CYB5R3</text>
<text x="299.90" y="507.60" font-size="7.35" text-anchor="middle" fill="#1a1a1a" stroke="#1a1a1a" stroke-width="0.22">NDUFA10</text>
<text x="366.50" y="507.60" font-size="7.35" text-anchor="middle" fill="#1a1a1a" stroke="#1a1a1a" stroke-width="0.22">HSPA1L</text>
<text x="291.60" y="532.11" font-size="7.35" text-anchor="middle" fill="#1a1a1a" stroke="#1a1a1a" stroke-width="0.22">NDUFS3</text>
<text x="374.40" y="532.11" font-size="7.35" text-anchor="middle" fill="#1a1a1a" stroke="#1a1a1a" stroke-width="0.22">SERPINH1</text>
<text x="299.90" y="556.21" font-size="7.35" text-anchor="middle" fill="#1a1a1a" stroke="#1a1a1a" stroke-width="0.22">DLD</text>
<text x="366.50" y="556.21" font-size="7.35" text-anchor="middle" fill="#1a1a1a" stroke="#1a1a1a" stroke-width="0.22">PRDX6</text>
<text x="345.70" y="571.11" font-size="7.35" text-anchor="middle" fill="#1a1a1a" stroke="#1a1a1a" stroke-width="0.22">HSPA2</text>
<text x="403.90" y="555.71" font-size="7.35" text-anchor="middle" fill="#1a1a1a" stroke="#1a1a1a" stroke-width="0.22">ADH1B</text>
<text x="422.60" y="554.21" font-size="7.35" text-anchor="middle" fill="#1a1a1a" stroke="#1a1a1a" stroke-width="0.22">HDLBP</text>
<text x="432.40" y="567.71" font-size="7.35" text-anchor="middle" fill="#1a1a1a" stroke="#1a1a1a" stroke-width="0.22">APOC2</text>
<text x="398.50" y="572.81" font-size="7.35" text-anchor="middle" fill="#1a1a1a" stroke="#1a1a1a" stroke-width="0.22">ENO2</text>
<text x="409.40" y="581.31" font-size="7.35" text-anchor="middle" fill="#1a1a1a" stroke="#1a1a1a" stroke-width="0.22">CSK</text>
<text x="422.60" y="583.71" font-size="7.35" text-anchor="middle" fill="#1a1a1a" stroke="#1a1a1a" stroke-width="0.22">PLTP</text>
<text x="382.50" y="596.21" font-size="7.35" text-anchor="middle" fill="#1a1a1a" stroke="#1a1a1a" stroke-width="0.22">PSMA6</text>
<text x="400.30" y="603.21" font-size="7.35" text-anchor="middle" fill="#1a1a1a" stroke="#1a1a1a" stroke-width="0.22">PSMB3</text>
<text x="375.10" y="613.11" font-size="7.35" text-anchor="middle" fill="#1a1a1a" stroke="#1a1a1a" stroke-width="0.22">AP2A1</text>
<text x="410.30" y="618.00" font-size="7.35" text-anchor="middle" fill="#1a1a1a" stroke="#1a1a1a" stroke-width="0.22">HLA-A</text>
<text x="390.40" y="626.21" font-size="7.35" text-anchor="middle" fill="#1a1a1a" stroke="#1a1a1a" stroke-width="0.22">ACTR1A</text>
<text x="330.90" y="615.61" font-size="7.35" text-anchor="middle" fill="#1a1a1a" stroke="#1a1a1a" stroke-width="0.22">RAB14</text>
<text x="353.20" y="626.21" font-size="7.35" text-anchor="middle" fill="#1a1a1a" stroke="#1a1a1a" stroke-width="0.22">CHI3L1</text>
<text x="304.80" y="628.00" font-size="7.35" text-anchor="middle" fill="#1a1a1a" stroke="#1a1a1a" stroke-width="0.22">HPRT1</text>
<text x="358.90" y="644.81" font-size="7.35" text-anchor="middle" fill="#1a1a1a" stroke="#1a1a1a" stroke-width="0.22">CNN2</text>
<text x="301.10" y="653.31" font-size="7.35" text-anchor="middle" fill="#1a1a1a" stroke="#1a1a1a" stroke-width="0.22">DOCK10</text>
<text x="352.70" y="659.71" font-size="7.35" text-anchor="middle" fill="#1a1a1a" stroke="#1a1a1a" stroke-width="0.22">PYGL</text>
<text x="318.00" y="670.21" font-size="7.35" text-anchor="middle" fill="#1a1a1a" stroke="#1a1a1a" stroke-width="0.22">TOLLIP</text>
<text x="340.80" y="669.41" font-size="7.35" text-anchor="middle" fill="#1a1a1a" stroke="#1a1a1a" stroke-width="0.22">SIRPG</text>
<text x="0" y="0" font-size="14.8" fill="#111" stroke="#111" stroke-width="0.22" transform="translate(501.00 471.60) scale(1 1.06)">I</text>
<line x1="532.70" y1="481.90" x2="532.70" y2="618.70" stroke="#f5f5f5" stroke-width="0.6"/>
<line x1="545.80" y1="481.90" x2="545.80" y2="618.70" stroke="#ececec" stroke-width="0.6"/>
<line x1="558.90" y1="481.90" x2="558.90" y2="618.70" stroke="#f5f5f5" stroke-width="0.6"/>
<line x1="572.00" y1="481.90" x2="572.00" y2="618.70" stroke="#ececec" stroke-width="0.6"/>
<line x1="585.10" y1="481.90" x2="585.10" y2="618.70" stroke="#f5f5f5" stroke-width="0.6"/>
<line x1="598.20" y1="481.90" x2="598.20" y2="618.70" stroke="#ececec" stroke-width="0.6"/>
<line x1="611.30" y1="481.90" x2="611.30" y2="618.70" stroke="#f5f5f5" stroke-width="0.6"/>
<line x1="624.40" y1="481.90" x2="624.40" y2="618.70" stroke="#ececec" stroke-width="0.6"/>
<line x1="637.50" y1="481.90" x2="637.50" y2="618.70" stroke="#f5f5f5" stroke-width="0.6"/>
<line x1="650.60" y1="481.90" x2="650.60" y2="618.70" stroke="#ececec" stroke-width="0.6"/>
<line x1="663.70" y1="481.90" x2="663.70" y2="618.70" stroke="#f5f5f5" stroke-width="0.6"/>
<line x1="527.70" y1="613.10" x2="668.90" y2="613.10" stroke="#ececec" stroke-width="0.6"/>
<line x1="527.70" y1="600.60" x2="668.90" y2="600.60" stroke="#f5f5f5" stroke-width="0.6"/>
<line x1="527.70" y1="588.10" x2="668.90" y2="588.10" stroke="#ececec" stroke-width="0.6"/>
<line x1="527.70" y1="575.60" x2="668.90" y2="575.60" stroke="#f5f5f5" stroke-width="0.6"/>
<line x1="527.70" y1="563.10" x2="668.90" y2="563.10" stroke="#ececec" stroke-width="0.6"/>
<line x1="527.70" y1="550.60" x2="668.90" y2="550.60" stroke="#f5f5f5" stroke-width="0.6"/>
<line x1="527.70" y1="538.10" x2="668.90" y2="538.10" stroke="#ececec" stroke-width="0.6"/>
<line x1="527.70" y1="525.60" x2="668.90" y2="525.60" stroke="#f5f5f5" stroke-width="0.6"/>
<line x1="527.70" y1="513.10" x2="668.90" y2="513.10" stroke="#ececec" stroke-width="0.6"/>
<line x1="527.70" y1="500.60" x2="668.90" y2="500.60" stroke="#f5f5f5" stroke-width="0.6"/>
<line x1="527.70" y1="488.10" x2="668.90" y2="488.10" stroke="#ececec" stroke-width="0.6"/>
<line x1="527.70" y1="481.90" x2="527.70" y2="618.70" stroke="#4a4a4a" stroke-width="0.7"/>
<line x1="527.70" y1="618.70" x2="668.90" y2="618.70" stroke="#4a4a4a" stroke-width="0.7"/>
<line x1="525.70" y1="613.10" x2="527.70" y2="613.10" stroke="#5a5a5a" stroke-width="0.5"/>
<text x="523.50" y="615.31" font-size="7.35" text-anchor="end" fill="#1e1e1e" stroke="#1e1e1e" stroke-width="0.22">0</text>
<line x1="525.70" y1="588.10" x2="527.70" y2="588.10" stroke="#5a5a5a" stroke-width="0.5"/>
<text x="523.50" y="590.31" font-size="7.35" text-anchor="end" fill="#1e1e1e" stroke="#1e1e1e" stroke-width="0.22">1</text>
<line x1="525.70" y1="563.10" x2="527.70" y2="563.10" stroke="#5a5a5a" stroke-width="0.5"/>
<text x="523.50" y="565.31" font-size="7.35" text-anchor="end" fill="#1e1e1e" stroke="#1e1e1e" stroke-width="0.22">2</text>
<line x1="525.70" y1="538.10" x2="527.70" y2="538.10" stroke="#5a5a5a" stroke-width="0.5"/>
<text x="523.50" y="540.31" font-size="7.35" text-anchor="end" fill="#1e1e1e" stroke="#1e1e1e" stroke-width="0.22">3</text>
<line x1="525.70" y1="513.10" x2="527.70" y2="513.10" stroke="#5a5a5a" stroke-width="0.5"/>
<text x="523.50" y="515.31" font-size="7.35" text-anchor="end" fill="#1e1e1e" stroke="#1e1e1e" stroke-width="0.22">4</text>
<line x1="525.70" y1="488.10" x2="527.70" y2="488.10" stroke="#5a5a5a" stroke-width="0.5"/>
<text x="523.50" y="490.31" font-size="7.35" text-anchor="end" fill="#1e1e1e" stroke="#1e1e1e" stroke-width="0.22">5</text>
<line x1="545.80" y1="618.70" x2="545.80" y2="620.70" stroke="#5a5a5a" stroke-width="0.5"/>
<text x="545.80" y="629.50" font-size="7.35" text-anchor="middle" fill="#1e1e1e" stroke="#1e1e1e" stroke-width="0.22">−0.2</text>
<line x1="572.00" y1="618.70" x2="572.00" y2="620.70" stroke="#5a5a5a" stroke-width="0.5"/>
<text x="572.00" y="629.50" font-size="7.35" text-anchor="middle" fill="#1e1e1e" stroke="#1e1e1e" stroke-width="0.22">−0.1</text>
<line x1="598.20" y1="618.70" x2="598.20" y2="620.70" stroke="#5a5a5a" stroke-width="0.5"/>
<text x="598.20" y="629.50" font-size="7.35" text-anchor="middle" fill="#1e1e1e" stroke="#1e1e1e" stroke-width="0.22">0.0</text>
<line x1="624.40" y1="618.70" x2="624.40" y2="620.70" stroke="#5a5a5a" stroke-width="0.5"/>
<text x="624.40" y="629.50" font-size="7.35" text-anchor="middle" fill="#1e1e1e" stroke="#1e1e1e" stroke-width="0.22">0.1</text>
<line x1="650.60" y1="618.70" x2="650.60" y2="620.70" stroke="#5a5a5a" stroke-width="0.5"/>
<text x="650.60" y="629.50" font-size="7.35" text-anchor="middle" fill="#1e1e1e" stroke="#1e1e1e" stroke-width="0.22">0.2</text>
<line x1="598.20" y1="481.90" x2="598.20" y2="618.70" stroke="#8a8a8a" stroke-width="0.8" stroke-dasharray="5,3"/>
<line x1="527.70" y1="580.60" x2="668.90" y2="580.60" stroke="#8a8a8a" stroke-width="0.8" stroke-dasharray="5,3"/>
<circle cx="598.50" cy="508.00" r="2.00" fill="#ededed"/>
<circle cx="623.40" cy="508.00" r="2.00" fill="#ededed"/>
<circle cx="596.20" cy="520.20" r="2.00" fill="#ededed"/>
<circle cx="601.80" cy="520.20" r="2.00" fill="#ededed"/>
<circle cx="604.00" cy="520.20" r="2.00" fill="#ededed"/>
<circle cx="607.00" cy="520.20" r="2.00" fill="#ededed"/>
<circle cx="610.00" cy="520.20" r="2.00" fill="#ededed"/>
<circle cx="613.00" cy="520.20" r="2.00" fill="#ededed"/>
<circle cx="617.00" cy="520.20" r="2.00" fill="#ededed"/>
<circle cx="623.20" cy="520.20" r="2.00" fill="#ededed"/>
<circle cx="628.20" cy="520.20" r="2.00" fill="#ededed"/>
<circle cx="621.20" cy="536.80" r="2.00" fill="#ededed"/>
<circle cx="646.20" cy="508.00" r="2.00" fill="#f08a5e"/>
<circle cx="647.60" cy="520.20" r="2.00" fill="#f08a5e"/>
<circle cx="635.10" cy="536.80" r="2.00" fill="#f08a5e"/>
<circle cx="636.50" cy="536.80" r="2.00" fill="#f08a5e"/>
<circle cx="638.70" cy="536.80" r="2.00" fill="#f08a5e"/>
<circle cx="649.00" cy="536.80" r="2.00" fill="#f08a5e"/>
<circle cx="542.70" cy="551.50" r="2.00" fill="#7fa9ec"/>
<circle cx="550.50" cy="551.50" r="2.00" fill="#7fa9ec"/>
<text x="649.50" y="510.20" font-size="7.35" text-anchor="start" fill="#1e1e1e" stroke="#1e1e1e" stroke-width="0.22">APOC2</text>
<text x="652.00" y="524.31" font-size="7.35" text-anchor="start" fill="#1e1e1e" stroke="#1e1e1e" stroke-width="0.22">NDUFA10</text>
<text x="598.50" y="545.71" font-size="7.35" text-anchor="start" fill="#1e1e1e" stroke="#1e1e1e" stroke-width="0.22">IGHV4-30-4</text>
<text x="640.60" y="545.71" font-size="7.35" text-anchor="start" fill="#1e1e1e" stroke="#1e1e1e" stroke-width="0.22">IGHV4−39</text>
<text x="528.80" y="547.91" font-size="7.35" text-anchor="start" fill="#1e1e1e" stroke="#1e1e1e" stroke-width="0.22">AKR7L</text>
<text x="548.50" y="559.81" font-size="7.35" text-anchor="start" fill="#1e1e1e" stroke="#1e1e1e" stroke-width="0.22">AKR7A3</text>
<text x="0" y="0" font-size="7.35" fill="#1e1e1e" stroke="#1e1e1e" stroke-width="0.22" text-anchor="middle" transform="translate(509.9 560.0) rotate(-90)">-log<tspan font-size="4.6" dy="1.6">10</tspan><tspan dy="-1.6">(pathway Pvalue)</tspan></text>
<text x="554.00" y="641.71" font-size="7.35" text-anchor="start" fill="#1e1e1e" stroke="#1e1e1e" stroke-width="0.22">GMFCS correlation (in Spastic)</text>
<text x="0" y="0" font-size="14.8" fill="#111" stroke="#111" stroke-width="0.22" transform="translate(0.50 684.80) scale(1 1.06)">J</text>
<line x1="164.80" y1="682.00" x2="164.80" y2="792.00" stroke="#f0f0f0" stroke-width="0.6"/>
<line x1="151.90" y1="689.30" x2="178.80" y2="689.30" stroke="#f0f0f0" stroke-width="0.6"/>
<line x1="151.90" y1="706.80" x2="178.80" y2="706.80" stroke="#f0f0f0" stroke-width="0.6"/>
<line x1="151.90" y1="724.10" x2="178.80" y2="724.10" stroke="#f0f0f0" stroke-width="0.6"/>
<line x1="151.90" y1="741.40" x2="178.80" y2="741.40" stroke="#f0f0f0" stroke-width="0.6"/>
<line x1="151.90" y1="758.90" x2="178.80" y2="758.90" stroke="#f0f0f0" stroke-width="0.6"/>
<line x1="151.90" y1="776.40" x2="178.80" y2="776.40" stroke="#f0f0f0" stroke-width="0.6"/>
<text x="148.60" y="691.30" font-size="7.35" text-anchor="end" fill="#1e1e1e" stroke="#1e1e1e" stroke-width="0.22">Leukocyte transendothelial migration</text>
<text x="148.60" y="708.80" font-size="7.35" text-anchor="end" fill="#1e1e1e" stroke="#1e1e1e" stroke-width="0.22">Cell adhesion</text>
<text x="148.60" y="726.11" font-size="7.35" text-anchor="end" fill="#1e1e1e" stroke="#1e1e1e" stroke-width="0.22">VEGFA−VEGFR2 Signaling Pathway</text>
<text x="148.60" y="743.40" font-size="7.35" text-anchor="end" fill="#1e1e1e" stroke="#1e1e1e" stroke-width="0.22">Antigen binding</text>
<text x="148.60" y="760.90" font-size="7.35" text-anchor="end" fill="#1e1e1e" stroke="#1e1e1e" stroke-width="0.22">Cytokine production</text>
<text x="102.50" y="776.31" font-size="7.35" text-anchor="middle" fill="#1e1e1e" stroke="#1e1e1e" stroke-width="0.22">Plasma lipoprotein assembly,</text>
<text x="100.70" y="785.81" font-size="7.35" text-anchor="middle" fill="#1e1e1e" stroke="#1e1e1e" stroke-width="0.22">remodeling, and clearance</text>
<circle cx="164.80" cy="689.30" r="1.50" fill="#fde6df"/>
<circle cx="164.80" cy="706.80" r="2.80" fill="#f7987e"/>
<circle cx="164.80" cy="724.10" r="2.80" fill="#f7a28b"/>
<circle cx="164.80" cy="741.40" r="3.20" fill="#f25a3f"/>
<circle cx="164.80" cy="758.90" r="3.60" fill="#f81a12"/>
<circle cx="164.80" cy="776.40" r="3.20" fill="#f36a50"/>
<text x="195.20" y="686.91" font-size="7.35" text-anchor="start" fill="#1e1e1e" stroke="#1e1e1e" stroke-width="0.22">−log<tspan font-size="4.6" dy="1.6">10</tspan><tspan dy="-1.6"> FDR</tspan></text>
<rect x="201.40" y="694.70" width="8.50" height="40.60" fill="url(#gJ)"/>
<text x="212.30" y="698.91" font-size="7.35" text-anchor="start" fill="#1e1e1e" stroke="#1e1e1e" stroke-width="0.22">6</text>
<text x="212.30" y="706.61" font-size="7.35" text-anchor="start" fill="#1e1e1e" stroke="#1e1e1e" stroke-width="0.22">5</text>
<text x="212.30" y="714.21" font-size="7.35" text-anchor="start" fill="#1e1e1e" stroke="#1e1e1e" stroke-width="0.22">4</text>
<text x="212.30" y="721.50" font-size="7.35" text-anchor="start" fill="#1e1e1e" stroke="#1e1e1e" stroke-width="0.22">3</text>
<text x="212.30" y="729.11" font-size="7.35" text-anchor="start" fill="#1e1e1e" stroke="#1e1e1e" stroke-width="0.22">2</text>
<text x="212.30" y="736.41" font-size="7.35" text-anchor="start" fill="#1e1e1e" stroke="#1e1e1e" stroke-width="0.22">1</text>
<text x="193.00" y="747.11" font-size="7.35" text-anchor="start" fill="#1e1e1e" stroke="#1e1e1e" stroke-width="0.22">−log<tspan font-size="4.6" dy="1.6">10</tspan><tspan dy="-1.6"> FDR</tspan></text>
<circle cx="206.20" cy="756.90" r="1.00" fill="#000"/>
<text x="212.30" y="759.11" font-size="7.35" text-anchor="start" fill="#1e1e1e" stroke="#1e1e1e" stroke-width="0.22">1</text>
<circle cx="206.20" cy="765.20" r="1.80" fill="#000"/>
<text x="212.30" y="767.41" font-size="7.35" text-anchor="start" fill="#1e1e1e" stroke="#1e1e1e" stroke-width="0.22">2</text>
<circle cx="206.20" cy="772.90" r="2.30" fill="#000"/>
<text x="212.30" y="775.11" font-size="7.35" text-anchor="start" fill="#1e1e1e" stroke="#1e1e1e" stroke-width="0.22">3</text>
<circle cx="206.20" cy="781.00" r="2.60" fill="#000"/>
<text x="212.30" y="783.21" font-size="7.35" text-anchor="start" fill="#1e1e1e" stroke="#1e1e1e" stroke-width="0.22">4</text>
<circle cx="206.20" cy="789.30" r="2.90" fill="#000"/>
<text x="212.30" y="791.50" font-size="7.35" text-anchor="start" fill="#1e1e1e" stroke="#1e1e1e" stroke-width="0.22">5</text>
<circle cx="206.20" cy="797.00" r="3.20" fill="#000"/>
<text x="212.30" y="799.21" font-size="7.35" text-anchor="start" fill="#1e1e1e" stroke="#1e1e1e" stroke-width="0.22">6</text>
<text x="132.30" y="803.71" font-size="7.35" text-anchor="start" fill="#1e1e1e" stroke="#1e1e1e" stroke-width="0.22">APOC2 correlation</text>
<text x="0" y="0" font-size="14.8" fill="#111" stroke="#111" stroke-width="0.22" transform="translate(0.00 813.50) scale(1 1.06)">K</text>
<line x1="50.60" y1="829.20" x2="50.60" y2="918.40" stroke="#ebebeb" stroke-width="0.6"/>
<line x1="71.50" y1="829.20" x2="71.50" y2="918.40" stroke="#ebebeb" stroke-width="0.6"/>
<line x1="92.40" y1="829.20" x2="92.40" y2="918.40" stroke="#ebebeb" stroke-width="0.6"/>
<line x1="113.30" y1="829.20" x2="113.30" y2="918.40" stroke="#ebebeb" stroke-width="0.6"/>
<line x1="134.20" y1="829.20" x2="134.20" y2="918.40" stroke="#ebebeb" stroke-width="0.6"/>
<line x1="61.05" y1="829.20" x2="61.05" y2="918.40" stroke="#f6f6f6" stroke-width="0.5"/>
<line x1="81.95" y1="829.20" x2="81.95" y2="918.40" stroke="#f6f6f6" stroke-width="0.5"/>
<line x1="102.85" y1="829.20" x2="102.85" y2="918.40" stroke="#f6f6f6" stroke-width="0.5"/>
<line x1="123.75" y1="829.20" x2="123.75" y2="918.40" stroke="#f6f6f6" stroke-width="0.5"/>
<line x1="44.60" y1="898.00" x2="130.60" y2="898.00" stroke="#ebebeb" stroke-width="0.6"/>
<line x1="44.60" y1="876.10" x2="130.60" y2="876.10" stroke="#ebebeb" stroke-width="0.6"/>
<line x1="44.60" y1="854.20" x2="130.60" y2="854.20" stroke="#ebebeb" stroke-width="0.6"/>
<line x1="44.60" y1="832.30" x2="130.60" y2="832.30" stroke="#ebebeb" stroke-width="0.6"/>
<line x1="44.60" y1="908.95" x2="130.60" y2="908.95" stroke="#f6f6f6" stroke-width="0.5"/>
<line x1="44.60" y1="887.05" x2="130.60" y2="887.05" stroke="#f6f6f6" stroke-width="0.5"/>
<line x1="44.60" y1="865.15" x2="130.60" y2="865.15" stroke="#f6f6f6" stroke-width="0.5"/>
<line x1="44.60" y1="843.25" x2="130.60" y2="843.25" stroke="#f6f6f6" stroke-width="0.5"/>
<g fill="#111"><circle cx="54.13" cy="906.80" r="0.75"/><circle cx="95.94" cy="872.33" r="0.75"/><circle cx="105.46" cy="889.33" r="0.75"/><circle cx="61.90" cy="892.79" r="0.75"/><circle cx="107.55" cy="880.82" r="0.75"/><circle cx="57.04" cy="890.61" r="0.75"/><circle cx="111.42" cy="907.84" r="0.75"/><circle cx="117.27" cy="885.31" r="0.75"/><circle cx="109.71" cy="871.82" r="0.75"/><circle cx="102.17" cy="873.74" r="0.75"/><circle cx="62.03" cy="897.71" r="0.75"/><circle cx="86.43" cy="880.94" r="0.75"/><circle cx="67.06" cy="887.87" r="0.75"/><circle cx="57.55" cy="900.06" r="0.75"/><circle cx="119.83" cy="897.13" r="0.75"/><circle cx="104.13" cy="896.31" r="0.75"/><circle cx="47.19" cy="891.79" r="0.75"/><circle cx="66.55" cy="902.06" r="0.75"/><circle cx="85.57" cy="882.41" r="0.75"/><circle cx="101.69" cy="889.13" r="0.75"/><circle cx="63.80" cy="884.11" r="0.75"/><circle cx="105.57" cy="888.12" r="0.75"/><circle cx="92.32" cy="896.78" r="0.75"/><circle cx="104.73" cy="893.28" r="0.75"/><circle cx="59.20" cy="885.27" r="0.75"/><circle cx="107.83" cy="877.25" r="0.75"/><circle cx="95.16" cy="887.30" r="0.75"/><circle cx="113.20" cy="897.02" r="0.75"/><circle cx="106.73" cy="907.13" r="0.75"/><circle cx="97.84" cy="872.87" r="0.75"/><circle cx="102.22" cy="899.76" r="0.75"/><circle cx="87.37" cy="885.08" r="0.75"/><circle cx="113.40" cy="884.40" r="0.75"/><circle cx="113.24" cy="898.80" r="0.75"/><circle cx="116.46" cy="884.82" r="0.75"/><circle cx="54.07" cy="890.88" r="0.75"/><circle cx="50.99" cy="876.17" r="0.75"/><circle cx="112.08" cy="898.97" r="0.75"/><circle cx="63.04" cy="895.94" r="0.75"/><circle cx="116.16" cy="886.09" r="0.75"/><circle cx="115.58" cy="906.89" r="0.75"/><circle cx="105.48" cy="882.59" r="0.75"/><circle cx="109.72" cy="876.59" r="0.75"/><circle cx="56.96" cy="894.91" r="0.75"/><circle cx="113.46" cy="888.19" r="0.75"/><circle cx="81.03" cy="906.11" r="0.75"/><circle cx="91.97" cy="879.79" r="0.75"/><circle cx="114.81" cy="890.39" r="0.75"/><circle cx="57.85" cy="892.17" r="0.75"/><circle cx="104.37" cy="873.21" r="0.75"/><circle cx="117.26" cy="878.43" r="0.75"/><circle cx="85.78" cy="890.21" r="0.75"/><circle cx="58.92" cy="884.51" r="0.75"/><circle cx="110.57" cy="888.82" r="0.75"/><circle cx="119.22" cy="899.09" r="0.75"/><circle cx="118.66" cy="886.49" r="0.75"/><circle cx="57.15" cy="899.58" r="0.75"/><circle cx="112.09" cy="872.50" r="0.75"/><circle cx="101.41" cy="886.30" r="0.75"/><circle cx="98.78" cy="893.93" r="0.75"/><circle cx="70.60" cy="899.39" r="0.75"/><circle cx="51.86" cy="901.01" r="0.75"/><circle cx="117.10" cy="888.94" r="0.75"/><circle cx="104.98" cy="890.51" r="0.75"/><circle cx="62.54" cy="917.16" r="0.75"/><circle cx="80.07" cy="862.74" r="0.75"/><circle cx="58.68" cy="891.55" r="0.75"/><circle cx="112.65" cy="898.39" r="0.75"/><circle cx="120.46" cy="885.09" r="0.75"/><circle cx="83.11" cy="891.83" r="0.75"/><circle cx="92.86" cy="886.66" r="0.75"/><circle cx="92.67" cy="874.38" r="0.75"/><circle cx="111.21" cy="898.54" r="0.75"/><circle cx="52.33" cy="886.48" r="0.75"/><circle cx="114.62" cy="888.42" r="0.75"/><circle cx="77.47" cy="890.55" r="0.75"/><circle cx="113.74" cy="901.15" r="0.75"/><circle cx="106.65" cy="905.27" r="0.75"/><circle cx="110.49" cy="894.64" r="0.75"/><circle cx="106.27" cy="879.39" r="0.75"/><circle cx="126.88" cy="892.88" r="0.75"/><circle cx="55.14" cy="885.82" r="0.75"/><circle cx="99.69" cy="879.12" r="0.75"/><circle cx="52.80" cy="871.59" r="0.75"/><circle cx="109.58" cy="886.88" r="0.75"/><circle cx="111.14" cy="894.24" r="0.75"/><circle cx="83.44" cy="902.31" r="0.75"/><circle cx="61.26" cy="895.67" r="0.75"/><circle cx="58.57" cy="898.03" r="0.75"/><circle cx="114.66" cy="874.81" r="0.75"/><circle cx="47.87" cy="878.31" r="0.75"/><circle cx="80.38" cy="885.77" r="0.75"/><circle cx="59.23" cy="884.63" r="0.75"/><circle cx="61.89" cy="869.76" r="0.75"/><circle cx="61.39" cy="914.42" r="0.75"/><circle cx="118.99" cy="885.62" r="0.75"/><circle cx="50.55" cy="903.77" r="0.75"/><circle cx="63.41" cy="892.23" r="0.75"/><circle cx="54.79" cy="883.62" r="0.75"/><circle cx="110.14" cy="884.06" r="0.75"/><circle cx="115.35" cy="898.25" r="0.75"/><circle cx="58.90" cy="884.05" r="0.75"/><circle cx="95.04" cy="871.98" r="0.75"/><circle cx="122.88" cy="895.85" r="0.75"/><circle cx="55.01" cy="895.70" r="0.75"/><circle cx="112.07" cy="904.36" r="0.75"/><circle cx="65.81" cy="885.94" r="0.75"/><circle cx="107.53" cy="895.83" r="0.75"/><circle cx="109.86" cy="881.31" r="0.75"/><circle cx="88.48" cy="876.98" r="0.75"/><circle cx="114.20" cy="885.91" r="0.75"/><circle cx="89.73" cy="895.82" r="0.75"/><circle cx="58.21" cy="892.39" r="0.75"/><circle cx="86.63" cy="903.40" r="0.75"/><circle cx="66.45" cy="878.64" r="0.75"/><circle cx="80.31" cy="882.84" r="0.75"/><circle cx="109.96" cy="888.56" r="0.75"/><circle cx="112.63" cy="884.91" r="0.75"/><circle cx="79.45" cy="893.96" r="0.75"/><circle cx="55.34" cy="904.80" r="0.75"/><circle cx="62.48" cy="907.31" r="0.75"/><circle cx="110.53" cy="894.12" r="0.75"/><circle cx="118.07" cy="894.08" r="0.75"/><circle cx="117.87" cy="888.94" r="0.75"/><circle cx="121.67" cy="893.50" r="0.75"/><circle cx="52.56" cy="883.06" r="0.75"/><circle cx="112.55" cy="901.89" r="0.75"/><circle cx="62.74" cy="898.04" r="0.75"/><circle cx="117.70" cy="859.67" r="0.75"/><circle cx="94.87" cy="905.50" r="0.75"/><circle cx="110.70" cy="884.75" r="0.75"/><circle cx="97.50" cy="878.20" r="0.75"/><circle cx="110.28" cy="883.94" r="0.75"/><circle cx="50.77" cy="888.10" r="0.75"/><circle cx="55.05" cy="899.55" r="0.75"/><circle cx="62.58" cy="898.17" r="0.75"/><circle cx="109.32" cy="888.46" r="0.75"/><circle cx="50.22" cy="887.75" r="0.75"/><circle cx="112.33" cy="901.99" r="0.75"/><circle cx="52.26" cy="889.91" r="0.75"/><circle cx="91.26" cy="877.72" r="0.75"/><circle cx="109.46" cy="883.94" r="0.75"/><circle cx="97.40" cy="904.48" r="0.75"/><circle cx="117.84" cy="887.52" r="0.75"/><circle cx="106.29" cy="887.99" r="0.75"/><circle cx="63.38" cy="908.67" r="0.75"/><circle cx="58.08" cy="877.51" r="0.75"/><circle cx="110.33" cy="887.55" r="0.75"/><circle cx="97.51" cy="899.54" r="0.75"/><circle cx="82.23" cy="881.98" r="0.75"/><circle cx="85.80" cy="908.96" r="0.75"/><circle cx="109.17" cy="882.74" r="0.75"/><circle cx="115.77" cy="909.14" r="0.75"/><circle cx="63.20" cy="909.79" r="0.75"/><circle cx="54.23" cy="880.74" r="0.75"/><circle cx="58.87" cy="900.05" r="0.75"/><circle cx="111.11" cy="881.20" r="0.75"/><circle cx="48.61" cy="894.14" r="0.75"/><circle cx="55.03" cy="901.91" r="0.75"/><circle cx="109.71" cy="883.22" r="0.75"/><circle cx="64.41" cy="887.32" r="0.75"/><circle cx="106.26" cy="874.13" r="0.75"/><circle cx="121.41" cy="884.65" r="0.75"/><circle cx="82.00" cy="886.86" r="0.75"/><circle cx="106.52" cy="878.33" r="0.75"/><circle cx="108.73" cy="881.29" r="0.75"/><circle cx="108.08" cy="896.35" r="0.75"/><circle cx="95.15" cy="872.34" r="0.75"/><circle cx="53.29" cy="902.39" r="0.75"/><circle cx="50.96" cy="900.89" r="0.75"/><circle cx="53.74" cy="893.47" r="0.75"/><circle cx="109.87" cy="880.17" r="0.75"/><circle cx="60.08" cy="891.29" r="0.75"/><circle cx="49.67" cy="907.71" r="0.75"/><circle cx="61.80" cy="885.12" r="0.75"/><circle cx="49.55" cy="884.93" r="0.75"/><circle cx="54.85" cy="905.37" r="0.75"/><circle cx="57.20" cy="880.16" r="0.75"/><circle cx="58.84" cy="880.93" r="0.75"/><circle cx="103.84" cy="890.45" r="0.75"/><circle cx="55.39" cy="885.51" r="0.75"/><circle cx="105.96" cy="874.89" r="0.75"/><circle cx="45.86" cy="894.46" r="0.75"/><circle cx="109.06" cy="891.04" r="0.75"/><circle cx="125.29" cy="874.09" r="0.75"/><circle cx="110.92" cy="899.75" r="0.75"/><circle cx="52.70" cy="881.70" r="0.75"/><circle cx="104.32" cy="877.19" r="0.75"/><circle cx="56.34" cy="889.39" r="0.75"/><circle cx="96.59" cy="905.24" r="0.75"/><circle cx="55.96" cy="889.12" r="0.75"/><circle cx="108.35" cy="885.59" r="0.75"/><circle cx="98.95" cy="896.87" r="0.75"/><circle cx="107.73" cy="896.21" r="0.75"/><circle cx="88.30" cy="885.27" r="0.75"/><circle cx="89.57" cy="881.77" r="0.75"/><circle cx="61.58" cy="898.39" r="0.75"/><circle cx="60.43" cy="891.78" r="0.75"/><circle cx="107.83" cy="875.68" r="0.75"/><circle cx="53.53" cy="902.61" r="0.75"/><circle cx="106.77" cy="889.98" r="0.75"/><circle cx="48.68" cy="904.76" r="0.75"/><circle cx="107.17" cy="887.14" r="0.75"/><circle cx="114.09" cy="892.07" r="0.75"/><circle cx="113.45" cy="902.23" r="0.75"/><circle cx="115.39" cy="892.48" r="0.75"/><circle cx="109.62" cy="879.47" r="0.75"/><circle cx="115.12" cy="878.83" r="0.75"/><circle cx="111.61" cy="880.09" r="0.75"/><circle cx="105.04" cy="899.03" r="0.75"/><circle cx="120.70" cy="901.84" r="0.75"/><circle cx="118.95" cy="888.57" r="0.75"/><circle cx="97.14" cy="891.55" r="0.75"/><circle cx="104.56" cy="882.36" r="0.75"/><circle cx="60.42" cy="886.06" r="0.75"/><circle cx="59.17" cy="893.16" r="0.75"/><circle cx="92.65" cy="892.86" r="0.75"/><circle cx="117.51" cy="879.57" r="0.75"/><circle cx="49.10" cy="889.15" r="0.75"/><circle cx="80.59" cy="881.02" r="0.75"/><circle cx="52.14" cy="881.54" r="0.75"/><circle cx="116.65" cy="888.23" r="0.75"/><circle cx="108.83" cy="873.91" r="0.75"/><circle cx="115.75" cy="880.54" r="0.75"/><circle cx="107.38" cy="877.07" r="0.75"/><circle cx="110.45" cy="870.94" r="0.75"/><circle cx="55.17" cy="888.67" r="0.75"/><circle cx="92.89" cy="887.56" r="0.75"/><circle cx="115.72" cy="875.94" r="0.75"/><circle cx="103.06" cy="904.15" r="0.75"/><circle cx="117.00" cy="872.66" r="0.75"/><circle cx="60.91" cy="896.76" r="0.75"/><circle cx="57.96" cy="883.71" r="0.75"/><circle cx="118.08" cy="900.00" r="0.75"/><circle cx="112.44" cy="879.02" r="0.75"/><circle cx="74.90" cy="883.46" r="0.75"/><circle cx="125.10" cy="873.57" r="0.75"/><circle cx="103.69" cy="884.92" r="0.75"/><circle cx="115.33" cy="874.81" r="0.75"/><circle cx="121.50" cy="901.56" r="0.75"/><circle cx="55.54" cy="904.75" r="0.75"/><circle cx="115.87" cy="876.55" r="0.75"/><circle cx="59.67" cy="908.09" r="0.75"/><circle cx="55.81" cy="888.55" r="0.75"/><circle cx="110.84" cy="890.44" r="0.75"/><circle cx="118.30" cy="889.37" r="0.75"/><circle cx="84.00" cy="880.49" r="0.75"/><circle cx="77.82" cy="885.35" r="0.75"/><circle cx="54.22" cy="877.81" r="0.75"/><circle cx="67.32" cy="883.32" r="0.75"/><circle cx="53.03" cy="889.38" r="0.75"/><circle cx="52.98" cy="884.13" r="0.75"/><circle cx="55.21" cy="894.35" r="0.75"/><circle cx="58.02" cy="886.41" r="0.75"/><circle cx="87.81" cy="872.13" r="0.75"/><circle cx="102.52" cy="885.89" r="0.75"/><circle cx="109.08" cy="875.54" r="0.75"/><circle cx="102.87" cy="892.22" r="0.75"/><circle cx="116.30" cy="890.66" r="0.75"/><circle cx="119.22" cy="888.73" r="0.75"/><circle cx="119.89" cy="878.05" r="0.75"/><circle cx="56.88" cy="903.85" r="0.75"/><circle cx="92.47" cy="882.18" r="0.75"/><circle cx="107.23" cy="899.11" r="0.75"/><circle cx="53.20" cy="868.97" r="0.75"/><circle cx="49.03" cy="897.91" r="0.75"/><circle cx="68.91" cy="900.98" r="0.75"/><circle cx="112.75" cy="877.24" r="0.75"/><circle cx="86.70" cy="903.90" r="0.75"/><circle cx="54.90" cy="903.51" r="0.75"/><circle cx="55.55" cy="884.39" r="0.75"/><circle cx="49.07" cy="917.16" r="0.75"/><circle cx="104.47" cy="902.67" r="0.75"/><circle cx="75.36" cy="902.38" r="0.75"/><circle cx="53.59" cy="886.59" r="0.75"/><circle cx="89.50" cy="888.61" r="0.75"/><circle cx="116.30" cy="889.21" r="0.75"/><circle cx="52.14" cy="878.85" r="0.75"/><circle cx="57.29" cy="899.48" r="0.75"/><circle cx="89.86" cy="904.56" r="0.75"/><circle cx="66.64" cy="897.63" r="0.75"/><circle cx="100.49" cy="899.26" r="0.75"/><circle cx="49.14" cy="883.29" r="0.75"/><circle cx="97.87" cy="887.67" r="0.75"/><circle cx="50.43" cy="901.47" r="0.75"/><circle cx="72.55" cy="877.49" r="0.75"/><circle cx="89.41" cy="895.98" r="0.75"/><circle cx="94.37" cy="885.21" r="0.75"/><circle cx="99.31" cy="882.68" r="0.75"/><circle cx="102.50" cy="894.06" r="0.75"/><circle cx="105.50" cy="880.41" r="0.75"/><circle cx="92.64" cy="916.59" r="0.75"/><circle cx="92.38" cy="880.51" r="0.75"/><circle cx="90.57" cy="885.85" r="0.75"/><circle cx="82.78" cy="905.87" r="0.75"/><circle cx="119.96" cy="898.69" r="0.75"/><circle cx="90.47" cy="892.58" r="0.75"/><circle cx="111.08" cy="895.30" r="0.75"/><circle cx="90.12" cy="872.64" r="0.75"/><circle cx="96.52" cy="911.30" r="0.75"/><circle cx="112.25" cy="835.04" r="0.75"/><circle cx="110.69" cy="852.56" r="0.75"/><circle cx="111.73" cy="856.94" r="0.75"/><circle cx="57.92" cy="863.51" r="0.75"/><circle cx="100.76" cy="864.05" r="0.75"/><circle cx="46.42" cy="908.95" r="0.75"/><circle cx="97.62" cy="915.52" r="0.75"/></g>
<line x1="47.80" y1="890.50" x2="126.60" y2="883.30" stroke="#f07a7a" stroke-width="0.8"/>
<rect x="44.60" y="829.20" width="86.00" height="89.20" fill="none" stroke="#8c8c8c" stroke-width="0.6"/>
<line x1="42.60" y1="898.00" x2="44.60" y2="898.00" stroke="#5a5a5a" stroke-width="0.5"/>
<text x="42.30" y="900.21" font-size="7.35" text-anchor="end" fill="#1e1e1e" stroke="#1e1e1e" stroke-width="0.22">0.20</text>
<line x1="42.60" y1="876.10" x2="44.60" y2="876.10" stroke="#5a5a5a" stroke-width="0.5"/>
<text x="42.30" y="878.31" font-size="7.35" text-anchor="end" fill="#1e1e1e" stroke="#1e1e1e" stroke-width="0.22">0.24</text>
<line x1="42.60" y1="854.20" x2="44.60" y2="854.20" stroke="#5a5a5a" stroke-width="0.5"/>
<text x="42.30" y="856.41" font-size="7.35" text-anchor="end" fill="#1e1e1e" stroke="#1e1e1e" stroke-width="0.22">0.28</text>
<line x1="42.60" y1="832.30" x2="44.60" y2="832.30" stroke="#5a5a5a" stroke-width="0.5"/>
<text x="42.30" y="834.50" font-size="7.35" text-anchor="end" fill="#1e1e1e" stroke="#1e1e1e" stroke-width="0.22">0.32</text>
<line x1="50.60" y1="918.40" x2="50.60" y2="920.40" stroke="#5a5a5a" stroke-width="0.5"/>
<text x="50.60" y="926.21" font-size="7.35" text-anchor="middle" fill="#1e1e1e" stroke="#1e1e1e" stroke-width="0.22">−0.4</text>
<line x1="71.50" y1="918.40" x2="71.50" y2="920.40" stroke="#5a5a5a" stroke-width="0.5"/>
<text x="71.50" y="926.21" font-size="7.35" text-anchor="middle" fill="#1e1e1e" stroke="#1e1e1e" stroke-width="0.22">−0.2</text>
<line x1="92.40" y1="918.40" x2="92.40" y2="920.40" stroke="#5a5a5a" stroke-width="0.5"/>
<text x="92.40" y="926.21" font-size="7.35" text-anchor="middle" fill="#1e1e1e" stroke="#1e1e1e" stroke-width="0.22">0.0</text>
<line x1="113.30" y1="918.40" x2="113.30" y2="920.40" stroke="#5a5a5a" stroke-width="0.5"/>
<text x="113.30" y="926.21" font-size="7.35" text-anchor="middle" fill="#1e1e1e" stroke="#1e1e1e" stroke-width="0.22">0.2</text>
<text x="55.00" y="824.31" font-size="7.35" fill="#1e1e1e" stroke="#1e1e1e" stroke-width="0.22">R = 0.2, <tspan font-style="italic">P</tspan> = 0.00079</text>
<text x="52.80" y="936.31" font-size="7.35" text-anchor="start" fill="#1e1e1e" stroke="#1e1e1e" stroke-width="0.22">Monocyte aggregation</text>
<text x="13.00" y="875.60" font-size="7.35" text-anchor="middle" fill="#1e1e1e" stroke="#1e1e1e" stroke-width="0.22" transform="rotate(-90 13.00 875.60)">Plasma lipoprotein assembly</text>
<text x="21.00" y="875.60" font-size="7.35" text-anchor="middle" fill="#1e1e1e" stroke="#1e1e1e" stroke-width="0.22" transform="rotate(-90 21.00 875.60)">remodeling and clearance</text>
<line x1="182.70" y1="829.50" x2="182.70" y2="917.80" stroke="#ebebeb" stroke-width="0.6"/>
<line x1="202.25" y1="829.50" x2="202.25" y2="917.80" stroke="#ebebeb" stroke-width="0.6"/>
<line x1="221.80" y1="829.50" x2="221.80" y2="917.80" stroke="#ebebeb" stroke-width="0.6"/>
<line x1="241.35" y1="829.50" x2="241.35" y2="917.80" stroke="#ebebeb" stroke-width="0.6"/>
<line x1="260.90" y1="829.50" x2="260.90" y2="917.80" stroke="#ebebeb" stroke-width="0.6"/>
<line x1="192.48" y1="829.50" x2="192.48" y2="917.80" stroke="#f6f6f6" stroke-width="0.5"/>
<line x1="212.03" y1="829.50" x2="212.03" y2="917.80" stroke="#f6f6f6" stroke-width="0.5"/>
<line x1="231.58" y1="829.50" x2="231.58" y2="917.80" stroke="#f6f6f6" stroke-width="0.5"/>
<line x1="251.12" y1="829.50" x2="251.12" y2="917.80" stroke="#f6f6f6" stroke-width="0.5"/>
<line x1="176.30" y1="898.00" x2="262.40" y2="898.00" stroke="#ebebeb" stroke-width="0.6"/>
<line x1="176.30" y1="876.10" x2="262.40" y2="876.10" stroke="#ebebeb" stroke-width="0.6"/>
<line x1="176.30" y1="854.20" x2="262.40" y2="854.20" stroke="#ebebeb" stroke-width="0.6"/>
<line x1="176.30" y1="832.30" x2="262.40" y2="832.30" stroke="#ebebeb" stroke-width="0.6"/>
<line x1="176.30" y1="908.95" x2="262.40" y2="908.95" stroke="#f6f6f6" stroke-width="0.5"/>
<line x1="176.30" y1="887.05" x2="262.40" y2="887.05" stroke="#f6f6f6" stroke-width="0.5"/>
<line x1="176.30" y1="865.15" x2="262.40" y2="865.15" stroke="#f6f6f6" stroke-width="0.5"/>
<line x1="176.30" y1="843.25" x2="262.40" y2="843.25" stroke="#f6f6f6" stroke-width="0.5"/>
<g fill="#111"><circle cx="223.40" cy="900.32" r="0.75"/><circle cx="202.37" cy="866.03" r="0.75"/><circle cx="228.55" cy="893.45" r="0.75"/><circle cx="204.95" cy="873.81" r="0.75"/><circle cx="221.48" cy="898.61" r="0.75"/><circle cx="187.10" cy="879.52" r="0.75"/><circle cx="230.52" cy="884.30" r="0.75"/><circle cx="205.27" cy="910.77" r="0.75"/><circle cx="235.99" cy="893.48" r="0.75"/><circle cx="230.46" cy="915.52" r="0.75"/><circle cx="216.18" cy="881.99" r="0.75"/><circle cx="219.54" cy="869.19" r="0.75"/><circle cx="232.34" cy="878.12" r="0.75"/><circle cx="229.55" cy="892.53" r="0.75"/><circle cx="209.08" cy="899.46" r="0.75"/><circle cx="237.54" cy="892.14" r="0.75"/><circle cx="190.63" cy="887.81" r="0.75"/><circle cx="221.13" cy="895.68" r="0.75"/><circle cx="225.73" cy="900.19" r="0.75"/><circle cx="256.48" cy="895.01" r="0.75"/><circle cx="206.43" cy="888.73" r="0.75"/><circle cx="222.65" cy="880.09" r="0.75"/><circle cx="223.34" cy="882.53" r="0.75"/><circle cx="220.45" cy="892.94" r="0.75"/><circle cx="205.56" cy="898.26" r="0.75"/><circle cx="219.37" cy="904.06" r="0.75"/><circle cx="231.28" cy="893.36" r="0.75"/><circle cx="236.53" cy="880.85" r="0.75"/><circle cx="215.94" cy="859.67" r="0.75"/><circle cx="239.95" cy="897.52" r="0.75"/><circle cx="226.31" cy="896.69" r="0.75"/><circle cx="207.25" cy="888.18" r="0.75"/><circle cx="213.35" cy="880.05" r="0.75"/><circle cx="200.71" cy="886.91" r="0.75"/><circle cx="238.32" cy="886.98" r="0.75"/><circle cx="246.74" cy="867.45" r="0.75"/><circle cx="203.23" cy="894.14" r="0.75"/><circle cx="212.27" cy="872.74" r="0.75"/><circle cx="213.34" cy="913.69" r="0.75"/><circle cx="211.26" cy="893.67" r="0.75"/><circle cx="217.89" cy="891.91" r="0.75"/><circle cx="220.57" cy="899.07" r="0.75"/><circle cx="219.59" cy="895.24" r="0.75"/><circle cx="214.01" cy="893.26" r="0.75"/><circle cx="231.74" cy="887.19" r="0.75"/><circle cx="229.11" cy="898.53" r="0.75"/><circle cx="196.39" cy="892.14" r="0.75"/><circle cx="231.82" cy="890.45" r="0.75"/><circle cx="212.56" cy="908.08" r="0.75"/><circle cx="224.55" cy="899.45" r="0.75"/><circle cx="196.70" cy="886.01" r="0.75"/><circle cx="220.93" cy="875.98" r="0.75"/><circle cx="202.65" cy="905.94" r="0.75"/><circle cx="221.83" cy="872.24" r="0.75"/><circle cx="222.70" cy="882.67" r="0.75"/><circle cx="200.89" cy="886.85" r="0.75"/><circle cx="199.22" cy="910.80" r="0.75"/><circle cx="229.89" cy="877.10" r="0.75"/><circle cx="210.21" cy="888.13" r="0.75"/><circle cx="227.84" cy="892.41" r="0.75"/><circle cx="220.75" cy="885.95" r="0.75"/><circle cx="208.25" cy="902.45" r="0.75"/><circle cx="226.26" cy="863.64" r="0.75"/><circle cx="214.76" cy="895.02" r="0.75"/><circle cx="246.77" cy="897.31" r="0.75"/><circle cx="210.02" cy="868.06" r="0.75"/><circle cx="229.91" cy="881.48" r="0.75"/><circle cx="190.42" cy="875.26" r="0.75"/><circle cx="216.83" cy="878.42" r="0.75"/><circle cx="227.93" cy="868.73" r="0.75"/><circle cx="232.10" cy="868.85" r="0.75"/><circle cx="211.41" cy="877.02" r="0.75"/><circle cx="228.93" cy="895.58" r="0.75"/><circle cx="201.33" cy="892.17" r="0.75"/><circle cx="208.30" cy="894.76" r="0.75"/><circle cx="213.58" cy="897.17" r="0.75"/><circle cx="222.08" cy="887.97" r="0.75"/><circle cx="206.54" cy="898.51" r="0.75"/><circle cx="223.54" cy="895.63" r="0.75"/><circle cx="213.81" cy="900.42" r="0.75"/><circle cx="194.78" cy="892.64" r="0.75"/><circle cx="206.07" cy="890.71" r="0.75"/><circle cx="216.16" cy="894.39" r="0.75"/><circle cx="232.86" cy="899.19" r="0.75"/><circle cx="236.58" cy="885.77" r="0.75"/><circle cx="257.83" cy="899.96" r="0.75"/><circle cx="211.13" cy="885.21" r="0.75"/><circle cx="231.62" cy="892.90" r="0.75"/><circle cx="231.55" cy="888.27" r="0.75"/><circle cx="200.31" cy="886.09" r="0.75"/><circle cx="232.61" cy="885.01" r="0.75"/><circle cx="219.21" cy="899.70" r="0.75"/><circle cx="231.01" cy="873.06" r="0.75"/><circle cx="201.03" cy="882.36" r="0.75"/><circle cx="195.39" cy="887.16" r="0.75"/><circle cx="182.89" cy="891.61" r="0.75"/><circle cx="229.71" cy="906.20" r="0.75"/><circle cx="201.75" cy="888.28" r="0.75"/><circle cx="217.01" cy="886.03" r="0.75"/><circle cx="240.15" cy="903.08" r="0.75"/><circle cx="223.98" cy="911.88" r="0.75"/><circle cx="178.79" cy="900.90" r="0.75"/><circle cx="182.03" cy="883.83" r="0.75"/><circle cx="233.02" cy="883.79" r="0.75"/><circle cx="197.57" cy="898.42" r="0.75"/><circle cx="196.35" cy="891.88" r="0.75"/><circle cx="206.17" cy="876.92" r="0.75"/><circle cx="226.52" cy="904.15" r="0.75"/><circle cx="241.43" cy="887.05" r="0.75"/><circle cx="232.97" cy="889.23" r="0.75"/><circle cx="238.98" cy="876.36" r="0.75"/><circle cx="232.03" cy="873.28" r="0.75"/><circle cx="229.63" cy="885.80" r="0.75"/><circle cx="210.19" cy="913.84" r="0.75"/><circle cx="238.52" cy="882.34" r="0.75"/><circle cx="205.33" cy="879.60" r="0.75"/><circle cx="223.31" cy="888.25" r="0.75"/><circle cx="247.11" cy="877.75" r="0.75"/><circle cx="201.67" cy="888.30" r="0.75"/><circle cx="235.34" cy="876.23" r="0.75"/><circle cx="228.62" cy="893.69" r="0.75"/><circle cx="226.24" cy="911.16" r="0.75"/><circle cx="239.18" cy="889.97" r="0.75"/><circle cx="213.08" cy="897.59" r="0.75"/><circle cx="223.36" cy="898.97" r="0.75"/><circle cx="206.92" cy="900.55" r="0.75"/><circle cx="245.73" cy="890.60" r="0.75"/><circle cx="228.26" cy="885.17" r="0.75"/><circle cx="212.20" cy="880.21" r="0.75"/><circle cx="218.76" cy="897.96" r="0.75"/><circle cx="206.62" cy="893.81" r="0.75"/><circle cx="214.15" cy="873.73" r="0.75"/><circle cx="185.07" cy="876.32" r="0.75"/><circle cx="241.75" cy="871.38" r="0.75"/><circle cx="210.86" cy="898.91" r="0.75"/><circle cx="238.95" cy="881.44" r="0.75"/><circle cx="225.31" cy="899.32" r="0.75"/><circle cx="216.97" cy="903.01" r="0.75"/><circle cx="244.53" cy="877.01" r="0.75"/><circle cx="214.91" cy="877.07" r="0.75"/><circle cx="223.09" cy="912.67" r="0.75"/><circle cx="229.20" cy="897.98" r="0.75"/><circle cx="225.67" cy="894.66" r="0.75"/><circle cx="206.82" cy="893.14" r="0.75"/><circle cx="236.03" cy="902.97" r="0.75"/><circle cx="207.12" cy="906.89" r="0.75"/><circle cx="212.24" cy="879.05" r="0.75"/><circle cx="231.46" cy="882.80" r="0.75"/><circle cx="228.14" cy="871.53" r="0.75"/><circle cx="242.49" cy="870.70" r="0.75"/><circle cx="208.65" cy="896.60" r="0.75"/><circle cx="232.23" cy="880.72" r="0.75"/><circle cx="213.79" cy="891.74" r="0.75"/><circle cx="234.19" cy="890.84" r="0.75"/><circle cx="210.45" cy="885.47" r="0.75"/><circle cx="213.11" cy="882.62" r="0.75"/><circle cx="224.32" cy="892.76" r="0.75"/><circle cx="208.48" cy="877.59" r="0.75"/><circle cx="208.66" cy="887.93" r="0.75"/><circle cx="215.98" cy="888.83" r="0.75"/><circle cx="215.72" cy="877.74" r="0.75"/><circle cx="222.58" cy="901.37" r="0.75"/><circle cx="203.35" cy="880.74" r="0.75"/><circle cx="218.05" cy="874.91" r="0.75"/><circle cx="227.65" cy="874.26" r="0.75"/><circle cx="201.12" cy="893.31" r="0.75"/><circle cx="238.71" cy="903.74" r="0.75"/><circle cx="231.25" cy="889.84" r="0.75"/><circle cx="235.65" cy="892.80" r="0.75"/><circle cx="210.65" cy="879.82" r="0.75"/><circle cx="251.80" cy="902.81" r="0.75"/><circle cx="225.06" cy="898.40" r="0.75"/><circle cx="227.99" cy="883.97" r="0.75"/><circle cx="210.73" cy="905.04" r="0.75"/><circle cx="222.12" cy="888.85" r="0.75"/><circle cx="233.79" cy="889.56" r="0.75"/><circle cx="236.23" cy="885.91" r="0.75"/><circle cx="242.15" cy="877.07" r="0.75"/><circle cx="201.97" cy="892.15" r="0.75"/><circle cx="227.54" cy="891.86" r="0.75"/><circle cx="226.39" cy="869.51" r="0.75"/><circle cx="209.20" cy="896.95" r="0.75"/><circle cx="208.92" cy="876.68" r="0.75"/><circle cx="253.26" cy="898.78" r="0.75"/><circle cx="254.88" cy="905.04" r="0.75"/><circle cx="223.30" cy="887.22" r="0.75"/><circle cx="226.08" cy="896.85" r="0.75"/><circle cx="205.35" cy="891.01" r="0.75"/><circle cx="236.03" cy="891.28" r="0.75"/><circle cx="227.32" cy="883.42" r="0.75"/><circle cx="242.32" cy="901.27" r="0.75"/><circle cx="244.15" cy="866.48" r="0.75"/><circle cx="205.30" cy="875.87" r="0.75"/><circle cx="195.47" cy="898.22" r="0.75"/><circle cx="217.57" cy="889.05" r="0.75"/><circle cx="195.32" cy="897.19" r="0.75"/><circle cx="198.71" cy="877.80" r="0.75"/><circle cx="208.48" cy="885.67" r="0.75"/><circle cx="214.60" cy="882.83" r="0.75"/><circle cx="185.39" cy="889.36" r="0.75"/><circle cx="200.77" cy="899.84" r="0.75"/><circle cx="226.83" cy="879.27" r="0.75"/><circle cx="208.89" cy="894.70" r="0.75"/><circle cx="249.31" cy="887.97" r="0.75"/><circle cx="235.24" cy="877.01" r="0.75"/><circle cx="232.57" cy="890.39" r="0.75"/><circle cx="219.46" cy="879.00" r="0.75"/><circle cx="183.03" cy="897.64" r="0.75"/><circle cx="227.50" cy="882.44" r="0.75"/><circle cx="230.03" cy="894.86" r="0.75"/><circle cx="209.81" cy="905.19" r="0.75"/><circle cx="224.34" cy="889.23" r="0.75"/><circle cx="222.81" cy="914.94" r="0.75"/><circle cx="215.64" cy="901.37" r="0.75"/><circle cx="234.89" cy="880.90" r="0.75"/><circle cx="230.63" cy="882.76" r="0.75"/><circle cx="237.54" cy="886.21" r="0.75"/><circle cx="209.74" cy="887.32" r="0.75"/><circle cx="221.95" cy="885.05" r="0.75"/><circle cx="228.24" cy="888.20" r="0.75"/><circle cx="224.65" cy="889.57" r="0.75"/><circle cx="217.76" cy="901.65" r="0.75"/><circle cx="210.79" cy="894.37" r="0.75"/><circle cx="246.39" cy="891.74" r="0.75"/><circle cx="208.66" cy="882.35" r="0.75"/><circle cx="228.16" cy="892.54" r="0.75"/><circle cx="234.76" cy="900.60" r="0.75"/><circle cx="205.16" cy="895.04" r="0.75"/><circle cx="215.85" cy="891.95" r="0.75"/><circle cx="221.09" cy="878.50" r="0.75"/><circle cx="222.08" cy="884.45" r="0.75"/><circle cx="217.60" cy="900.94" r="0.75"/><circle cx="220.24" cy="900.69" r="0.75"/><circle cx="230.85" cy="892.32" r="0.75"/><circle cx="206.30" cy="890.18" r="0.75"/><circle cx="222.92" cy="895.13" r="0.75"/><circle cx="206.18" cy="892.83" r="0.75"/><circle cx="213.75" cy="895.14" r="0.75"/><circle cx="181.65" cy="898.09" r="0.75"/><circle cx="251.02" cy="870.75" r="0.75"/><circle cx="236.03" cy="891.84" r="0.75"/><circle cx="235.42" cy="882.67" r="0.75"/><circle cx="221.64" cy="889.36" r="0.75"/><circle cx="221.45" cy="909.24" r="0.75"/><circle cx="235.32" cy="878.86" r="0.75"/><circle cx="224.86" cy="885.01" r="0.75"/><circle cx="209.28" cy="890.53" r="0.75"/><circle cx="211.71" cy="901.07" r="0.75"/><circle cx="225.10" cy="863.62" r="0.75"/><circle cx="246.33" cy="888.45" r="0.75"/><circle cx="214.99" cy="865.11" r="0.75"/><circle cx="208.83" cy="897.19" r="0.75"/><circle cx="226.89" cy="867.10" r="0.75"/><circle cx="243.47" cy="912.04" r="0.75"/><circle cx="193.94" cy="903.20" r="0.75"/><circle cx="237.48" cy="899.70" r="0.75"/><circle cx="210.88" cy="875.97" r="0.75"/><circle cx="206.76" cy="871.67" r="0.75"/><circle cx="194.30" cy="896.78" r="0.75"/><circle cx="239.38" cy="901.34" r="0.75"/><circle cx="224.71" cy="879.30" r="0.75"/><circle cx="231.95" cy="883.93" r="0.75"/><circle cx="227.54" cy="881.13" r="0.75"/><circle cx="222.96" cy="894.82" r="0.75"/><circle cx="248.64" cy="902.07" r="0.75"/><circle cx="222.40" cy="897.64" r="0.75"/><circle cx="217.10" cy="876.94" r="0.75"/><circle cx="197.45" cy="907.05" r="0.75"/><circle cx="226.94" cy="888.62" r="0.75"/><circle cx="222.33" cy="891.44" r="0.75"/><circle cx="228.11" cy="893.81" r="0.75"/><circle cx="236.73" cy="891.16" r="0.75"/><circle cx="200.35" cy="902.50" r="0.75"/><circle cx="227.49" cy="899.90" r="0.75"/><circle cx="196.97" cy="884.23" r="0.75"/><circle cx="220.54" cy="879.45" r="0.75"/><circle cx="241.07" cy="906.47" r="0.75"/><circle cx="227.07" cy="898.57" r="0.75"/><circle cx="217.38" cy="884.74" r="0.75"/><circle cx="223.22" cy="892.39" r="0.75"/><circle cx="222.28" cy="886.92" r="0.75"/><circle cx="178.79" cy="879.20" r="0.75"/><circle cx="230.71" cy="885.48" r="0.75"/><circle cx="218.51" cy="871.48" r="0.75"/><circle cx="215.62" cy="883.66" r="0.75"/><circle cx="210.20" cy="912.29" r="0.75"/><circle cx="223.60" cy="885.67" r="0.75"/><circle cx="193.55" cy="874.48" r="0.75"/><circle cx="228.16" cy="886.95" r="0.75"/><circle cx="206.48" cy="904.66" r="0.75"/><circle cx="216.94" cy="888.20" r="0.75"/><circle cx="214.89" cy="890.89" r="0.75"/><circle cx="225.32" cy="887.48" r="0.75"/><circle cx="227.07" cy="891.30" r="0.75"/><circle cx="195.22" cy="885.92" r="0.75"/><circle cx="225.28" cy="878.35" r="0.75"/><circle cx="225.94" cy="903.51" r="0.75"/><circle cx="227.01" cy="875.84" r="0.75"/><circle cx="247.02" cy="889.94" r="0.75"/><circle cx="224.01" cy="889.83" r="0.75"/><circle cx="219.45" cy="835.04" r="0.75"/><circle cx="232.75" cy="852.56" r="0.75"/><circle cx="191.30" cy="858.58" r="0.75"/><circle cx="179.57" cy="878.29" r="0.75"/><circle cx="259.34" cy="893.62" r="0.75"/><circle cx="221.80" cy="915.52" r="0.75"/></g>
<line x1="179.90" y1="889.30" x2="258.30" y2="883.10" stroke="#f07a7a" stroke-width="0.8"/>
<rect x="176.30" y="829.50" width="86.10" height="88.30" fill="none" stroke="#8c8c8c" stroke-width="0.6"/>
<line x1="174.30" y1="898.00" x2="176.30" y2="898.00" stroke="#5a5a5a" stroke-width="0.5"/>
<text x="174.30" y="900.21" font-size="7.35" text-anchor="end" fill="#1e1e1e" stroke="#1e1e1e" stroke-width="0.22">0.20</text>
<line x1="174.30" y1="876.10" x2="176.30" y2="876.10" stroke="#5a5a5a" stroke-width="0.5"/>
<text x="174.30" y="878.31" font-size="7.35" text-anchor="end" fill="#1e1e1e" stroke="#1e1e1e" stroke-width="0.22">0.24</text>
<line x1="174.30" y1="854.20" x2="176.30" y2="854.20" stroke="#5a5a5a" stroke-width="0.5"/>
<text x="174.30" y="856.41" font-size="7.35" text-anchor="end" fill="#1e1e1e" stroke="#1e1e1e" stroke-width="0.22">0.28</text>
<line x1="174.30" y1="832.30" x2="176.30" y2="832.30" stroke="#5a5a5a" stroke-width="0.5"/>
<text x="174.30" y="834.50" font-size="7.35" text-anchor="end" fill="#1e1e1e" stroke="#1e1e1e" stroke-width="0.22">0.32</text>
<line x1="182.70" y1="917.80" x2="182.70" y2="919.80" stroke="#5a5a5a" stroke-width="0.5"/>
<text x="182.70" y="926.21" font-size="7.35" text-anchor="middle" fill="#1e1e1e" stroke="#1e1e1e" stroke-width="0.22">0.05</text>
<line x1="202.25" y1="917.80" x2="202.25" y2="919.80" stroke="#5a5a5a" stroke-width="0.5"/>
<text x="202.25" y="926.21" font-size="7.35" text-anchor="middle" fill="#1e1e1e" stroke="#1e1e1e" stroke-width="0.22">0.075</text>
<line x1="221.80" y1="917.80" x2="221.80" y2="919.80" stroke="#5a5a5a" stroke-width="0.5"/>
<text x="221.80" y="926.21" font-size="7.35" text-anchor="middle" fill="#1e1e1e" stroke="#1e1e1e" stroke-width="0.22">0.1</text>
<line x1="241.35" y1="917.80" x2="241.35" y2="919.80" stroke="#5a5a5a" stroke-width="0.5"/>
<text x="241.35" y="926.21" font-size="7.35" text-anchor="middle" fill="#1e1e1e" stroke="#1e1e1e" stroke-width="0.22">0.125</text>
<line x1="260.90" y1="917.80" x2="260.90" y2="919.80" stroke="#5a5a5a" stroke-width="0.5"/>
<text x="260.90" y="926.21" font-size="7.35" text-anchor="middle" fill="#1e1e1e" stroke="#1e1e1e" stroke-width="0.22">0.15</text>
<text x="190.50" y="824.31" font-size="7.35" fill="#1e1e1e" stroke="#1e1e1e" stroke-width="0.22">R = 0.13, <tspan font-style="italic">P</tspan> = 0.031</text>
<text x="187.40" y="936.31" font-size="7.35" text-anchor="start" fill="#1e1e1e" stroke="#1e1e1e" stroke-width="0.22">Cytokine production</text>
<text x="147.60" y="875.60" font-size="7.35" text-anchor="middle" fill="#1e1e1e" stroke="#1e1e1e" stroke-width="0.22" transform="rotate(-90 147.60 875.60)">Plasma lipoprotein assembly</text>
<text x="156.30" y="875.60" font-size="7.35" text-anchor="middle" fill="#1e1e1e" stroke="#1e1e1e" stroke-width="0.22" transform="rotate(-90 156.30 875.60)">remodeling and clearance</text>
<text x="0" y="0" font-size="14.8" fill="#111" stroke="#111" stroke-width="0.22" transform="translate(260.00 685.70) scale(1 1.06)">L</text>
<rect x="305.00" y="702.50" width="152.00" height="6.60" fill="url(#gL)"/>
<text x="460.10" y="707.81" font-size="7.35" text-anchor="start" fill="#1e1e1e" stroke="#1e1e1e" stroke-width="0.22">APOC2</text>
<text x="460.10" y="721.18" font-size="7.35" text-anchor="start" fill="#1e1e1e" stroke="#1e1e1e" stroke-width="0.22">APOB</text>
<rect x="502.50" y="713.90" width="11.50" height="8.40" fill="#f33b3b"/>
<rect x="515.60" y="713.90" width="11.60" height="8.40" fill="#f9a3a3"/>
<text x="508.25" y="721.47" font-size="5.0" text-anchor="middle" fill="#ffffff" stroke="#ffffff" stroke-width="0.05">**</text>
<text x="521.40" y="721.47" font-size="5.0" text-anchor="middle" fill="#ffffff" stroke="#ffffff" stroke-width="0.05">**</text>
<text x="460.10" y="729.53" font-size="7.35" text-anchor="start" fill="#1e1e1e" stroke="#1e1e1e" stroke-width="0.22">APOC1</text>
<rect x="502.50" y="722.25" width="11.50" height="8.40" fill="#f33535"/>
<rect x="515.60" y="722.25" width="11.60" height="8.40" fill="#fde0e0"/>
<text x="508.25" y="729.82" font-size="5.0" text-anchor="middle" fill="#ffffff" stroke="#ffffff" stroke-width="0.05">**</text>
<text x="460.10" y="737.88" font-size="7.35" text-anchor="start" fill="#1e1e1e" stroke="#1e1e1e" stroke-width="0.22">APOC3</text>
<rect x="502.50" y="730.60" width="11.50" height="8.40" fill="#f11616"/>
<rect x="515.60" y="730.60" width="11.60" height="8.40" fill="#fddada"/>
<text x="508.25" y="738.17" font-size="5.0" text-anchor="middle" fill="#ffffff" stroke="#ffffff" stroke-width="0.05">**</text>
<text x="460.10" y="746.23" font-size="7.35" text-anchor="start" fill="#1e1e1e" stroke="#1e1e1e" stroke-width="0.22">APOE</text>
<rect x="502.50" y="738.95" width="11.50" height="8.40" fill="#f33535"/>
<rect x="515.60" y="738.95" width="11.60" height="8.40" fill="#fddada"/>
<text x="508.25" y="746.52" font-size="5.0" text-anchor="middle" fill="#ffffff" stroke="#ffffff" stroke-width="0.05">**</text>
<line x1="302.80" y1="713.90" x2="302.80" y2="747.30" stroke="#444" stroke-width="0.8"/>
<text x="460.10" y="757.63" font-size="7.35" text-anchor="start" fill="#1e1e1e" stroke="#1e1e1e" stroke-width="0.22">CEACAM1</text>
<rect x="502.50" y="750.30" width="11.50" height="8.49" fill="#f99d9d"/>
<rect x="515.60" y="750.30" width="11.60" height="8.49" fill="#fccece"/>
<text x="508.25" y="757.92" font-size="5.0" text-anchor="middle" fill="#ffffff" stroke="#ffffff" stroke-width="0.05">**</text>
<text x="521.40" y="757.92" font-size="5.0" text-anchor="middle" fill="#ffffff" stroke="#ffffff" stroke-width="0.05">*</text>
<text x="460.10" y="766.07" font-size="7.35" text-anchor="start" fill="#1e1e1e" stroke="#1e1e1e" stroke-width="0.22">CEACAM8</text>
<rect x="502.50" y="758.74" width="11.50" height="8.49" fill="#f99d9d"/>
<rect x="515.60" y="758.74" width="11.60" height="8.49" fill="#feeaea"/>
<text x="508.25" y="766.36" font-size="5.0" text-anchor="middle" fill="#ffffff" stroke="#ffffff" stroke-width="0.05">**</text>
<text x="460.10" y="774.51" font-size="7.35" text-anchor="start" fill="#1e1e1e" stroke="#1e1e1e" stroke-width="0.22">ITGA6</text>
<rect x="502.50" y="767.19" width="11.50" height="8.49" fill="#f9a3a3"/>
<rect x="515.60" y="767.19" width="11.60" height="8.49" fill="#f9fcff"/>
<text x="508.25" y="774.81" font-size="5.0" text-anchor="middle" fill="#ffffff" stroke="#ffffff" stroke-width="0.05">**</text>
<text x="460.10" y="782.95" font-size="7.35" text-anchor="start" fill="#1e1e1e" stroke="#1e1e1e" stroke-width="0.22">ITGAV</text>
<rect x="502.50" y="775.63" width="11.50" height="8.49" fill="#f9a3a3"/>
<rect x="515.60" y="775.63" width="11.60" height="8.49" fill="#fde0e0"/>
<text x="508.25" y="783.25" font-size="5.0" text-anchor="middle" fill="#ffffff" stroke="#ffffff" stroke-width="0.05">**</text>
<text x="460.10" y="791.40" font-size="7.35" text-anchor="start" fill="#1e1e1e" stroke="#1e1e1e" stroke-width="0.22">MIA3</text>
<rect x="502.50" y="784.07" width="11.50" height="8.49" fill="#f99d9d"/>
<rect x="515.60" y="784.07" width="11.60" height="8.49" fill="#fbc2c2"/>
<text x="508.25" y="791.69" font-size="5.0" text-anchor="middle" fill="#ffffff" stroke="#ffffff" stroke-width="0.05">**</text>
<text x="521.40" y="791.69" font-size="5.0" text-anchor="middle" fill="#ffffff" stroke="#ffffff" stroke-width="0.05">*</text>
<text x="460.10" y="799.84" font-size="7.35" text-anchor="start" fill="#1e1e1e" stroke="#1e1e1e" stroke-width="0.22">MMP2</text>
<rect x="502.50" y="792.51" width="11.50" height="8.49" fill="#f99d9d"/>
<rect x="515.60" y="792.51" width="11.60" height="8.49" fill="#fee6e6"/>
<text x="508.25" y="800.14" font-size="5.0" text-anchor="middle" fill="#ffffff" stroke="#ffffff" stroke-width="0.05">**</text>
<text x="460.10" y="808.28" font-size="7.35" text-anchor="start" fill="#1e1e1e" stroke="#1e1e1e" stroke-width="0.22">VCAM1</text>
<rect x="502.50" y="800.96" width="11.50" height="8.49" fill="#f88484"/>
<rect x="515.60" y="800.96" width="11.60" height="8.49" fill="#fcc8c8"/>
<text x="508.25" y="808.58" font-size="5.0" text-anchor="middle" fill="#ffffff" stroke="#ffffff" stroke-width="0.05">**</text>
<text x="521.40" y="808.58" font-size="5.0" text-anchor="middle" fill="#ffffff" stroke="#ffffff" stroke-width="0.05">*</text>
<line x1="302.80" y1="750.30" x2="302.80" y2="809.40" stroke="#444" stroke-width="0.8"/>
<text x="460.10" y="819.64" font-size="7.35" text-anchor="start" fill="#1e1e1e" stroke="#1e1e1e" stroke-width="0.22">CD163</text>
<rect x="502.50" y="812.30" width="11.50" height="8.52" fill="#f55a5a"/>
<rect x="515.60" y="812.30" width="11.60" height="8.52" fill="#fddddd"/>
<text x="508.25" y="819.93" font-size="5.0" text-anchor="middle" fill="#ffffff" stroke="#ffffff" stroke-width="0.05">**</text>
<text x="460.10" y="828.11" font-size="7.35" text-anchor="start" fill="#1e1e1e" stroke="#1e1e1e" stroke-width="0.22">FCGR2A</text>
<rect x="502.50" y="820.77" width="11.50" height="8.52" fill="#fcc8c8"/>
<rect x="515.60" y="820.77" width="11.60" height="8.52" fill="#ffffff"/>
<text x="508.25" y="828.40" font-size="5.0" text-anchor="middle" fill="#ffffff" stroke="#ffffff" stroke-width="0.05">*</text>
<text x="460.10" y="836.57" font-size="7.35" text-anchor="start" fill="#1e1e1e" stroke="#1e1e1e" stroke-width="0.22">ALCAM</text>
<rect x="502.50" y="829.23" width="11.50" height="8.52" fill="#fbc2c2"/>
<rect x="515.60" y="829.23" width="11.60" height="8.52" fill="#fef0f0"/>
<text x="508.25" y="836.87" font-size="5.0" text-anchor="middle" fill="#ffffff" stroke="#ffffff" stroke-width="0.05">*</text>
<line x1="302.80" y1="812.30" x2="302.80" y2="837.70" stroke="#444" stroke-width="0.8"/>
<text x="460.10" y="848.07" font-size="7.35" text-anchor="start" fill="#1e1e1e" stroke="#1e1e1e" stroke-width="0.22">CST3</text>
<rect x="502.50" y="840.70" width="11.50" height="8.58" fill="#f88484"/>
<rect x="515.60" y="840.70" width="11.60" height="8.58" fill="#fde0e0"/>
<text x="508.25" y="848.36" font-size="5.0" text-anchor="middle" fill="#ffffff" stroke="#ffffff" stroke-width="0.05">**</text>
<text x="460.10" y="856.60" font-size="7.35" text-anchor="start" fill="#1e1e1e" stroke="#1e1e1e" stroke-width="0.22">CTSL</text>
<rect x="502.50" y="849.23" width="11.50" height="8.58" fill="#f88484"/>
<rect x="515.60" y="849.23" width="11.60" height="8.58" fill="#fddada"/>
<text x="508.25" y="856.89" font-size="5.0" text-anchor="middle" fill="#ffffff" stroke="#ffffff" stroke-width="0.05">**</text>
<text x="460.10" y="865.12" font-size="7.35" text-anchor="start" fill="#1e1e1e" stroke="#1e1e1e" stroke-width="0.22">LRG1</text>
<rect x="502.50" y="857.75" width="11.50" height="8.58" fill="#faa9a9"/>
<rect x="515.60" y="857.75" width="11.60" height="8.58" fill="#fcd4d4"/>
<text x="508.25" y="865.42" font-size="5.0" text-anchor="middle" fill="#ffffff" stroke="#ffffff" stroke-width="0.05">*</text>
<text x="460.10" y="873.65" font-size="7.35" text-anchor="start" fill="#1e1e1e" stroke="#1e1e1e" stroke-width="0.22">PPBP</text>
<rect x="502.50" y="866.28" width="11.50" height="8.58" fill="#f99d9d"/>
<rect x="515.60" y="866.28" width="11.60" height="8.58" fill="#f9a3a3"/>
<text x="508.25" y="873.95" font-size="5.0" text-anchor="middle" fill="#ffffff" stroke="#ffffff" stroke-width="0.05">**</text>
<text x="521.40" y="873.95" font-size="5.0" text-anchor="middle" fill="#ffffff" stroke="#ffffff" stroke-width="0.05">**</text>
<text x="460.10" y="882.18" font-size="7.35" text-anchor="start" fill="#1e1e1e" stroke="#1e1e1e" stroke-width="0.22">AGT</text>
<rect x="502.50" y="874.81" width="11.50" height="8.58" fill="#f99d9d"/>
<rect x="515.60" y="874.81" width="11.60" height="8.58" fill="#f88484"/>
<text x="508.25" y="882.47" font-size="5.0" text-anchor="middle" fill="#ffffff" stroke="#ffffff" stroke-width="0.05">**</text>
<text x="521.40" y="882.47" font-size="5.0" text-anchor="middle" fill="#ffffff" stroke="#ffffff" stroke-width="0.05">**</text>
<text x="460.10" y="890.71" font-size="7.35" text-anchor="start" fill="#1e1e1e" stroke="#1e1e1e" stroke-width="0.22">APP</text>
<rect x="502.50" y="883.34" width="11.50" height="8.58" fill="#fab6b6"/>
<rect x="515.60" y="883.34" width="11.60" height="8.58" fill="#f9a3a3"/>
<text x="508.25" y="891.00" font-size="5.0" text-anchor="middle" fill="#ffffff" stroke="#ffffff" stroke-width="0.05">*</text>
<text x="521.40" y="891.00" font-size="5.0" text-anchor="middle" fill="#ffffff" stroke="#ffffff" stroke-width="0.05">**</text>
<text x="460.10" y="899.23" font-size="7.35" text-anchor="start" fill="#1e1e1e" stroke="#1e1e1e" stroke-width="0.22">CLU</text>
<rect x="502.50" y="891.86" width="11.50" height="8.58" fill="#f33b3b"/>
<rect x="515.60" y="891.86" width="11.60" height="8.58" fill="#fccece"/>
<text x="508.25" y="899.53" font-size="5.0" text-anchor="middle" fill="#ffffff" stroke="#ffffff" stroke-width="0.05">**</text>
<text x="460.10" y="907.76" font-size="7.35" text-anchor="start" fill="#1e1e1e" stroke="#1e1e1e" stroke-width="0.22">CRP</text>
<rect x="502.50" y="900.39" width="11.50" height="8.58" fill="#f9a3a3"/>
<rect x="515.60" y="900.39" width="11.60" height="8.58" fill="#fef3f3"/>
<text x="508.25" y="908.05" font-size="5.0" text-anchor="middle" fill="#ffffff" stroke="#ffffff" stroke-width="0.05">**</text>
<text x="460.10" y="916.29" font-size="7.35" text-anchor="start" fill="#1e1e1e" stroke="#1e1e1e" stroke-width="0.22">HMGB1</text>
<rect x="502.50" y="908.92" width="11.50" height="8.58" fill="#fbbcbc"/>
<rect x="515.60" y="908.92" width="11.60" height="8.58" fill="#e3f1ff"/>
<text x="508.25" y="916.58" font-size="5.0" text-anchor="middle" fill="#ffffff" stroke="#ffffff" stroke-width="0.05">*</text>
<text x="460.10" y="924.81" font-size="7.35" text-anchor="start" fill="#1e1e1e" stroke="#1e1e1e" stroke-width="0.22">MIF</text>
<rect x="502.50" y="917.45" width="11.50" height="8.58" fill="#f99d9d"/>
<rect x="515.60" y="917.45" width="11.60" height="8.58" fill="#fccece"/>
<text x="508.25" y="925.11" font-size="5.0" text-anchor="middle" fill="#ffffff" stroke="#ffffff" stroke-width="0.05">**</text>
<text x="521.40" y="925.11" font-size="5.0" text-anchor="middle" fill="#ffffff" stroke="#ffffff" stroke-width="0.05">*</text>
<text x="460.10" y="933.34" font-size="7.35" text-anchor="start" fill="#1e1e1e" stroke="#1e1e1e" stroke-width="0.22">HMGB3</text>
<rect x="502.50" y="925.97" width="11.50" height="8.58" fill="#f88b8b"/>
<rect x="515.60" y="925.97" width="11.60" height="8.58" fill="#fdd7d7"/>
<text x="508.25" y="933.64" font-size="5.0" text-anchor="middle" fill="#ffffff" stroke="#ffffff" stroke-width="0.05">**</text>
<line x1="302.80" y1="840.70" x2="302.80" y2="934.50" stroke="#444" stroke-width="0.8"/>
<g fill="none" filter="url(#hb)" stroke-width="1.020"><path stroke="#1e90ff" d="M452.50 722.25v8.40M451.50 730.60v8.40M387.50 738.95v8.40M429.50 738.95v8.40M452.50 738.95v8.40M404.50 775.63v8.49M407.50 775.63v8.49M425.50 784.07v8.49M448.50 784.07v8.49M427.50 792.51v8.49M448.50 800.96v8.49M420.50 840.70v8.58M433.50 849.23v8.58M351.50 857.75v8.58M358.50 857.75v8.58M365.50 857.75v8.58M423.50 857.75v8.58M441.50 874.81v8.58M404.50 891.86v8.58M423.50 891.86v8.58M446.50 891.86v8.58M401.50 925.97v8.58"/><path stroke="#2996ff" d="M454.50 730.60v8.40M317.50 750.30v8.49M359.50 750.30v8.49M454.50 775.63v8.49M429.50 792.51v8.49M431.50 812.30v8.52M417.50 829.23v8.52M436.50 891.86v8.58M388.50 925.97v8.58M408.50 925.97v8.58"/><path stroke="#349bff" d="M425.50 730.60v8.40M425.50 738.95v8.40M438.50 738.95v8.40M332.50 775.63v8.49M404.50 784.07v8.49M451.50 812.30v8.52M372.50 829.23v8.52M390.50 829.23v8.52M347.50 840.70v8.58M441.50 866.28v8.58M423.50 900.39v8.58M403.50 925.97v8.58"/><path stroke="#40a1ff" d="M387.50 713.90v8.40M447.50 722.25v8.40M437.50 730.60v8.40M403.50 738.95v8.40M456.50 738.95v8.40M407.50 750.30v8.49M364.50 829.23v8.52M408.50 840.70v8.58M449.50 840.70v8.58M411.50 849.23v8.58M449.50 925.97v8.58"/><path stroke="#4ba6ff" d="M446.50 713.90v8.40M419.50 722.25v8.40M390.50 738.95v8.40M345.50 750.30v8.49M355.50 775.63v8.49M448.50 775.63v8.49M398.50 784.07v8.49M436.50 784.07v8.49M330.50 792.51v8.49M359.50 840.70v8.58M384.50 840.70v8.58M406.50 840.70v8.58M423.50 849.23v8.58M449.50 849.23v8.58M391.50 866.28v8.58M423.50 866.28v8.58M362.50 874.81v8.58M387.50 891.86v8.58M420.50 891.86v8.58M441.50 925.97v8.58"/><path stroke="#56acff" d="M381.50 713.90v8.40M401.50 722.25v8.40M414.50 730.60v8.40M421.50 738.95v8.40M450.50 750.30v8.49M340.50 758.74v8.49M453.50 767.19v8.49M444.50 784.07v8.49M365.50 792.51v8.49M419.50 792.51v8.49M399.50 800.96v8.49M321.50 829.23v8.52M431.50 849.23v8.58M447.50 866.28v8.58M403.50 874.81v8.58M403.50 891.86v8.58M440.50 900.39v8.58M403.50 917.45v8.58M441.50 917.45v8.58"/><path stroke="#62b1ff" d="M419.50 713.90v8.40M435.50 713.90v8.40M436.50 713.90v8.40M441.50 713.90v8.40M453.50 713.90v8.40M398.50 722.25v8.40M456.50 730.60v8.40M366.50 738.95v8.40M424.50 738.95v8.40M345.50 758.74v8.49M399.50 767.19v8.49M419.50 767.19v8.49M353.50 775.63v8.49M377.50 775.63v8.49M399.50 784.07v8.49M435.50 784.07v8.49M435.50 792.51v8.49M404.50 800.96v8.49M380.50 812.30v8.52M422.50 812.30v8.52M443.50 812.30v8.52M422.50 820.77v8.52M387.50 829.23v8.52M349.50 840.70v8.58M447.50 840.70v8.58M447.50 849.23v8.58M423.50 874.81v8.58M440.50 874.81v8.58M414.50 883.34v8.58M423.50 883.34v8.58M441.50 883.34v8.58M447.50 891.86v8.58M391.50 908.92v8.58M313.50 925.97v8.58M331.50 925.97v8.58M393.50 925.97v8.58M396.50 925.97v8.58"/><path stroke="#6db7ff" d="M372.50 713.90v8.40M416.50 713.90v8.40M429.50 713.90v8.40M379.50 722.25v8.40M440.50 722.25v8.40M449.50 722.25v8.40M376.50 730.60v8.40M381.50 730.60v8.40M415.50 730.60v8.40M442.50 730.60v8.40M449.50 730.60v8.40M360.50 738.95v8.40M361.50 738.95v8.40M392.50 750.30v8.49M320.50 758.74v8.49M352.50 767.19v8.49M404.50 767.19v8.49M398.50 775.63v8.49M399.50 775.63v8.49M402.50 775.63v8.49M311.50 784.07v8.49M417.50 784.07v8.49M383.50 792.51v8.49M384.50 792.51v8.49M407.50 792.51v8.49M428.50 792.51v8.49M433.50 792.51v8.49M420.50 800.96v8.49M427.50 800.96v8.49M440.50 800.96v8.49M334.50 812.30v8.52M361.50 812.30v8.52M394.50 812.30v8.52M440.50 812.30v8.52M340.50 820.77v8.52M347.50 820.77v8.52M357.50 820.77v8.52M402.50 820.77v8.52M340.50 829.23v8.52M437.50 829.23v8.52M443.50 829.23v8.52M444.50 840.70v8.58M384.50 857.75v8.58M396.50 857.75v8.58M430.50 857.75v8.58M403.50 866.28v8.58M420.50 866.28v8.58M435.50 874.81v8.58M365.50 883.34v8.58M380.50 883.34v8.58M403.50 883.34v8.58M359.50 891.86v8.58M362.50 891.86v8.58M414.50 891.86v8.58M452.50 891.86v8.58M306.50 900.39v8.58M391.50 900.39v8.58M444.50 900.39v8.58M443.50 908.92v8.58M433.50 917.45v8.58M447.50 925.97v8.58"/><path stroke="#78bcff" d="M364.50 713.90v8.40M366.50 713.90v8.40M439.50 713.90v8.40M442.50 713.90v8.40M447.50 713.90v8.40M387.50 722.25v8.40M438.50 722.25v8.40M364.50 730.60v8.40M438.50 730.60v8.40M450.50 730.60v8.40M436.50 738.95v8.40M449.50 738.95v8.40M453.50 738.95v8.40M346.50 750.30v8.49M395.50 750.30v8.49M398.50 750.30v8.49M427.50 750.30v8.49M449.50 750.30v8.49M322.50 758.74v8.49M435.50 758.74v8.49M383.50 767.19v8.49M446.50 767.19v8.49M387.50 775.63v8.49M343.50 784.07v8.49M350.50 784.07v8.49M401.50 784.07v8.49M414.50 784.07v8.49M421.50 784.07v8.49M418.50 792.51v8.49M421.50 792.51v8.49M317.50 800.96v8.49M345.50 800.96v8.49M386.50 800.96v8.49M395.50 800.96v8.49M439.50 800.96v8.49M346.50 812.30v8.52M370.50 812.30v8.52M402.50 812.30v8.52M425.50 812.30v8.52M334.50 820.77v8.52M385.50 820.77v8.52M391.50 820.77v8.52M367.50 829.23v8.52M425.50 829.23v8.52M339.50 840.70v8.58M396.50 840.70v8.58M412.50 840.70v8.58M428.50 840.70v8.58M391.50 849.23v8.58M428.50 849.23v8.58M306.50 857.75v8.58M369.50 857.75v8.58M434.50 857.75v8.58M333.50 866.28v8.58M434.50 866.28v8.58M347.50 874.81v8.58M365.50 874.81v8.58M395.50 874.81v8.58M356.50 883.34v8.58M435.50 883.34v8.58M365.50 891.86v8.58M373.50 891.86v8.58M440.50 891.86v8.58M339.50 900.39v8.58M356.50 900.39v8.58M437.50 900.39v8.58M379.50 908.92v8.58M413.50 908.92v8.58M418.50 917.45v8.58M435.50 917.45v8.58M443.50 917.45v8.58M387.50 925.97v8.58M391.50 925.97v8.58M444.50 925.97v8.58"/><path stroke="#83c2ff" d="M440.50 713.90v8.40M456.50 713.90v8.40M411.50 722.25v8.40M442.50 722.25v8.40M448.50 722.25v8.40M450.50 722.25v8.40M396.50 730.60v8.40M448.50 730.60v8.40M453.50 730.60v8.40M353.50 738.95v8.40M382.50 738.95v8.40M399.50 738.95v8.40M411.50 738.95v8.40M442.50 738.95v8.40M444.50 738.95v8.40M358.50 750.30v8.49M365.50 750.30v8.49M394.50 750.30v8.49M369.50 758.74v8.49M406.50 758.74v8.49M407.50 758.74v8.49M446.50 758.74v8.49M395.50 767.19v8.49M397.50 767.19v8.49M423.50 767.19v8.49M448.50 767.19v8.49M322.50 775.63v8.49M391.50 775.63v8.49M427.50 775.63v8.49M441.50 775.63v8.49M359.50 784.07v8.49M390.50 784.07v8.49M308.50 792.51v8.49M401.50 792.51v8.49M420.50 792.51v8.49M446.50 792.51v8.49M450.50 792.51v8.49M307.50 800.96v8.49M319.50 800.96v8.49M390.50 800.96v8.49M392.50 812.30v8.52M432.50 820.77v8.52M341.50 829.23v8.52M346.50 829.23v8.52M361.50 829.23v8.52M403.50 829.23v8.52M386.50 840.70v8.58M391.50 840.70v8.58M414.50 840.70v8.58M450.50 840.70v8.58M410.50 849.23v8.58M349.50 857.75v8.58M354.50 857.75v8.58M411.50 857.75v8.58M402.50 866.28v8.58M404.50 866.28v8.58M406.50 866.28v8.58M353.50 874.81v8.58M358.50 874.81v8.58M419.50 874.81v8.58M428.50 874.81v8.58M447.50 874.81v8.58M362.50 883.34v8.58M413.50 883.34v8.58M419.50 883.34v8.58M434.50 883.34v8.58M449.50 883.34v8.58M357.50 891.86v8.58M363.50 891.86v8.58M391.50 891.86v8.58M396.50 891.86v8.58M450.50 900.39v8.58M361.50 908.92v8.58M381.50 908.92v8.58M403.50 908.92v8.58M445.50 908.92v8.58M450.50 908.92v8.58M368.50 917.45v8.58M430.50 917.45v8.58M335.50 925.97v8.58M409.50 925.97v8.58M419.50 925.97v8.58M439.50 925.97v8.58"/><path stroke="#8ec8ff" d="M354.50 713.90v8.40M377.50 713.90v8.40M392.50 713.90v8.40M403.50 713.90v8.40M425.50 713.90v8.40M437.50 713.90v8.40M449.50 713.90v8.40M427.50 722.25v8.40M431.50 722.25v8.40M432.50 722.25v8.40M352.50 730.60v8.40M357.50 730.60v8.40M402.50 730.60v8.40M421.50 730.60v8.40M426.50 730.60v8.40M432.50 730.60v8.40M441.50 730.60v8.40M452.50 730.60v8.40M381.50 738.95v8.40M395.50 738.95v8.40M414.50 738.95v8.40M416.50 738.95v8.40M423.50 738.95v8.40M368.50 750.30v8.49M424.50 750.30v8.49M438.50 750.30v8.49M456.50 750.30v8.49M390.50 758.74v8.49M398.50 758.74v8.49M423.50 758.74v8.49M424.50 758.74v8.49M426.50 767.19v8.49M450.50 767.19v8.49M456.50 767.19v8.49M311.50 775.63v8.49M318.50 775.63v8.49M319.50 775.63v8.49M369.50 775.63v8.49M383.50 775.63v8.49M406.50 775.63v8.49M410.50 775.63v8.49M417.50 775.63v8.49M446.50 775.63v8.49M332.50 784.07v8.49M307.50 792.51v8.49M345.50 792.51v8.49M387.50 792.51v8.49M392.50 792.51v8.49M399.50 792.51v8.49M440.50 792.51v8.49M371.50 800.96v8.49M378.50 800.96v8.49M383.50 800.96v8.49M411.50 800.96v8.49M431.50 800.96v8.49M340.50 812.30v8.52M375.50 812.30v8.52M385.50 812.30v8.52M391.50 812.30v8.52M317.50 820.77v8.52M326.50 820.77v8.52M380.50 820.77v8.52M394.50 820.77v8.52M423.50 820.77v8.52M431.50 820.77v8.52M434.50 820.77v8.52M443.50 820.77v8.52M381.50 829.23v8.52M394.50 829.23v8.52M400.50 829.23v8.52M423.50 829.23v8.52M454.50 829.23v8.52M333.50 840.70v8.58M338.50 840.70v8.58M356.50 840.70v8.58M423.50 840.70v8.58M443.50 840.70v8.58M393.50 849.23v8.58M406.50 849.23v8.58M444.50 849.23v8.58M452.50 849.23v8.58M339.50 857.75v8.58M345.50 857.75v8.58M431.50 857.75v8.58M432.50 857.75v8.58M343.50 866.28v8.58M393.50 866.28v8.58M425.50 866.28v8.58M339.50 874.81v8.58M381.50 874.81v8.58M391.50 874.81v8.58M427.50 874.81v8.58M436.50 874.81v8.58M449.50 874.81v8.58M452.50 874.81v8.58M453.50 874.81v8.58M338.50 883.34v8.58M345.50 883.34v8.58M363.50 883.34v8.58M368.50 883.34v8.58M406.50 883.34v8.58M393.50 891.86v8.58M425.50 891.86v8.58M445.50 891.86v8.58M453.50 891.86v8.58M395.50 900.39v8.58M420.50 900.39v8.58M443.50 900.39v8.58M447.50 900.39v8.58M324.50 908.92v8.58M334.50 908.92v8.58M365.50 908.92v8.58M406.50 908.92v8.58M418.50 908.92v8.58M441.50 908.92v8.58M414.50 917.45v8.58M358.50 925.97v8.58"/><path stroke="#9acdff" d="M320.50 713.90v8.40M353.50 713.90v8.40M400.50 713.90v8.40M431.50 713.90v8.40M450.50 713.90v8.40M451.50 713.90v8.40M364.50 722.25v8.40M366.50 722.25v8.40M374.50 722.25v8.40M380.50 722.25v8.40M456.50 722.25v8.40M373.50 730.60v8.40M377.50 730.60v8.40M419.50 730.60v8.40M436.50 730.60v8.40M328.50 738.95v8.40M343.50 738.95v8.40M400.50 738.95v8.40M410.50 738.95v8.40M417.50 738.95v8.40M426.50 738.95v8.40M430.50 738.95v8.40M431.50 738.95v8.40M433.50 738.95v8.40M326.50 750.30v8.49M356.50 750.30v8.49M399.50 750.30v8.49M423.50 750.30v8.49M311.50 758.74v8.49M342.50 758.74v8.49M399.50 758.74v8.49M409.50 758.74v8.49M419.50 758.74v8.49M339.50 767.19v8.49M340.50 767.19v8.49M342.50 767.19v8.49M351.50 767.19v8.49M398.50 767.19v8.49M401.50 767.19v8.49M406.50 767.19v8.49M413.50 767.19v8.49M454.50 767.19v8.49M359.50 775.63v8.49M390.50 775.63v8.49M418.50 775.63v8.49M423.50 775.63v8.49M307.50 784.07v8.49M319.50 784.07v8.49M322.50 784.07v8.49M328.50 784.07v8.49M345.50 784.07v8.49M349.50 784.07v8.49M451.50 784.07v8.49M398.50 792.51v8.49M423.50 792.51v8.49M454.50 792.51v8.49M407.50 800.96v8.49M434.50 800.96v8.49M437.50 800.96v8.49M450.50 800.96v8.49M451.50 800.96v8.49M454.50 800.96v8.49M372.50 812.30v8.52M429.50 812.30v8.52M433.50 812.30v8.52M372.50 820.77v8.52M392.50 820.77v8.52M396.50 820.77v8.52M411.50 820.77v8.52M415.50 820.77v8.52M417.50 820.77v8.52M437.50 820.77v8.52M342.50 829.23v8.52M378.50 829.23v8.52M395.50 829.23v8.52M399.50 829.23v8.52M449.50 829.23v8.52M398.50 840.70v8.58M413.50 840.70v8.58M433.50 840.70v8.58M453.50 840.70v8.58M370.50 849.23v8.58M422.50 849.23v8.58M321.50 857.75v8.58M334.50 857.75v8.58M395.50 857.75v8.58M404.50 857.75v8.58M409.50 857.75v8.58M418.50 857.75v8.58M444.50 857.75v8.58M447.50 857.75v8.58M318.50 866.28v8.58M356.50 866.28v8.58M363.50 866.28v8.58M378.50 866.28v8.58M379.50 866.28v8.58M401.50 866.28v8.58M413.50 866.28v8.58M431.50 866.28v8.58M442.50 866.28v8.58M325.50 874.81v8.58M356.50 874.81v8.58M368.50 874.81v8.58M439.50 874.81v8.58M339.50 883.34v8.58M391.50 883.34v8.58M443.50 883.34v8.58M450.50 883.34v8.58M338.50 891.86v8.58M339.50 891.86v8.58M390.50 891.86v8.58M433.50 891.86v8.58M439.50 891.86v8.58M324.50 900.39v8.58M344.50 900.39v8.58M348.50 900.39v8.58M389.50 900.39v8.58M414.50 900.39v8.58M418.50 900.39v8.58M441.50 900.39v8.58M452.50 900.39v8.58M325.50 908.92v8.58M333.50 908.92v8.58M348.50 908.92v8.58M411.50 908.92v8.58M415.50 908.92v8.58M423.50 908.92v8.58M435.50 908.92v8.58M446.50 908.92v8.58M396.50 917.45v8.58M407.50 917.45v8.58M423.50 917.45v8.58M376.50 925.97v8.58M436.50 925.97v8.58M452.50 925.97v8.58M453.50 925.97v8.58"/><path stroke="#a5d3ff" d="M373.50 713.90v8.40M389.50 713.90v8.40M396.50 713.90v8.40M402.50 713.90v8.40M404.50 713.90v8.40M411.50 713.90v8.40M377.50 722.25v8.40M402.50 722.25v8.40M414.50 722.25v8.40M415.50 722.25v8.40M416.50 722.25v8.40M435.50 722.25v8.40M439.50 722.25v8.40M451.50 722.25v8.40M390.50 730.60v8.40M401.50 730.60v8.40M403.50 730.60v8.40M411.50 730.60v8.40M440.50 730.60v8.40M372.50 738.95v8.40M380.50 738.95v8.40M394.50 738.95v8.40M406.50 738.95v8.40M437.50 738.95v8.40M439.50 738.95v8.40M318.50 750.30v8.49M342.50 750.30v8.49M383.50 750.30v8.49M387.50 750.30v8.49M439.50 750.30v8.49M308.50 758.74v8.49M359.50 758.74v8.49M404.50 758.74v8.49M411.50 758.74v8.49M432.50 758.74v8.49M317.50 767.19v8.49M377.50 767.19v8.49M421.50 767.19v8.49M451.50 767.19v8.49M307.50 775.63v8.49M358.50 775.63v8.49M389.50 775.63v8.49M451.50 775.63v8.49M378.50 784.07v8.49M387.50 784.07v8.49M413.50 784.07v8.49M450.50 784.07v8.49M328.50 792.51v8.49M342.50 792.51v8.49M402.50 792.51v8.49M438.50 792.51v8.49M448.50 792.51v8.49M433.50 800.96v8.49M352.50 812.30v8.52M384.50 812.30v8.52M386.50 812.30v8.52M435.50 812.30v8.52M452.50 812.30v8.52M320.50 820.77v8.52M330.50 820.77v8.52M336.50 820.77v8.52M370.50 820.77v8.52M419.50 820.77v8.52M425.50 820.77v8.52M427.50 820.77v8.52M429.50 820.77v8.52M430.50 820.77v8.52M433.50 820.77v8.52M435.50 820.77v8.52M344.50 829.23v8.52M355.50 829.23v8.52M380.50 829.23v8.52M427.50 829.23v8.52M326.50 840.70v8.58M362.50 840.70v8.58M365.50 840.70v8.58M368.50 840.70v8.58M375.50 840.70v8.58M393.50 840.70v8.58M401.50 840.70v8.58M402.50 840.70v8.58M409.50 840.70v8.58M434.50 840.70v8.58M446.50 840.70v8.58M346.50 849.23v8.58M368.50 849.23v8.58M404.50 849.23v8.58M397.50 857.75v8.58M401.50 857.75v8.58M419.50 857.75v8.58M433.50 857.75v8.58M324.50 866.28v8.58M331.50 866.28v8.58M335.50 866.28v8.58M344.50 866.28v8.58M358.50 866.28v8.58M427.50 866.28v8.58M437.50 866.28v8.58M440.50 866.28v8.58M344.50 874.81v8.58M393.50 874.81v8.58M397.50 874.81v8.58M433.50 874.81v8.58M434.50 874.81v8.58M437.50 874.81v8.58M333.50 883.34v8.58M344.50 883.34v8.58M359.50 883.34v8.58M377.50 883.34v8.58M396.50 883.34v8.58M404.50 883.34v8.58M420.50 883.34v8.58M448.50 883.34v8.58M356.50 891.86v8.58M368.50 891.86v8.58M379.50 891.86v8.58M397.50 891.86v8.58M428.50 891.86v8.58M431.50 891.86v8.58M443.50 891.86v8.58M444.50 891.86v8.58M361.50 900.39v8.58M362.50 900.39v8.58M377.50 900.39v8.58M379.50 900.39v8.58M428.50 900.39v8.58M434.50 900.39v8.58M322.50 908.92v8.58M337.50 908.92v8.58M339.50 908.92v8.58M349.50 908.92v8.58M356.50 908.92v8.58M363.50 908.92v8.58M375.50 908.92v8.58M404.50 908.92v8.58M422.50 908.92v8.58M449.50 908.92v8.58M333.50 917.45v8.58M361.50 917.45v8.58M363.50 917.45v8.58M379.50 917.45v8.58M387.50 917.45v8.58M391.50 917.45v8.58M401.50 917.45v8.58M449.50 917.45v8.58M324.50 925.97v8.58M347.50 925.97v8.58M362.50 925.97v8.58M389.50 925.97v8.58M420.50 925.97v8.58M422.50 925.97v8.58"/><path stroke="#b0d8ff" d="M337.50 713.90v8.40M338.50 713.90v8.40M345.50 713.90v8.40M379.50 713.90v8.40M410.50 713.90v8.40M418.50 713.90v8.40M448.50 713.90v8.40M373.50 722.25v8.40M381.50 722.25v8.40M384.50 722.25v8.40M385.50 722.25v8.40M406.50 722.25v8.40M409.50 722.25v8.40M429.50 722.25v8.40M446.50 722.25v8.40M399.50 730.60v8.40M416.50 730.60v8.40M443.50 730.60v8.40M447.50 730.60v8.40M351.50 738.95v8.40M375.50 738.95v8.40M396.50 738.95v8.40M418.50 738.95v8.40M428.50 738.95v8.40M330.50 750.30v8.49M340.50 750.30v8.49M347.50 750.30v8.49M349.50 750.30v8.49M352.50 750.30v8.49M362.50 750.30v8.49M378.50 750.30v8.49M401.50 750.30v8.49M420.50 750.30v8.49M429.50 750.30v8.49M444.50 750.30v8.49M319.50 758.74v8.49M337.50 758.74v8.49M351.50 758.74v8.49M367.50 758.74v8.49M410.50 758.74v8.49M436.50 758.74v8.49M437.50 758.74v8.49M450.50 758.74v8.49M451.50 758.74v8.49M453.50 758.74v8.49M312.50 767.19v8.49M347.50 767.19v8.49M349.50 767.19v8.49M390.50 767.19v8.49M407.50 767.19v8.49M418.50 767.19v8.49M436.50 767.19v8.49M308.50 775.63v8.49M340.50 775.63v8.49M386.50 775.63v8.49M425.50 775.63v8.49M317.50 784.07v8.49M323.50 784.07v8.49M352.50 784.07v8.49M385.50 784.07v8.49M419.50 784.07v8.49M434.50 784.07v8.49M453.50 784.07v8.49M318.50 792.51v8.49M333.50 792.51v8.49M363.50 792.51v8.49M369.50 792.51v8.49M380.50 792.51v8.49M432.50 792.51v8.49M436.50 792.51v8.49M449.50 792.51v8.49M328.50 800.96v8.49M349.50 800.96v8.49M363.50 800.96v8.49M369.50 800.96v8.49M401.50 800.96v8.49M435.50 800.96v8.49M456.50 800.96v8.49M354.50 812.30v8.52M389.50 812.30v8.52M393.50 812.30v8.52M415.50 812.30v8.52M427.50 812.30v8.52M442.50 812.30v8.52M323.50 820.77v8.52M331.50 820.77v8.52M346.50 820.77v8.52M359.50 820.77v8.52M369.50 820.77v8.52M414.50 820.77v8.52M450.50 820.77v8.52M451.50 820.77v8.52M454.50 820.77v8.52M347.50 829.23v8.52M354.50 829.23v8.52M359.50 829.23v8.52M366.50 829.23v8.52M368.50 829.23v8.52M393.50 829.23v8.52M408.50 829.23v8.52M430.50 829.23v8.52M366.50 840.70v8.58M432.50 840.70v8.58M441.50 840.70v8.58M356.50 849.23v8.58M373.50 849.23v8.58M409.50 849.23v8.58M418.50 849.23v8.58M432.50 849.23v8.58M325.50 857.75v8.58M368.50 857.75v8.58M381.50 857.75v8.58M383.50 857.75v8.58M393.50 857.75v8.58M403.50 857.75v8.58M406.50 857.75v8.58M313.50 866.28v8.58M339.50 866.28v8.58M341.50 866.28v8.58M351.50 866.28v8.58M357.50 866.28v8.58M366.50 866.28v8.58M368.50 866.28v8.58M375.50 866.28v8.58M389.50 866.28v8.58M407.50 866.28v8.58M411.50 866.28v8.58M430.50 866.28v8.58M435.50 866.28v8.58M452.50 866.28v8.58M331.50 874.81v8.58M333.50 874.81v8.58M366.50 874.81v8.58M379.50 874.81v8.58M390.50 874.81v8.58M414.50 874.81v8.58M431.50 874.81v8.58M443.50 874.81v8.58M335.50 883.34v8.58M341.50 883.34v8.58M375.50 883.34v8.58M395.50 883.34v8.58M399.50 883.34v8.58M410.50 883.34v8.58M411.50 883.34v8.58M431.50 883.34v8.58M436.50 883.34v8.58M437.50 883.34v8.58M324.50 891.86v8.58M333.50 891.86v8.58M384.50 891.86v8.58M418.50 891.86v8.58M430.50 891.86v8.58M449.50 891.86v8.58M345.50 900.39v8.58M386.50 900.39v8.58M387.50 900.39v8.58M393.50 900.39v8.58M396.50 900.39v8.58M406.50 900.39v8.58M407.50 900.39v8.58M430.50 900.39v8.58M439.50 900.39v8.58M453.50 900.39v8.58M455.50 900.39v8.58M308.50 908.92v8.58M358.50 908.92v8.58M362.50 908.92v8.58M384.50 908.92v8.58M387.50 908.92v8.58M396.50 908.92v8.58M410.50 908.92v8.58M414.50 908.92v8.58M434.50 908.92v8.58M436.50 908.92v8.58M339.50 917.45v8.58M365.50 917.45v8.58M367.50 917.45v8.58M370.50 917.45v8.58M390.50 917.45v8.58M413.50 917.45v8.58M434.50 917.45v8.58M439.50 917.45v8.58M440.50 917.45v8.58M445.50 917.45v8.58M447.50 917.45v8.58M451.50 917.45v8.58M329.50 925.97v8.58M367.50 925.97v8.58M373.50 925.97v8.58M425.50 925.97v8.58M428.50 925.97v8.58M431.50 925.97v8.58M446.50 925.97v8.58M456.50 925.97v8.58"/><path stroke="#bcdeff" d="M324.50 713.90v8.40M386.50 713.90v8.40M401.50 713.90v8.40M426.50 713.90v8.40M430.50 713.90v8.40M433.50 713.90v8.40M452.50 713.90v8.40M337.50 722.25v8.40M352.50 722.25v8.40M353.50 722.25v8.40M357.50 722.25v8.40M390.50 722.25v8.40M423.50 722.25v8.40M430.50 722.25v8.40M366.50 730.60v8.40M392.50 730.60v8.40M400.50 730.60v8.40M423.50 730.60v8.40M424.50 730.60v8.40M429.50 730.60v8.40M431.50 730.60v8.40M338.50 738.95v8.40M435.50 738.95v8.40M443.50 738.95v8.40M329.50 750.30v8.49M357.50 750.30v8.49M370.50 750.30v8.49M372.50 750.30v8.49M404.50 750.30v8.49M445.50 750.30v8.49M352.50 758.74v8.49M386.50 758.74v8.49M420.50 758.74v8.49M425.50 758.74v8.49M430.50 758.74v8.49M431.50 758.74v8.49M434.50 758.74v8.49M448.50 758.74v8.49M455.50 758.74v8.49M327.50 767.19v8.49M332.50 767.19v8.49M379.50 767.19v8.49M433.50 767.19v8.49M441.50 767.19v8.49M328.50 775.63v8.49M333.50 775.63v8.49M382.50 775.63v8.49M384.50 775.63v8.49M426.50 775.63v8.49M430.50 775.63v8.49M431.50 775.63v8.49M439.50 775.63v8.49M351.50 784.07v8.49M380.50 784.07v8.49M392.50 784.07v8.49M427.50 784.07v8.49M341.50 792.51v8.49M349.50 792.51v8.49M397.50 792.51v8.49M404.50 792.51v8.49M411.50 792.51v8.49M424.50 792.51v8.49M452.50 792.51v8.49M333.50 800.96v8.49M382.50 800.96v8.49M387.50 800.96v8.49M389.50 800.96v8.49M392.50 800.96v8.49M398.50 800.96v8.49M445.50 800.96v8.49M339.50 812.30v8.52M347.50 812.30v8.52M366.50 812.30v8.52M414.50 812.30v8.52M423.50 812.30v8.52M436.50 812.30v8.52M449.50 812.30v8.52M324.50 820.77v8.52M332.50 820.77v8.52M354.50 820.77v8.52M361.50 820.77v8.52M362.50 820.77v8.52M368.50 820.77v8.52M378.50 820.77v8.52M384.50 820.77v8.52M390.50 820.77v8.52M408.50 820.77v8.52M412.50 820.77v8.52M420.50 820.77v8.52M438.50 820.77v8.52M447.50 820.77v8.52M317.50 829.23v8.52M375.50 829.23v8.52M379.50 829.23v8.52M410.50 829.23v8.52M418.50 829.23v8.52M419.50 829.23v8.52M422.50 829.23v8.52M424.50 829.23v8.52M433.50 829.23v8.52M447.50 829.23v8.52M452.50 829.23v8.52M316.50 840.70v8.58M319.50 840.70v8.58M325.50 840.70v8.58M378.50 840.70v8.58M387.50 840.70v8.58M388.50 840.70v8.58M400.50 840.70v8.58M418.50 840.70v8.58M430.50 840.70v8.58M445.50 840.70v8.58M307.50 849.23v8.58M335.50 849.23v8.58M350.50 849.23v8.58M365.50 849.23v8.58M420.50 849.23v8.58M424.50 849.23v8.58M430.50 849.23v8.58M435.50 849.23v8.58M445.50 849.23v8.58M451.50 849.23v8.58M320.50 857.75v8.58M347.50 857.75v8.58M363.50 857.75v8.58M388.50 857.75v8.58M402.50 857.75v8.58M417.50 857.75v8.58M441.50 857.75v8.58M443.50 857.75v8.58M334.50 866.28v8.58M371.50 866.28v8.58M380.50 866.28v8.58M386.50 866.28v8.58M388.50 866.28v8.58M396.50 866.28v8.58M400.50 866.28v8.58M408.50 866.28v8.58M422.50 866.28v8.58M324.50 874.81v8.58M345.50 874.81v8.58M355.50 874.81v8.58M363.50 874.81v8.58M380.50 874.81v8.58M404.50 874.81v8.58M413.50 874.81v8.58M422.50 874.81v8.58M445.50 874.81v8.58M450.50 874.81v8.58M313.50 883.34v8.58M324.50 883.34v8.58M331.50 883.34v8.58M381.50 883.34v8.58M383.50 883.34v8.58M407.50 883.34v8.58M428.50 883.34v8.58M354.50 891.86v8.58M383.50 891.86v8.58M388.50 891.86v8.58M402.50 891.86v8.58M434.50 891.86v8.58M448.50 891.86v8.58M331.50 900.39v8.58M333.50 900.39v8.58M350.50 900.39v8.58M353.50 900.39v8.58M359.50 900.39v8.58M363.50 900.39v8.58M370.50 900.39v8.58M380.50 900.39v8.58M381.50 900.39v8.58M390.50 900.39v8.58M398.50 900.39v8.58M403.50 900.39v8.58M408.50 900.39v8.58M436.50 900.39v8.58M445.50 900.39v8.58M448.50 900.39v8.58M306.50 908.92v8.58M331.50 908.92v8.58M336.50 908.92v8.58M366.50 908.92v8.58M371.50 908.92v8.58M389.50 908.92v8.58M390.50 908.92v8.58M393.50 908.92v8.58M419.50 908.92v8.58M428.50 908.92v8.58M444.50 908.92v8.58M452.50 908.92v8.58M319.50 917.45v8.58M348.50 917.45v8.58M362.50 917.45v8.58M371.50 917.45v8.58M373.50 917.45v8.58M395.50 917.45v8.58M399.50 917.45v8.58M428.50 917.45v8.58M325.50 925.97v8.58M342.50 925.97v8.58M344.50 925.97v8.58M375.50 925.97v8.58M381.50 925.97v8.58M395.50 925.97v8.58M430.50 925.97v8.58M443.50 925.97v8.58"/><path stroke="#c7e3ff" d="M343.50 713.90v8.40M347.50 713.90v8.40M360.50 713.90v8.40M370.50 713.90v8.40M406.50 713.90v8.40M438.50 713.90v8.40M325.50 722.25v8.40M354.50 722.25v8.40M376.50 722.25v8.40M395.50 722.25v8.40M418.50 722.25v8.40M433.50 722.25v8.40M436.50 722.25v8.40M444.50 722.25v8.40M340.50 730.60v8.40M345.50 730.60v8.40M405.50 730.60v8.40M427.50 730.60v8.40M433.50 730.60v8.40M446.50 730.60v8.40M368.50 738.95v8.40M392.50 738.95v8.40M402.50 738.95v8.40M404.50 738.95v8.40M427.50 738.95v8.40M441.50 738.95v8.40M305.50 750.30v8.49M333.50 750.30v8.49M376.50 750.30v8.49M389.50 750.30v8.49M410.50 750.30v8.49M418.50 750.30v8.49M426.50 750.30v8.49M428.50 750.30v8.49M435.50 750.30v8.49M441.50 750.30v8.49M307.50 758.74v8.49M355.50 758.74v8.49M372.50 758.74v8.49M382.50 758.74v8.49M384.50 758.74v8.49M394.50 758.74v8.49M418.50 758.74v8.49M438.50 758.74v8.49M449.50 758.74v8.49M322.50 767.19v8.49M326.50 767.19v8.49M345.50 767.19v8.49M357.50 767.19v8.49M382.50 767.19v8.49M387.50 767.19v8.49M414.50 767.19v8.49M416.50 767.19v8.49M424.50 767.19v8.49M430.50 767.19v8.49M434.50 767.19v8.49M336.50 775.63v8.49M349.50 775.63v8.49M351.50 775.63v8.49M363.50 775.63v8.49M370.50 775.63v8.49M372.50 775.63v8.49M385.50 775.63v8.49M419.50 775.63v8.49M420.50 775.63v8.49M421.50 775.63v8.49M437.50 775.63v8.49M453.50 775.63v8.49M342.50 784.07v8.49M369.50 784.07v8.49M374.50 784.07v8.49M377.50 784.07v8.49M386.50 784.07v8.49M391.50 784.07v8.49M407.50 784.07v8.49M409.50 784.07v8.49M410.50 784.07v8.49M420.50 784.07v8.49M422.50 784.07v8.49M441.50 784.07v8.49M306.50 792.51v8.49M319.50 792.51v8.49M323.50 792.51v8.49M359.50 792.51v8.49M439.50 792.51v8.49M443.50 792.51v8.49M308.50 800.96v8.49M329.50 800.96v8.49M330.50 800.96v8.49M372.50 800.96v8.49M397.50 800.96v8.49M414.50 800.96v8.49M422.50 800.96v8.49M424.50 800.96v8.49M444.50 800.96v8.49M449.50 800.96v8.49M331.50 812.30v8.52M381.50 812.30v8.52M410.50 812.30v8.52M445.50 812.30v8.52M337.50 820.77v8.52M352.50 820.77v8.52M358.50 820.77v8.52M371.50 820.77v8.52M379.50 820.77v8.52M381.50 820.77v8.52M397.50 820.77v8.52M398.50 820.77v8.52M406.50 820.77v8.52M428.50 820.77v8.52M442.50 820.77v8.52M456.50 820.77v8.52M335.50 829.23v8.52M337.50 829.23v8.52M345.50 829.23v8.52M402.50 829.23v8.52M313.50 840.70v8.58M344.50 840.70v8.58M371.50 840.70v8.58M399.50 840.70v8.58M436.50 840.70v8.58M316.50 849.23v8.58M343.50 849.23v8.58M345.50 849.23v8.58M367.50 849.23v8.58M403.50 849.23v8.58M412.50 849.23v8.58M425.50 849.23v8.58M434.50 849.23v8.58M436.50 849.23v8.58M355.50 857.75v8.58M379.50 857.75v8.58M391.50 857.75v8.58M407.50 857.75v8.58M415.50 857.75v8.58M442.50 857.75v8.58M314.50 866.28v8.58M338.50 866.28v8.58M359.50 866.28v8.58M373.50 866.28v8.58M384.50 866.28v8.58M390.50 866.28v8.58M398.50 866.28v8.58M412.50 866.28v8.58M419.50 866.28v8.58M449.50 866.28v8.58M450.50 866.28v8.58M453.50 866.28v8.58M334.50 874.81v8.58M335.50 874.81v8.58M357.50 874.81v8.58M367.50 874.81v8.58M369.50 874.81v8.58M377.50 874.81v8.58M386.50 874.81v8.58M387.50 874.81v8.58M388.50 874.81v8.58M405.50 874.81v8.58M411.50 874.81v8.58M430.50 874.81v8.58M366.50 883.34v8.58M390.50 883.34v8.58M402.50 883.34v8.58M408.50 883.34v8.58M444.50 883.34v8.58M446.50 883.34v8.58M456.50 883.34v8.58M344.50 891.86v8.58M358.50 891.86v8.58M370.50 891.86v8.58M381.50 891.86v8.58M386.50 891.86v8.58M389.50 891.86v8.58M399.50 891.86v8.58M407.50 891.86v8.58M409.50 891.86v8.58M411.50 891.86v8.58M422.50 891.86v8.58M307.50 900.39v8.58M343.50 900.39v8.58M365.50 900.39v8.58M373.50 900.39v8.58M375.50 900.39v8.58M378.50 900.39v8.58M412.50 900.39v8.58M413.50 900.39v8.58M431.50 900.39v8.58M446.50 900.39v8.58M449.50 900.39v8.58M313.50 908.92v8.58M343.50 908.92v8.58M344.50 908.92v8.58M350.50 908.92v8.58M373.50 908.92v8.58M380.50 908.92v8.58M388.50 908.92v8.58M395.50 908.92v8.58M398.50 908.92v8.58M400.50 908.92v8.58M405.50 908.92v8.58M407.50 908.92v8.58M440.50 908.92v8.58M448.50 908.92v8.58M313.50 917.45v8.58M336.50 917.45v8.58M377.50 917.45v8.58M381.50 917.45v8.58M393.50 917.45v8.58M422.50 917.45v8.58M425.50 917.45v8.58M314.50 925.97v8.58M319.50 925.97v8.58M339.50 925.97v8.58M340.50 925.97v8.58M386.50 925.97v8.58M397.50 925.97v8.58M398.50 925.97v8.58M426.50 925.97v8.58M435.50 925.97v8.58"/><path stroke="#d2e9ff" d="M349.50 713.90v8.40M352.50 713.90v8.40M355.50 713.90v8.40M365.50 713.90v8.40M390.50 713.90v8.40M432.50 713.90v8.40M356.50 722.25v8.40M399.50 722.25v8.40M404.50 722.25v8.40M445.50 722.25v8.40M329.50 730.60v8.40M336.50 730.60v8.40M338.50 730.60v8.40M354.50 730.60v8.40M378.50 730.60v8.40M389.50 730.60v8.40M409.50 730.60v8.40M417.50 730.60v8.40M420.50 730.60v8.40M435.50 730.60v8.40M439.50 730.60v8.40M339.50 738.95v8.40M364.50 738.95v8.40M370.50 738.95v8.40M378.50 738.95v8.40M386.50 738.95v8.40M432.50 738.95v8.40M447.50 738.95v8.40M307.50 750.30v8.49M320.50 750.30v8.49M339.50 750.30v8.49M343.50 750.30v8.49M363.50 750.30v8.49M409.50 750.30v8.49M415.50 750.30v8.49M440.50 750.30v8.49M317.50 758.74v8.49M341.50 758.74v8.49M350.50 758.74v8.49M401.50 758.74v8.49M414.50 758.74v8.49M429.50 758.74v8.49M311.50 767.19v8.49M333.50 767.19v8.49M337.50 767.19v8.49M385.50 767.19v8.49M392.50 767.19v8.49M422.50 767.19v8.49M425.50 767.19v8.49M439.50 767.19v8.49M444.50 767.19v8.49M447.50 767.19v8.49M337.50 775.63v8.49M367.50 775.63v8.49M397.50 775.63v8.49M408.50 775.63v8.49M413.50 775.63v8.49M415.50 775.63v8.49M432.50 775.63v8.49M358.50 784.07v8.49M370.50 784.07v8.49M383.50 784.07v8.49M389.50 784.07v8.49M449.50 784.07v8.49M325.50 792.51v8.49M353.50 792.51v8.49M382.50 792.51v8.49M386.50 792.51v8.49M410.50 792.51v8.49M422.50 792.51v8.49M445.50 792.51v8.49M456.50 792.51v8.49M316.50 800.96v8.49M320.50 800.96v8.49M326.50 800.96v8.49M332.50 800.96v8.49M347.50 800.96v8.49M358.50 800.96v8.49M359.50 800.96v8.49M362.50 800.96v8.49M365.50 800.96v8.49M381.50 800.96v8.49M394.50 800.96v8.49M396.50 800.96v8.49M406.50 800.96v8.49M421.50 800.96v8.49M423.50 800.96v8.49M429.50 800.96v8.49M430.50 800.96v8.49M436.50 800.96v8.49M452.50 800.96v8.49M319.50 812.30v8.52M373.50 812.30v8.52M400.50 812.30v8.52M432.50 812.30v8.52M434.50 812.30v8.52M450.50 812.30v8.52M312.50 820.77v8.52M341.50 820.77v8.52M440.50 820.77v8.52M314.50 829.23v8.52M315.50 829.23v8.52M330.50 829.23v8.52M356.50 829.23v8.52M426.50 829.23v8.52M438.50 829.23v8.52M450.50 829.23v8.52M453.50 829.23v8.52M318.50 840.70v8.58M332.50 840.70v8.58M404.50 840.70v8.58M417.50 840.70v8.58M308.50 849.23v8.58M357.50 849.23v8.58M363.50 849.23v8.58M366.50 849.23v8.58M427.50 849.23v8.58M439.50 849.23v8.58M440.50 849.23v8.58M328.50 857.75v8.58M373.50 857.75v8.58M376.50 857.75v8.58M408.50 857.75v8.58M422.50 857.75v8.58M428.50 857.75v8.58M435.50 857.75v8.58M307.50 866.28v8.58M370.50 866.28v8.58M377.50 866.28v8.58M381.50 866.28v8.58M383.50 866.28v8.58M395.50 866.28v8.58M444.50 866.28v8.58M445.50 866.28v8.58M342.50 874.81v8.58M354.50 874.81v8.58M398.50 874.81v8.58M408.50 874.81v8.58M325.50 883.34v8.58M349.50 883.34v8.58M361.50 883.34v8.58M378.50 883.34v8.58M385.50 883.34v8.58M398.50 883.34v8.58M425.50 883.34v8.58M447.50 883.34v8.58M453.50 883.34v8.58M347.50 891.86v8.58M353.50 891.86v8.58M408.50 891.86v8.58M442.50 891.86v8.58M310.50 900.39v8.58M325.50 900.39v8.58M329.50 900.39v8.58M337.50 900.39v8.58M376.50 900.39v8.58M388.50 900.39v8.58M400.50 900.39v8.58M409.50 900.39v8.58M411.50 900.39v8.58M419.50 900.39v8.58M307.50 908.92v8.58M318.50 908.92v8.58M321.50 908.92v8.58M351.50 908.92v8.58M368.50 908.92v8.58M402.50 908.92v8.58M420.50 908.92v8.58M331.50 917.45v8.58M335.50 917.45v8.58M366.50 917.45v8.58M412.50 917.45v8.58M431.50 917.45v8.58M323.50 925.97v8.58M326.50 925.97v8.58M356.50 925.97v8.58M359.50 925.97v8.58M366.50 925.97v8.58M368.50 925.97v8.58M390.50 925.97v8.58M406.50 925.97v8.58M414.50 925.97v8.58M437.50 925.97v8.58M450.50 925.97v8.58"/><path stroke="#ddeeff" d="M385.50 713.90v8.40M421.50 713.90v8.40M424.50 713.90v8.40M444.50 713.90v8.40M455.50 713.90v8.40M324.50 722.25v8.40M345.50 722.25v8.40M346.50 722.25v8.40M358.50 722.25v8.40M394.50 722.25v8.40M400.50 722.25v8.40M421.50 722.25v8.40M424.50 722.25v8.40M320.50 730.60v8.40M328.50 730.60v8.40M349.50 730.60v8.40M356.50 730.60v8.40M367.50 730.60v8.40M395.50 730.60v8.40M376.50 738.95v8.40M377.50 738.95v8.40M409.50 738.95v8.40M446.50 738.95v8.40M308.50 750.30v8.49M319.50 750.30v8.49M337.50 750.30v8.49M403.50 750.30v8.49M406.50 750.30v8.49M436.50 750.30v8.49M437.50 750.30v8.49M446.50 750.30v8.49M330.50 758.74v8.49M339.50 758.74v8.49M346.50 758.74v8.49M347.50 758.74v8.49M387.50 758.74v8.49M433.50 758.74v8.49M445.50 758.74v8.49M315.50 767.19v8.49M389.50 767.19v8.49M342.50 775.63v8.49M352.50 775.63v8.49M356.50 775.63v8.49M362.50 775.63v8.49M378.50 775.63v8.49M401.50 775.63v8.49M414.50 775.63v8.49M444.50 775.63v8.49M363.50 784.07v8.49M371.50 784.07v8.49M411.50 784.07v8.49M424.50 784.07v8.49M452.50 784.07v8.49M316.50 792.51v8.49M320.50 792.51v8.49M336.50 792.51v8.49M347.50 792.51v8.49M370.50 792.51v8.49M390.50 792.51v8.49M417.50 792.51v8.49M441.50 792.51v8.49M444.50 792.51v8.49M451.50 792.51v8.49M453.50 792.51v8.49M312.50 800.96v8.49M322.50 800.96v8.49M323.50 800.96v8.49M342.50 800.96v8.49M346.50 800.96v8.49M352.50 800.96v8.49M357.50 800.96v8.49M391.50 800.96v8.49M402.50 800.96v8.49M409.50 800.96v8.49M316.50 812.30v8.52M330.50 812.30v8.52M344.50 812.30v8.52M390.50 812.30v8.52M418.50 812.30v8.52M419.50 812.30v8.52M426.50 812.30v8.52M444.50 812.30v8.52M306.50 820.77v8.52M310.50 820.77v8.52M321.50 820.77v8.52M329.50 820.77v8.52M335.50 820.77v8.52M355.50 820.77v8.52M386.50 820.77v8.52M409.50 820.77v8.52M426.50 820.77v8.52M449.50 820.77v8.52M452.50 820.77v8.52M308.50 829.23v8.52M319.50 829.23v8.52M332.50 829.23v8.52M336.50 829.23v8.52M371.50 829.23v8.52M376.50 829.23v8.52M386.50 829.23v8.52M421.50 829.23v8.52M436.50 829.23v8.52M442.50 829.23v8.52M444.50 829.23v8.52M324.50 840.70v8.58M327.50 840.70v8.58M342.50 840.70v8.58M346.50 840.70v8.58M352.50 840.70v8.58M353.50 840.70v8.58M358.50 840.70v8.58M361.50 840.70v8.58M373.50 840.70v8.58M377.50 840.70v8.58M389.50 840.70v8.58M422.50 840.70v8.58M319.50 849.23v8.58M351.50 849.23v8.58M359.50 849.23v8.58M375.50 849.23v8.58M395.50 849.23v8.58M398.50 849.23v8.58M419.50 849.23v8.58M456.50 849.23v8.58M319.50 857.75v8.58M344.50 857.75v8.58M380.50 857.75v8.58M437.50 857.75v8.58M336.50 866.28v8.58M347.50 866.28v8.58M353.50 866.28v8.58M361.50 866.28v8.58M387.50 866.28v8.58M409.50 866.28v8.58M410.50 866.28v8.58M417.50 866.28v8.58M428.50 866.28v8.58M306.50 874.81v8.58M309.50 874.81v8.58M318.50 874.81v8.58M337.50 874.81v8.58M359.50 874.81v8.58M371.50 874.81v8.58M375.50 874.81v8.58M389.50 874.81v8.58M400.50 874.81v8.58M417.50 874.81v8.58M309.50 883.34v8.58M323.50 883.34v8.58M337.50 883.34v8.58M347.50 883.34v8.58M358.50 883.34v8.58M393.50 883.34v8.58M401.50 883.34v8.58M405.50 883.34v8.58M427.50 883.34v8.58M452.50 883.34v8.58M322.50 891.86v8.58M331.50 891.86v8.58M349.50 891.86v8.58M351.50 891.86v8.58M360.50 891.86v8.58M395.50 891.86v8.58M400.50 891.86v8.58M309.50 900.39v8.58M314.50 900.39v8.58M338.50 900.39v8.58M341.50 900.39v8.58M351.50 900.39v8.58M369.50 900.39v8.58M371.50 900.39v8.58M399.50 900.39v8.58M320.50 908.92v8.58M335.50 908.92v8.58M370.50 908.92v8.58M378.50 908.92v8.58M383.50 908.92v8.58M397.50 908.92v8.58M399.50 908.92v8.58M453.50 908.92v8.58M455.50 908.92v8.58M314.50 917.45v8.58M340.50 917.45v8.58M344.50 917.45v8.58M351.50 917.45v8.58M354.50 917.45v8.58M357.50 917.45v8.58M369.50 917.45v8.58M385.50 917.45v8.58M388.50 917.45v8.58M397.50 917.45v8.58M420.50 917.45v8.58M427.50 917.45v8.58M436.50 917.45v8.58M444.50 917.45v8.58M306.50 925.97v8.58M336.50 925.97v8.58M350.50 925.97v8.58M360.50 925.97v8.58M377.50 925.97v8.58M407.50 925.97v8.58M413.50 925.97v8.58M418.50 925.97v8.58"/><path stroke="#e8f4ff" d="M351.50 713.90v8.40M376.50 713.90v8.40M409.50 713.90v8.40M427.50 713.90v8.40M428.50 713.90v8.40M341.50 722.25v8.40M347.50 722.25v8.40M361.50 722.25v8.40M367.50 722.25v8.40M368.50 722.25v8.40M410.50 722.25v8.40M426.50 722.25v8.40M453.50 722.25v8.40M337.50 730.60v8.40M351.50 730.60v8.40M383.50 730.60v8.40M384.50 730.60v8.40M386.50 730.60v8.40M329.50 738.95v8.40M337.50 738.95v8.40M345.50 738.95v8.40M358.50 738.95v8.40M384.50 738.95v8.40M385.50 738.95v8.40M405.50 738.95v8.40M408.50 738.95v8.40M322.50 750.30v8.49M332.50 750.30v8.49M336.50 750.30v8.49M377.50 750.30v8.49M380.50 750.30v8.49M381.50 750.30v8.49M402.50 750.30v8.49M425.50 750.30v8.49M433.50 750.30v8.49M434.50 750.30v8.49M452.50 750.30v8.49M455.50 750.30v8.49M316.50 758.74v8.49M343.50 758.74v8.49M353.50 758.74v8.49M366.50 758.74v8.49M368.50 758.74v8.49M371.50 758.74v8.49M395.50 758.74v8.49M402.50 758.74v8.49M456.50 758.74v8.49M306.50 767.19v8.49M319.50 767.19v8.49M325.50 767.19v8.49M328.50 767.19v8.49M336.50 767.19v8.49M411.50 767.19v8.49M320.50 775.63v8.49M321.50 775.63v8.49M394.50 775.63v8.49M411.50 775.63v8.49M412.50 775.63v8.49M424.50 775.63v8.49M433.50 775.63v8.49M434.50 775.63v8.49M320.50 784.07v8.49M324.50 784.07v8.49M376.50 784.07v8.49M428.50 784.07v8.49M454.50 784.07v8.49M362.50 792.51v8.49M376.50 792.51v8.49M406.50 792.51v8.49M409.50 792.51v8.49M413.50 792.51v8.49M437.50 792.51v8.49M311.50 800.96v8.49M331.50 800.96v8.49M337.50 800.96v8.49M339.50 800.96v8.49M379.50 800.96v8.49M385.50 800.96v8.49M408.50 800.96v8.49M438.50 800.96v8.49M441.50 800.96v8.49M453.50 800.96v8.49M335.50 812.30v8.52M349.50 812.30v8.52M411.50 812.30v8.52M314.50 820.77v8.52M319.50 820.77v8.52M373.50 820.77v8.52M387.50 820.77v8.52M404.50 820.77v8.52M413.50 820.77v8.52M418.50 820.77v8.52M326.50 829.23v8.52M352.50 829.23v8.52M358.50 829.23v8.52M365.50 829.23v8.52M374.50 829.23v8.52M396.50 829.23v8.52M406.50 829.23v8.52M411.50 829.23v8.52M310.50 840.70v8.58M322.50 840.70v8.58M337.50 840.70v8.58M343.50 840.70v8.58M360.50 840.70v8.58M363.50 840.70v8.58M419.50 840.70v8.58M425.50 840.70v8.58M440.50 840.70v8.58M349.50 849.23v8.58M352.50 849.23v8.58M380.50 849.23v8.58M443.50 849.23v8.58M453.50 849.23v8.58M307.50 857.75v8.58M310.50 857.75v8.58M313.50 857.75v8.58M331.50 857.75v8.58M353.50 857.75v8.58M390.50 857.75v8.58M398.50 857.75v8.58M451.50 857.75v8.58M326.50 866.28v8.58M342.50 866.28v8.58M346.50 866.28v8.58M365.50 866.28v8.58M385.50 866.28v8.58M433.50 866.28v8.58M443.50 866.28v8.58M446.50 866.28v8.58M455.50 866.28v8.58M326.50 874.81v8.58M350.50 874.81v8.58M372.50 874.81v8.58M402.50 874.81v8.58M416.50 874.81v8.58M418.50 874.81v8.58M425.50 874.81v8.58M306.50 883.34v8.58M318.50 883.34v8.58M322.50 883.34v8.58M329.50 883.34v8.58M340.50 883.34v8.58M348.50 883.34v8.58M371.50 883.34v8.58M384.50 883.34v8.58M386.50 883.34v8.58M412.50 883.34v8.58M433.50 883.34v8.58M455.50 883.34v8.58M342.50 891.86v8.58M352.50 891.86v8.58M375.50 891.86v8.58M401.50 891.86v8.58M427.50 891.86v8.58M319.50 900.39v8.58M401.50 900.39v8.58M432.50 900.39v8.58M309.50 908.92v8.58M323.50 908.92v8.58M338.50 908.92v8.58M341.50 908.92v8.58M345.50 908.92v8.58M347.50 908.92v8.58M353.50 908.92v8.58M357.50 908.92v8.58M359.50 908.92v8.58M386.50 908.92v8.58M417.50 908.92v8.58M439.50 908.92v8.58M442.50 908.92v8.58M308.50 917.45v8.58M324.50 917.45v8.58M329.50 917.45v8.58M334.50 917.45v8.58M337.50 917.45v8.58M353.50 917.45v8.58M360.50 917.45v8.58M374.50 917.45v8.58M375.50 917.45v8.58M380.50 917.45v8.58M400.50 917.45v8.58M408.50 917.45v8.58M411.50 917.45v8.58M452.50 917.45v8.58M456.50 917.45v8.58M343.50 925.97v8.58M384.50 925.97v8.58M427.50 925.97v8.58"/><path stroke="#f4f9ff" d="M315.50 713.90v8.40M334.50 713.90v8.40M336.50 713.90v8.40M375.50 713.90v8.40M383.50 713.90v8.40M412.50 713.90v8.40M443.50 713.90v8.40M331.50 722.25v8.40M355.50 722.25v8.40M370.50 722.25v8.40M383.50 722.25v8.40M396.50 722.25v8.40M422.50 722.25v8.40M443.50 722.25v8.40M344.50 730.60v8.40M347.50 730.60v8.40M353.50 730.60v8.40M369.50 730.60v8.40M385.50 730.60v8.40M413.50 730.60v8.40M422.50 730.60v8.40M430.50 730.60v8.40M326.50 738.95v8.40M352.50 738.95v8.40M356.50 738.95v8.40M359.50 738.95v8.40M398.50 738.95v8.40M450.50 738.95v8.40M451.50 738.95v8.40M309.50 750.30v8.49M327.50 750.30v8.49M385.50 750.30v8.49M318.50 758.74v8.49M333.50 758.74v8.49M334.50 758.74v8.49M357.50 758.74v8.49M376.50 758.74v8.49M379.50 758.74v8.49M381.50 758.74v8.49M385.50 758.74v8.49M422.50 758.74v8.49M441.50 758.74v8.49M307.50 767.19v8.49M324.50 767.19v8.49M346.50 767.19v8.49M367.50 767.19v8.49M371.50 767.19v8.49M376.50 767.19v8.49M381.50 767.19v8.49M410.50 767.19v8.49M427.50 767.19v8.49M449.50 767.19v8.49M315.50 775.63v8.49M316.50 775.63v8.49M343.50 775.63v8.49M364.50 775.63v8.49M380.50 775.63v8.49M395.50 775.63v8.49M422.50 775.63v8.49M436.50 775.63v8.49M443.50 775.63v8.49M337.50 784.07v8.49M347.50 784.07v8.49M394.50 784.07v8.49M415.50 784.07v8.49M423.50 784.07v8.49M438.50 784.07v8.49M332.50 792.51v8.49M337.50 792.51v8.49M339.50 792.51v8.49M346.50 792.51v8.49M354.50 792.51v8.49M366.50 792.51v8.49M374.50 792.51v8.49M385.50 792.51v8.49M389.50 792.51v8.49M415.50 792.51v8.49M416.50 792.51v8.49M425.50 792.51v8.49M426.50 792.51v8.49M315.50 800.96v8.49M336.50 800.96v8.49M340.50 800.96v8.49M350.50 800.96v8.49M380.50 800.96v8.49M412.50 800.96v8.49M419.50 800.96v8.49M314.50 812.30v8.52M317.50 812.30v8.52M326.50 812.30v8.52M328.50 812.30v8.52M343.50 812.30v8.52M396.50 812.30v8.52M405.50 812.30v8.52M413.50 812.30v8.52M424.50 812.30v8.52M430.50 812.30v8.52M437.50 812.30v8.52M438.50 812.30v8.52M446.50 812.30v8.52M308.50 820.77v8.52M313.50 820.77v8.52M315.50 820.77v8.52M342.50 820.77v8.52M356.50 820.77v8.52M365.50 820.77v8.52M376.50 820.77v8.52M393.50 820.77v8.52M399.50 820.77v8.52M445.50 820.77v8.52M398.50 829.23v8.52M412.50 829.23v8.52M414.50 829.23v8.52M415.50 829.23v8.52M416.50 829.23v8.52M440.50 829.23v8.52M336.50 840.70v8.58M351.50 840.70v8.58M354.50 840.70v8.58M357.50 840.70v8.58M367.50 840.70v8.58M380.50 840.70v8.58M407.50 840.70v8.58M416.50 840.70v8.58M451.50 840.70v8.58M309.50 849.23v8.58M324.50 849.23v8.58M326.50 849.23v8.58M334.50 849.23v8.58M338.50 849.23v8.58M361.50 849.23v8.58M383.50 849.23v8.58M397.50 849.23v8.58M402.50 849.23v8.58M421.50 849.23v8.58M455.50 849.23v8.58M335.50 857.75v8.58M367.50 857.75v8.58M370.50 857.75v8.58M377.50 857.75v8.58M414.50 857.75v8.58M439.50 857.75v8.58M308.50 866.28v8.58M310.50 866.28v8.58M316.50 866.28v8.58M349.50 866.28v8.58M354.50 866.28v8.58M355.50 866.28v8.58M362.50 866.28v8.58M376.50 866.28v8.58M308.50 874.81v8.58M314.50 874.81v8.58M322.50 874.81v8.58M351.50 874.81v8.58M383.50 874.81v8.58M384.50 874.81v8.58M399.50 874.81v8.58M401.50 874.81v8.58M410.50 874.81v8.58M415.50 874.81v8.58M420.50 874.81v8.58M455.50 874.81v8.58M307.50 883.34v8.58M316.50 883.34v8.58M343.50 883.34v8.58M350.50 883.34v8.58M354.50 883.34v8.58M355.50 883.34v8.58M360.50 883.34v8.58M364.50 883.34v8.58M388.50 883.34v8.58M397.50 883.34v8.58M421.50 883.34v8.58M306.50 891.86v8.58M307.50 891.86v8.58M340.50 891.86v8.58M376.50 891.86v8.58M455.50 891.86v8.58M305.50 900.39v8.58M308.50 900.39v8.58M349.50 900.39v8.58M366.50 900.39v8.58M402.50 900.39v8.58M410.50 900.39v8.58M421.50 900.39v8.58M442.50 900.39v8.58M310.50 908.92v8.58M342.50 908.92v8.58M352.50 908.92v8.58M382.50 908.92v8.58M401.50 908.92v8.58M408.50 908.92v8.58M421.50 908.92v8.58M431.50 908.92v8.58M432.50 908.92v8.58M437.50 908.92v8.58M456.50 908.92v8.58M318.50 917.45v8.58M338.50 917.45v8.58M347.50 917.45v8.58M356.50 917.45v8.58M372.50 917.45v8.58M384.50 917.45v8.58M409.50 917.45v8.58M432.50 917.45v8.58M446.50 917.45v8.58M307.50 925.97v8.58M333.50 925.97v8.58M361.50 925.97v8.58M383.50 925.97v8.58M424.50 925.97v8.58M448.50 925.97v8.58"/><path stroke="#ffffff" d="M314.50 713.90v8.40M328.50 713.90v8.40M358.50 713.90v8.40M367.50 713.90v8.40M380.50 713.90v8.40M394.50 713.90v8.40M405.50 713.90v8.40M407.50 713.90v8.40M454.50 713.90v8.40M320.50 722.25v8.40M339.50 722.25v8.40M340.50 722.25v8.40M359.50 722.25v8.40M420.50 722.25v8.40M454.50 722.25v8.40M332.50 730.60v8.40M343.50 730.60v8.40M374.50 730.60v8.40M379.50 730.60v8.40M380.50 730.60v8.40M382.50 730.60v8.40M387.50 730.60v8.40M404.50 730.60v8.40M428.50 730.60v8.40M332.50 738.95v8.40M342.50 738.95v8.40M349.50 738.95v8.40M354.50 738.95v8.40M357.50 738.95v8.40M362.50 738.95v8.40M369.50 738.95v8.40M422.50 738.95v8.40M454.50 738.95v8.40M323.50 750.30v8.49M379.50 750.30v8.49M384.50 750.30v8.49M386.50 750.30v8.49M393.50 750.30v8.49M397.50 750.30v8.49M408.50 750.30v8.49M417.50 750.30v8.49M421.50 750.30v8.49M448.50 750.30v8.49M306.50 758.74v8.49M312.50 758.74v8.49M315.50 758.74v8.49M349.50 758.74v8.49M354.50 758.74v8.49M378.50 758.74v8.49M380.50 758.74v8.49M408.50 758.74v8.49M413.50 758.74v8.49M421.50 758.74v8.49M426.50 758.74v8.49M447.50 758.74v8.49M323.50 767.19v8.49M343.50 767.19v8.49M369.50 767.19v8.49M386.50 767.19v8.49M412.50 767.19v8.49M440.50 767.19v8.49M445.50 767.19v8.49M312.50 775.63v8.49M330.50 775.63v8.49M381.50 775.63v8.49M393.50 775.63v8.49M452.50 775.63v8.49M456.50 775.63v8.49M305.50 784.07v8.49M306.50 784.07v8.49M308.50 784.07v8.49M333.50 784.07v8.49M341.50 784.07v8.49M367.50 784.07v8.49M402.50 784.07v8.49M405.50 784.07v8.49M431.50 784.07v8.49M334.50 792.51v8.49M350.50 792.51v8.49M381.50 792.51v8.49M412.50 792.51v8.49M430.50 792.51v8.49M309.50 800.96v8.49M344.50 800.96v8.49M410.50 800.96v8.49M432.50 800.96v8.49M447.50 800.96v8.49M455.50 800.96v8.49M336.50 812.30v8.52M356.50 812.30v8.52M398.50 812.30v8.52M412.50 812.30v8.52M311.50 820.77v8.52M328.50 820.77v8.52M339.50 820.77v8.52M350.50 820.77v8.52M364.50 820.77v8.52M395.50 820.77v8.52M400.50 820.77v8.52M401.50 820.77v8.52M424.50 820.77v8.52M444.50 820.77v8.52M313.50 829.23v8.52M339.50 829.23v8.52M353.50 829.23v8.52M370.50 829.23v8.52M413.50 829.23v8.52M429.50 829.23v8.52M445.50 829.23v8.52M456.50 829.23v8.52M331.50 840.70v8.58M334.50 840.70v8.58M345.50 840.70v8.58M403.50 840.70v8.58M411.50 840.70v8.58M421.50 840.70v8.58M438.50 840.70v8.58M454.50 840.70v8.58M321.50 849.23v8.58M414.50 849.23v8.58M437.50 849.23v8.58M442.50 849.23v8.58M450.50 849.23v8.58M318.50 857.75v8.58M336.50 857.75v8.58M342.50 857.75v8.58M348.50 857.75v8.58M386.50 857.75v8.58M400.50 857.75v8.58M446.50 857.75v8.58M455.50 857.75v8.58M456.50 857.75v8.58M319.50 866.28v8.58M352.50 866.28v8.58M367.50 866.28v8.58M416.50 866.28v8.58M432.50 866.28v8.58M439.50 866.28v8.58M451.50 866.28v8.58M305.50 874.81v8.58M307.50 874.81v8.58M316.50 874.81v8.58M321.50 874.81v8.58M346.50 874.81v8.58M370.50 874.81v8.58M421.50 874.81v8.58M424.50 874.81v8.58M429.50 874.81v8.58M432.50 874.81v8.58M442.50 874.81v8.58M314.50 883.34v8.58M320.50 883.34v8.58M326.50 883.34v8.58M334.50 883.34v8.58M351.50 883.34v8.58M352.50 883.34v8.58M400.50 883.34v8.58M409.50 883.34v8.58M325.50 891.86v8.58M348.50 891.86v8.58M366.50 891.86v8.58M385.50 891.86v8.58M405.50 891.86v8.58M416.50 891.86v8.58M432.50 891.86v8.58M437.50 891.86v8.58M335.50 900.39v8.58M336.50 900.39v8.58M358.50 900.39v8.58M367.50 900.39v8.58M405.50 900.39v8.58M415.50 900.39v8.58M416.50 900.39v8.58M422.50 900.39v8.58M427.50 900.39v8.58M456.50 900.39v8.58M326.50 908.92v8.58M360.50 908.92v8.58M367.50 908.92v8.58M416.50 908.92v8.58M433.50 908.92v8.58M447.50 908.92v8.58M307.50 917.45v8.58M346.50 917.45v8.58M359.50 917.45v8.58M376.50 917.45v8.58M309.50 925.97v8.58M353.50 925.97v8.58M363.50 925.97v8.58M370.50 925.97v8.58M410.50 925.97v8.58M434.50 925.97v8.58"/><path stroke="#fef2f2" d="M332.50 713.90v8.40M346.50 713.90v8.40M350.50 713.90v8.40M356.50 713.90v8.40M357.50 713.90v8.40M374.50 713.90v8.40M384.50 713.90v8.40M395.50 713.90v8.40M326.50 722.25v8.40M328.50 722.25v8.40M330.50 722.25v8.40M351.50 722.25v8.40M362.50 722.25v8.40M378.50 722.25v8.40M407.50 722.25v8.40M417.50 722.25v8.40M327.50 730.60v8.40M334.50 730.60v8.40M341.50 730.60v8.40M368.50 730.60v8.40M370.50 730.60v8.40M418.50 730.60v8.40M444.50 730.60v8.40M320.50 738.95v8.40M324.50 738.95v8.40M333.50 738.95v8.40M413.50 738.95v8.40M415.50 738.95v8.40M419.50 738.95v8.40M420.50 738.95v8.40M434.50 738.95v8.40M306.50 750.30v8.49M311.50 750.30v8.49M315.50 750.30v8.49M341.50 750.30v8.49M390.50 750.30v8.49M391.50 750.30v8.49M411.50 750.30v8.49M414.50 750.30v8.49M422.50 750.30v8.49M430.50 750.30v8.49M405.50 758.74v8.49M428.50 758.74v8.49M440.50 758.74v8.49M444.50 758.74v8.49M308.50 767.19v8.49M316.50 767.19v8.49M320.50 767.19v8.49M334.50 767.19v8.49M356.50 767.19v8.49M359.50 767.19v8.49M363.50 767.19v8.49M325.50 775.63v8.49M326.50 775.63v8.49M339.50 775.63v8.49M346.50 775.63v8.49M371.50 775.63v8.49M374.50 775.63v8.49M429.50 775.63v8.49M313.50 784.07v8.49M340.50 784.07v8.49M356.50 784.07v8.49M357.50 784.07v8.49M412.50 784.07v8.49M416.50 784.07v8.49M433.50 784.07v8.49M437.50 784.07v8.49M456.50 784.07v8.49M314.50 792.51v8.49M322.50 792.51v8.49M327.50 792.51v8.49M343.50 792.51v8.49M357.50 792.51v8.49M367.50 792.51v8.49M368.50 792.51v8.49M372.50 792.51v8.49M394.50 792.51v8.49M405.50 792.51v8.49M434.50 792.51v8.49M318.50 800.96v8.49M324.50 800.96v8.49M334.50 800.96v8.49M355.50 800.96v8.49M384.50 800.96v8.49M403.50 800.96v8.49M315.50 812.30v8.52M355.50 812.30v8.52M362.50 812.30v8.52M365.50 812.30v8.52M368.50 812.30v8.52M374.50 812.30v8.52M377.50 812.30v8.52M456.50 812.30v8.52M333.50 820.77v8.52M344.50 820.77v8.52M345.50 820.77v8.52M374.50 820.77v8.52M310.50 829.23v8.52M318.50 829.23v8.52M323.50 829.23v8.52M324.50 829.23v8.52M329.50 829.23v8.52M363.50 829.23v8.52M388.50 829.23v8.52M389.50 829.23v8.52M391.50 829.23v8.52M404.50 829.23v8.52M420.50 829.23v8.52M455.50 829.23v8.52M314.50 840.70v8.58M329.50 840.70v8.58M341.50 840.70v8.58M350.50 840.70v8.58M355.50 840.70v8.58M364.50 840.70v8.58M381.50 840.70v8.58M427.50 840.70v8.58M439.50 840.70v8.58M452.50 840.70v8.58M329.50 849.23v8.58M332.50 849.23v8.58M341.50 849.23v8.58M358.50 849.23v8.58M364.50 849.23v8.58M372.50 849.23v8.58M377.50 849.23v8.58M381.50 849.23v8.58M382.50 849.23v8.58M401.50 849.23v8.58M405.50 849.23v8.58M454.50 849.23v8.58M346.50 857.75v8.58M361.50 857.75v8.58M362.50 857.75v8.58M427.50 857.75v8.58M440.50 857.75v8.58M453.50 857.75v8.58M309.50 866.28v8.58M325.50 866.28v8.58M332.50 866.28v8.58M337.50 866.28v8.58M340.50 866.28v8.58M348.50 866.28v8.58M399.50 866.28v8.58M405.50 866.28v8.58M319.50 874.81v8.58M349.50 874.81v8.58M382.50 874.81v8.58M310.50 883.34v8.58M321.50 883.34v8.58M367.50 883.34v8.58M370.50 883.34v8.58M374.50 883.34v8.58M389.50 883.34v8.58M422.50 883.34v8.58M426.50 883.34v8.58M430.50 883.34v8.58M432.50 883.34v8.58M442.50 883.34v8.58M309.50 891.86v8.58M341.50 891.86v8.58M378.50 891.86v8.58M380.50 891.86v8.58M394.50 891.86v8.58M398.50 891.86v8.58M417.50 891.86v8.58M451.50 891.86v8.58M323.50 900.39v8.58M334.50 900.39v8.58M364.50 900.39v8.58M394.50 900.39v8.58M397.50 900.39v8.58M424.50 900.39v8.58M305.50 908.92v8.58M377.50 908.92v8.58M430.50 908.92v8.58M350.50 917.45v8.58M394.50 917.45v8.58M437.50 917.45v8.58M448.50 917.45v8.58M305.50 925.97v8.58M321.50 925.97v8.58M345.50 925.97v8.58M348.50 925.97v8.58M364.50 925.97v8.58M365.50 925.97v8.58M440.50 925.97v8.58"/><path stroke="#fee6e6" d="M311.50 713.90v8.40M326.50 713.90v8.40M329.50 713.90v8.40M335.50 713.90v8.40M342.50 713.90v8.40M359.50 713.90v8.40M369.50 713.90v8.40M413.50 713.90v8.40M336.50 722.25v8.40M349.50 722.25v8.40M360.50 722.25v8.40M369.50 722.25v8.40M321.50 730.60v8.40M339.50 730.60v8.40M372.50 730.60v8.40M393.50 730.60v8.40M407.50 730.60v8.40M408.50 730.60v8.40M373.50 738.95v8.40M407.50 738.95v8.40M316.50 750.30v8.49M328.50 750.30v8.49M353.50 750.30v8.49M355.50 750.30v8.49M374.50 750.30v8.49M382.50 750.30v8.49M431.50 750.30v8.49M454.50 750.30v8.49M332.50 758.74v8.49M389.50 758.74v8.49M443.50 758.74v8.49M452.50 758.74v8.49M321.50 767.19v8.49M364.50 767.19v8.49M380.50 767.19v8.49M415.50 767.19v8.49M432.50 767.19v8.49M305.50 775.63v8.49M313.50 775.63v8.49M324.50 775.63v8.49M365.50 775.63v8.49M388.50 775.63v8.49M400.50 775.63v8.49M442.50 775.63v8.49M449.50 775.63v8.49M455.50 775.63v8.49M330.50 784.07v8.49M365.50 784.07v8.49M388.50 784.07v8.49M400.50 784.07v8.49M408.50 784.07v8.49M309.50 792.51v8.49M310.50 792.51v8.49M329.50 792.51v8.49M331.50 792.51v8.49M371.50 792.51v8.49M396.50 792.51v8.49M447.50 792.51v8.49M353.50 800.96v8.49M354.50 800.96v8.49M356.50 800.96v8.49M370.50 800.96v8.49M388.50 800.96v8.49M329.50 812.30v8.52M358.50 812.30v8.52M360.50 812.30v8.52M387.50 812.30v8.52M349.50 820.77v8.52M441.50 820.77v8.52M453.50 820.77v8.52M306.50 829.23v8.52M343.50 829.23v8.52M350.50 829.23v8.52M397.50 829.23v8.52M409.50 829.23v8.52M441.50 829.23v8.52M323.50 840.70v8.58M372.50 840.70v8.58M429.50 840.70v8.58M431.50 840.70v8.58M455.50 840.70v8.58M318.50 849.23v8.58M331.50 849.23v8.58M339.50 849.23v8.58M348.50 849.23v8.58M355.50 849.23v8.58M360.50 849.23v8.58M385.50 849.23v8.58M394.50 849.23v8.58M426.50 849.23v8.58M448.50 849.23v8.58M329.50 857.75v8.58M360.50 857.75v8.58M389.50 857.75v8.58M399.50 857.75v8.58M412.50 857.75v8.58M420.50 857.75v8.58M448.50 857.75v8.58M305.50 866.28v8.58M321.50 866.28v8.58M329.50 866.28v8.58M345.50 866.28v8.58M372.50 866.28v8.58M397.50 866.28v8.58M424.50 866.28v8.58M332.50 874.81v8.58M341.50 874.81v8.58M348.50 874.81v8.58M406.50 874.81v8.58M451.50 874.81v8.58M319.50 883.34v8.58M376.50 883.34v8.58M394.50 883.34v8.58M334.50 891.86v8.58M336.50 891.86v8.58M355.50 891.86v8.58M369.50 891.86v8.58M313.50 900.39v8.58M321.50 900.39v8.58M322.50 900.39v8.58M342.50 900.39v8.58M346.50 900.39v8.58M354.50 900.39v8.58M382.50 900.39v8.58M383.50 900.39v8.58M384.50 900.39v8.58M404.50 900.39v8.58M454.50 900.39v8.58M314.50 908.92v8.58M346.50 908.92v8.58M425.50 908.92v8.58M427.50 908.92v8.58M309.50 917.45v8.58M320.50 917.45v8.58M321.50 917.45v8.58M342.50 917.45v8.58M358.50 917.45v8.58M398.50 917.45v8.58M406.50 917.45v8.58M308.50 925.97v8.58M310.50 925.97v8.58M322.50 925.97v8.58M330.50 925.97v8.58M346.50 925.97v8.58M357.50 925.97v8.58M412.50 925.97v8.58M423.50 925.97v8.58M433.50 925.97v8.58M451.50 925.97v8.58M454.50 925.97v8.58M455.50 925.97v8.58"/><path stroke="#fdd9d9" d="M340.50 713.90v8.40M361.50 713.90v8.40M388.50 713.90v8.40M393.50 713.90v8.40M422.50 713.90v8.40M445.50 713.90v8.40M338.50 722.25v8.40M348.50 722.25v8.40M365.50 722.25v8.40M386.50 722.25v8.40M397.50 722.25v8.40M403.50 722.25v8.40M412.50 722.25v8.40M325.50 730.60v8.40M335.50 730.60v8.40M355.50 730.60v8.40M358.50 730.60v8.40M359.50 730.60v8.40M410.50 730.60v8.40M346.50 738.95v8.40M348.50 738.95v8.40M350.50 738.95v8.40M367.50 738.95v8.40M374.50 738.95v8.40M397.50 738.95v8.40M325.50 750.30v8.49M443.50 750.30v8.49M324.50 758.74v8.49M364.50 758.74v8.49M370.50 758.74v8.49M383.50 758.74v8.49M392.50 758.74v8.49M427.50 758.74v8.49M309.50 767.19v8.49M365.50 767.19v8.49M370.50 767.19v8.49M374.50 767.19v8.49M391.50 767.19v8.49M428.50 767.19v8.49M431.50 767.19v8.49M438.50 767.19v8.49M327.50 775.63v8.49M329.50 775.63v8.49M331.50 775.63v8.49M403.50 775.63v8.49M405.50 775.63v8.49M438.50 775.63v8.49M440.50 775.63v8.49M447.50 775.63v8.49M316.50 784.07v8.49M318.50 784.07v8.49M344.50 784.07v8.49M346.50 784.07v8.49M368.50 784.07v8.49M379.50 784.07v8.49M429.50 784.07v8.49M439.50 784.07v8.49M445.50 784.07v8.49M313.50 792.51v8.49M317.50 792.51v8.49M344.50 792.51v8.49M379.50 792.51v8.49M364.50 800.96v8.49M367.50 800.96v8.49M374.50 800.96v8.49M417.50 800.96v8.49M443.50 800.96v8.49M310.50 812.30v8.52M313.50 812.30v8.52M323.50 812.30v8.52M327.50 812.30v8.52M351.50 812.30v8.52M404.50 812.30v8.52M408.50 812.30v8.52M307.50 820.77v8.52M343.50 820.77v8.52M348.50 820.77v8.52M375.50 820.77v8.52M389.50 820.77v8.52M421.50 820.77v8.52M455.50 820.77v8.52M309.50 829.23v8.52M311.50 829.23v8.52M320.50 829.23v8.52M349.50 829.23v8.52M360.50 829.23v8.52M362.50 829.23v8.52M384.50 829.23v8.52M434.50 829.23v8.52M435.50 829.23v8.52M446.50 829.23v8.52M307.50 840.70v8.58M328.50 840.70v8.58M374.50 840.70v8.58M435.50 840.70v8.58M322.50 849.23v8.58M325.50 849.23v8.58M396.50 849.23v8.58M429.50 849.23v8.58M446.50 849.23v8.58M337.50 857.75v8.58M421.50 857.75v8.58M424.50 857.75v8.58M445.50 857.75v8.58M449.50 857.75v8.58M450.50 857.75v8.58M306.50 866.28v8.58M374.50 866.28v8.58M382.50 866.28v8.58M418.50 866.28v8.58M456.50 866.28v8.58M310.50 874.81v8.58M329.50 874.81v8.58M336.50 874.81v8.58M352.50 874.81v8.58M373.50 874.81v8.58M378.50 874.81v8.58M407.50 874.81v8.58M426.50 874.81v8.58M444.50 874.81v8.58M305.50 883.34v8.58M369.50 883.34v8.58M379.50 883.34v8.58M387.50 883.34v8.58M418.50 883.34v8.58M445.50 883.34v8.58M451.50 883.34v8.58M314.50 891.86v8.58M316.50 891.86v8.58M346.50 891.86v8.58M382.50 891.86v8.58M412.50 891.86v8.58M415.50 891.86v8.58M424.50 891.86v8.58M435.50 891.86v8.58M340.50 900.39v8.58M355.50 900.39v8.58M372.50 900.39v8.58M425.50 900.39v8.58M426.50 900.39v8.58M435.50 900.39v8.58M317.50 908.92v8.58M340.50 908.92v8.58M316.50 917.45v8.58M325.50 917.45v8.58M355.50 917.45v8.58M383.50 917.45v8.58M402.50 917.45v8.58M416.50 917.45v8.58M419.50 917.45v8.58M442.50 917.45v8.58M453.50 917.45v8.58M341.50 925.97v8.58M369.50 925.97v8.58M378.50 925.97v8.58M416.50 925.97v8.58"/><path stroke="#fccccc" d="M330.50 713.90v8.40M333.50 713.90v8.40M341.50 713.90v8.40M378.50 713.90v8.40M417.50 713.90v8.40M420.50 713.90v8.40M323.50 722.25v8.40M327.50 722.25v8.40M333.50 722.25v8.40M334.50 722.25v8.40M389.50 722.25v8.40M437.50 722.25v8.40M441.50 722.25v8.40M324.50 730.60v8.40M361.50 730.60v8.40M365.50 730.60v8.40M455.50 730.60v8.40M318.50 738.95v8.40M335.50 738.95v8.40M355.50 738.95v8.40M324.50 750.30v8.49M371.50 750.30v8.49M396.50 750.30v8.49M305.50 758.74v8.49M309.50 758.74v8.49M323.50 758.74v8.49M358.50 758.74v8.49M396.50 758.74v8.49M313.50 767.19v8.49M314.50 767.19v8.49M318.50 767.19v8.49M329.50 767.19v8.49M354.50 767.19v8.49M400.50 767.19v8.49M405.50 767.19v8.49M429.50 767.19v8.49M306.50 775.63v8.49M334.50 775.63v8.49M376.50 775.63v8.49M392.50 775.63v8.49M428.50 775.63v8.49M435.50 775.63v8.49M309.50 784.07v8.49M326.50 784.07v8.49M348.50 784.07v8.49M382.50 784.07v8.49M393.50 784.07v8.49M397.50 784.07v8.49M426.50 784.07v8.49M440.50 784.07v8.49M352.50 792.51v8.49M377.50 792.51v8.49M414.50 792.51v8.49M431.50 792.51v8.49M343.50 800.96v8.49M351.50 800.96v8.49M377.50 800.96v8.49M418.50 800.96v8.49M425.50 800.96v8.49M308.50 812.30v8.52M318.50 812.30v8.52M357.50 812.30v8.52M369.50 812.30v8.52M376.50 812.30v8.52M406.50 812.30v8.52M417.50 812.30v8.52M309.50 820.77v8.52M367.50 820.77v8.52M377.50 820.77v8.52M405.50 820.77v8.52M436.50 820.77v8.52M312.50 829.23v8.52M338.50 829.23v8.52M369.50 829.23v8.52M405.50 829.23v8.52M428.50 829.23v8.52M451.50 829.23v8.52M310.50 849.23v8.58M323.50 849.23v8.58M347.50 849.23v8.58M374.50 849.23v8.58M417.50 849.23v8.58M316.50 857.75v8.58M324.50 857.75v8.58M385.50 857.75v8.58M413.50 857.75v8.58M454.50 857.75v8.58M369.50 866.28v8.58M436.50 866.28v8.58M328.50 874.81v8.58M343.50 874.81v8.58M360.50 874.81v8.58M376.50 874.81v8.58M446.50 874.81v8.58M311.50 883.34v8.58M317.50 883.34v8.58M346.50 883.34v8.58M439.50 883.34v8.58M440.50 883.34v8.58M328.50 891.86v8.58M374.50 891.86v8.58M419.50 891.86v8.58M421.50 891.86v8.58M429.50 891.86v8.58M316.50 900.39v8.58M328.50 900.39v8.58M332.50 900.39v8.58M352.50 900.39v8.58M392.50 900.39v8.58M316.50 908.92v8.58M372.50 908.92v8.58M385.50 908.92v8.58M394.50 908.92v8.58M454.50 908.92v8.58M330.50 917.45v8.58M343.50 917.45v8.58M421.50 917.45v8.58M424.50 917.45v8.58M355.50 925.97v8.58M392.50 925.97v8.58"/><path stroke="#fbbfbf" d="M368.50 713.90v8.40M408.50 713.90v8.40M315.50 722.25v8.40M343.50 722.25v8.40M344.50 722.25v8.40M372.50 722.25v8.40M408.50 722.25v8.40M428.50 722.25v8.40M331.50 730.60v8.40M363.50 730.60v8.40M412.50 730.60v8.40M311.50 738.95v8.40M323.50 738.95v8.40M331.50 738.95v8.40M371.50 738.95v8.40M312.50 750.30v8.49M369.50 750.30v8.49M405.50 750.30v8.49M453.50 750.30v8.49M388.50 758.74v8.49M330.50 767.19v8.49M331.50 767.19v8.49M348.50 767.19v8.49M368.50 767.19v8.49M396.50 767.19v8.49M417.50 767.19v8.49M341.50 775.63v8.49M348.50 775.63v8.49M396.50 775.63v8.49M310.50 784.07v8.49M335.50 784.07v8.49M384.50 784.07v8.49M305.50 792.51v8.49M358.50 792.51v8.49M391.50 792.51v8.49M400.50 792.51v8.49M338.50 800.96v8.49M393.50 800.96v8.49M400.50 800.96v8.49M416.50 800.96v8.49M305.50 812.30v8.52M321.50 812.30v8.52M345.50 812.30v8.52M379.50 812.30v8.52M453.50 812.30v8.52M327.50 820.77v8.52M366.50 820.77v8.52M403.50 820.77v8.52M307.50 829.23v8.52M327.50 829.23v8.52M331.50 829.23v8.52M333.50 829.23v8.52M305.50 840.70v8.58M306.50 840.70v8.58M376.50 840.70v8.58M395.50 840.70v8.58M405.50 840.70v8.58M415.50 840.70v8.58M442.50 840.70v8.58M313.50 849.23v8.58M399.50 849.23v8.58M340.50 857.75v8.58M350.50 857.75v8.58M375.50 857.75v8.58M317.50 866.28v8.58M323.50 866.28v8.58M394.50 866.28v8.58M421.50 866.28v8.58M317.50 874.81v8.58M327.50 874.81v8.58M330.50 874.81v8.58M340.50 874.81v8.58M385.50 874.81v8.58M394.50 874.81v8.58M448.50 874.81v8.58M308.50 883.34v8.58M332.50 883.34v8.58M343.50 891.86v8.58M441.50 891.86v8.58M318.50 900.39v8.58M347.50 900.39v8.58M357.50 900.39v8.58M368.50 900.39v8.58M429.50 900.39v8.58M433.50 900.39v8.58M319.50 908.92v8.58M332.50 908.92v8.58M412.50 908.92v8.58M426.50 908.92v8.58M310.50 917.45v8.58M326.50 917.45v8.58M332.50 917.45v8.58M378.50 917.45v8.58M429.50 917.45v8.58M349.50 925.97v8.58M371.50 925.97v8.58M415.50 925.97v8.58"/><path stroke="#fab2b2" d="M318.50 713.90v8.40M382.50 713.90v8.40M398.50 713.90v8.40M399.50 713.90v8.40M316.50 722.25v8.40M317.50 722.25v8.40M350.50 722.25v8.40M405.50 722.25v8.40M314.50 730.60v8.40M342.50 730.60v8.40M375.50 730.60v8.40M388.50 730.60v8.40M406.50 730.60v8.40M308.50 738.95v8.40M315.50 738.95v8.40M319.50 738.95v8.40M327.50 738.95v8.40M389.50 738.95v8.40M331.50 750.30v8.49M388.50 750.30v8.49M413.50 750.30v8.49M416.50 750.30v8.49M447.50 750.30v8.49M451.50 750.30v8.49M321.50 758.74v8.49M328.50 758.74v8.49M329.50 758.74v8.49M336.50 758.74v8.49M400.50 758.74v8.49M305.50 767.19v8.49M338.50 767.19v8.49M358.50 767.19v8.49M402.50 767.19v8.49M409.50 767.19v8.49M314.50 775.63v8.49M354.50 775.63v8.49M331.50 784.07v8.49M339.50 784.07v8.49M364.50 784.07v8.49M373.50 784.07v8.49M432.50 784.07v8.49M312.50 792.51v8.49M378.50 792.51v8.49M314.50 800.96v8.49M341.50 800.96v8.49M375.50 800.96v8.49M309.50 812.30v8.52M312.50 812.30v8.52M332.50 812.30v8.52M342.50 812.30v8.52M350.50 812.30v8.52M401.50 812.30v8.52M316.50 820.77v8.52M322.50 820.77v8.52M353.50 820.77v8.52M360.50 820.77v8.52M357.50 829.23v8.52M373.50 829.23v8.52M392.50 829.23v8.52M321.50 840.70v8.58M335.50 840.70v8.58M390.50 840.70v8.58M424.50 840.70v8.58M336.50 849.23v8.58M353.50 849.23v8.58M312.50 857.75v8.58M322.50 857.75v8.58M338.50 857.75v8.58M371.50 857.75v8.58M405.50 857.75v8.58M416.50 857.75v8.58M426.50 857.75v8.58M315.50 866.28v8.58M360.50 866.28v8.58M392.50 866.28v8.58M414.50 866.28v8.58M448.50 866.28v8.58M311.50 874.81v8.58M320.50 874.81v8.58M396.50 874.81v8.58M409.50 874.81v8.58M327.50 883.34v8.58M357.50 883.34v8.58M415.50 883.34v8.58M417.50 883.34v8.58M308.50 891.86v8.58M313.50 891.86v8.58M317.50 891.86v8.58M332.50 891.86v8.58M337.50 891.86v8.58M406.50 891.86v8.58M426.50 891.86v8.58M320.50 900.39v8.58M326.50 900.39v8.58M330.50 900.39v8.58M315.50 908.92v8.58M327.50 908.92v8.58M328.50 908.92v8.58M364.50 908.92v8.58M328.50 917.45v8.58M341.50 917.45v8.58M345.50 917.45v8.58M349.50 917.45v8.58M415.50 917.45v8.58M455.50 917.45v8.58M315.50 925.97v8.58M320.50 925.97v8.58M338.50 925.97v8.58M402.50 925.97v8.58M417.50 925.97v8.58"/><path stroke="#faa6a6" d="M319.50 713.90v8.40M339.50 713.90v8.40M348.50 713.90v8.40M414.50 713.90v8.40M423.50 713.90v8.40M319.50 722.25v8.40M329.50 722.25v8.40M382.50 722.25v8.40M413.50 722.25v8.40M307.50 730.60v8.40M308.50 730.60v8.40M316.50 738.95v8.40M322.50 738.95v8.40M334.50 738.95v8.40M379.50 738.95v8.40M383.50 738.95v8.40M388.50 738.95v8.40M350.50 750.30v8.49M366.50 750.30v8.49M367.50 750.30v8.49M400.50 750.30v8.49M313.50 758.74v8.49M338.50 758.74v8.49M360.50 758.74v8.49M374.50 758.74v8.49M454.50 758.74v8.49M378.50 767.19v8.49M408.50 767.19v8.49M323.50 775.63v8.49M361.50 775.63v8.49M373.50 775.63v8.49M375.50 775.63v8.49M409.50 775.63v8.49M450.50 775.63v8.49M325.50 784.07v8.49M353.50 784.07v8.49M361.50 784.07v8.49M442.50 784.07v8.49M315.50 792.51v8.49M321.50 792.51v8.49M348.50 792.51v8.49M356.50 792.51v8.49M393.50 792.51v8.49M403.50 792.51v8.49M313.50 800.96v8.49M366.50 800.96v8.49M373.50 800.96v8.49M306.50 812.30v8.52M333.50 812.30v8.52M337.50 812.30v8.52M364.50 812.30v8.52M367.50 812.30v8.52M403.50 812.30v8.52M383.50 820.77v8.52M410.50 820.77v8.52M322.50 829.23v8.52M317.50 840.70v8.58M382.50 840.70v8.58M385.50 840.70v8.58M448.50 840.70v8.58M354.50 849.23v8.58M386.50 849.23v8.58M416.50 849.23v8.58M308.50 857.75v8.58M327.50 857.75v8.58M378.50 857.75v8.58M387.50 857.75v8.58M410.50 857.75v8.58M425.50 857.75v8.58M322.50 866.28v8.58M350.50 866.28v8.58M454.50 866.28v8.58M438.50 874.81v8.58M342.50 883.34v8.58M454.50 891.86v8.58M311.50 900.39v8.58M327.50 900.39v8.58M311.50 908.92v8.58M369.50 908.92v8.58M392.50 908.92v8.58M322.50 917.45v8.58M389.50 917.45v8.58M404.50 917.45v8.58M410.50 917.45v8.58M426.50 917.45v8.58M328.50 925.97v8.58M400.50 925.97v8.58"/><path stroke="#f99999" d="M415.50 713.90v8.40M315.50 730.60v8.40M319.50 730.60v8.40M341.50 738.95v8.40M440.50 738.95v8.40M448.50 738.95v8.40M455.50 738.95v8.40M314.50 750.30v8.49M338.50 750.30v8.49M432.50 750.30v8.49M326.50 758.74v8.49M356.50 758.74v8.49M420.50 767.19v8.49M455.50 767.19v8.49M317.50 775.63v8.49M347.50 775.63v8.49M355.50 784.07v8.49M375.50 784.07v8.49M443.50 784.07v8.49M455.50 784.07v8.49M340.50 792.51v8.49M388.50 792.51v8.49M395.50 792.51v8.49M455.50 792.51v8.49M305.50 800.96v8.49M321.50 800.96v8.49M327.50 800.96v8.49M360.50 800.96v8.49M426.50 800.96v8.49M353.50 812.30v8.52M388.50 812.30v8.52M407.50 812.30v8.52M447.50 812.30v8.52M316.50 829.23v8.52M377.50 829.23v8.52M431.50 829.23v8.52M315.50 840.70v8.58M383.50 840.70v8.58M305.50 849.23v8.58M340.50 849.23v8.58M342.50 849.23v8.58M408.50 849.23v8.58M415.50 849.23v8.58M356.50 857.75v8.58M320.50 866.28v8.58M426.50 866.28v8.58M392.50 874.81v8.58M315.50 883.34v8.58M353.50 883.34v8.58M382.50 883.34v8.58M392.50 883.34v8.58M429.50 883.34v8.58M310.50 891.86v8.58M323.50 891.86v8.58M330.50 891.86v8.58M361.50 891.86v8.58M371.50 891.86v8.58M377.50 891.86v8.58M392.50 891.86v8.58M450.50 891.86v8.58M374.50 900.39v8.58M312.50 908.92v8.58M355.50 908.92v8.58M364.50 917.45v8.58M417.50 917.45v8.58M374.50 925.97v8.58M405.50 925.97v8.58M421.50 925.97v8.58M429.50 925.97v8.58M438.50 925.97v8.58"/><path stroke="#f88c8c" d="M331.50 713.90v8.40M397.50 713.90v8.40M312.50 722.25v8.40M314.50 722.25v8.40M335.50 722.25v8.40M425.50 722.25v8.40M317.50 730.60v8.40M362.50 730.60v8.40M313.50 738.95v8.40M325.50 738.95v8.40M363.50 738.95v8.40M445.50 738.95v8.40M351.50 750.30v8.49M375.50 750.30v8.49M419.50 750.30v8.49M314.50 758.74v8.49M327.50 758.74v8.49M344.50 758.74v8.49M365.50 758.74v8.49M417.50 758.74v8.49M350.50 767.19v8.49M355.50 767.19v8.49M393.50 767.19v8.49M435.50 767.19v8.49M442.50 767.19v8.49M312.50 784.07v8.49M321.50 784.07v8.49M329.50 784.07v8.49M336.50 784.07v8.49M361.50 792.51v8.49M375.50 792.51v8.49M348.50 800.96v8.49M361.50 800.96v8.49M405.50 800.96v8.49M413.50 800.96v8.49M446.50 800.96v8.49M338.50 812.30v8.52M341.50 812.30v8.52M348.50 812.30v8.52M441.50 812.30v8.52M455.50 812.30v8.52M388.50 820.77v8.52M439.50 820.77v8.52M401.50 829.23v8.52M432.50 829.23v8.52M448.50 829.23v8.52M456.50 840.70v8.58M306.50 849.23v8.58M314.50 849.23v8.58M315.50 849.23v8.58M327.50 849.23v8.58M362.50 849.23v8.58M376.50 849.23v8.58M384.50 849.23v8.58M305.50 857.75v8.58M323.50 857.75v8.58M330.50 857.75v8.58M341.50 857.75v8.58M429.50 857.75v8.58M327.50 866.28v8.58M364.50 866.28v8.58M429.50 866.28v8.58M315.50 874.81v8.58M361.50 874.81v8.58M412.50 874.81v8.58M454.50 874.81v8.58M330.50 883.34v8.58M336.50 883.34v8.58M372.50 883.34v8.58M335.50 891.86v8.58M367.50 891.86v8.58M417.50 900.39v8.58M306.50 917.45v8.58M332.50 925.97v8.58M404.50 925.97v8.58M445.50 925.97v8.58"/><path stroke="#f88080" d="M312.50 713.90v8.40M313.50 713.90v8.40M316.50 713.90v8.40M322.50 713.90v8.40M362.50 713.90v8.40M434.50 713.90v8.40M391.50 722.25v8.40M392.50 722.25v8.40M312.50 730.60v8.40M316.50 730.60v8.40M323.50 730.60v8.40M330.50 738.95v8.40M401.50 738.95v8.40M335.50 750.30v8.49M364.50 750.30v8.49M373.50 750.30v8.49M362.50 758.74v8.49M391.50 758.74v8.49M397.50 758.74v8.49M361.50 767.19v8.49M384.50 767.19v8.49M360.50 775.63v8.49M366.50 775.63v8.49M445.50 775.63v8.49M360.50 784.07v8.49M396.50 784.07v8.49M406.50 784.07v8.49M408.50 792.51v8.49M376.50 800.96v8.49M442.50 800.96v8.49M359.50 812.30v8.52M399.50 812.30v8.52M416.50 812.30v8.52M420.50 812.30v8.52M318.50 820.77v8.52M363.50 820.77v8.52M382.50 820.77v8.52M407.50 820.77v8.52M334.50 829.23v8.52M348.50 840.70v8.58M392.50 840.70v8.58M397.50 840.70v8.58M441.50 849.23v8.58M314.50 857.75v8.58M374.50 857.75v8.58M392.50 857.75v8.58M312.50 866.28v8.58M416.50 883.34v8.58M424.50 883.34v8.58M319.50 891.86v8.58M329.50 891.86v8.58M372.50 891.86v8.58M409.50 908.92v8.58M429.50 908.92v8.58M438.50 908.92v8.58M323.50 917.45v8.58M382.50 917.45v8.58M405.50 917.45v8.58M438.50 917.45v8.58M318.50 925.97v8.58M380.50 925.97v8.58M382.50 925.97v8.58"/><path stroke="#f77373" d="M317.50 713.90v8.40M327.50 713.90v8.40M344.50 713.90v8.40M363.50 713.90v8.40M391.50 713.90v8.40M310.50 722.25v8.40M318.50 722.25v8.40M322.50 722.25v8.40M332.50 722.25v8.40M363.50 722.25v8.40M393.50 722.25v8.40M306.50 730.60v8.40M348.50 730.60v8.40M312.50 738.95v8.40M334.50 750.30v8.49M335.50 758.74v8.49M393.50 758.74v8.49M439.50 758.74v8.49M353.50 767.19v8.49M344.50 775.63v8.49M315.50 784.07v8.49M372.50 784.07v8.49M403.50 784.07v8.49M311.50 792.51v8.49M360.50 792.51v8.49M373.50 792.51v8.49M378.50 812.30v8.52M383.50 812.30v8.52M428.50 812.30v8.52M448.50 812.30v8.52M454.50 812.30v8.52M338.50 820.77v8.52M446.50 820.77v8.52M305.50 829.23v8.52M320.50 840.70v8.58M378.50 849.23v8.58M387.50 849.23v8.58M392.50 849.23v8.58M413.50 849.23v8.58M311.50 857.75v8.58M332.50 857.75v8.58M436.50 857.75v8.58M312.50 874.81v8.58M323.50 874.81v8.58M373.50 883.34v8.58M413.50 891.86v8.58M312.50 900.39v8.58M315.50 900.39v8.58M317.50 900.39v8.58M451.50 908.92v8.58M312.50 925.97v8.58M372.50 925.97v8.58M432.50 925.97v8.58"/><path stroke="#f66666" d="M309.50 713.90v8.40M325.50 713.90v8.40M371.50 713.90v8.40M306.50 722.25v8.40M308.50 722.25v8.40M388.50 722.25v8.40M311.50 730.60v8.40M391.50 730.60v8.40M340.50 738.95v8.40M344.50 738.95v8.40M412.50 738.95v8.40M348.50 750.30v8.49M442.50 750.30v8.49M331.50 758.74v8.49M403.50 758.74v8.49M416.50 758.74v8.49M360.50 767.19v8.49M372.50 767.19v8.49M373.50 767.19v8.49M403.50 767.19v8.49M452.50 767.19v8.49M309.50 775.63v8.49M381.50 784.07v8.49M368.50 800.96v8.49M409.50 812.30v8.52M385.50 829.23v8.52M407.50 829.23v8.52M308.50 840.70v8.58M330.50 840.70v8.58M312.50 849.23v8.58M317.50 849.23v8.58M369.50 849.23v8.58M379.50 849.23v8.58M333.50 857.75v8.58M438.50 857.75v8.58M454.50 883.34v8.58M327.50 891.86v8.58M456.50 891.86v8.58M360.50 900.39v8.58M385.50 900.39v8.58M451.50 900.39v8.58M354.50 908.92v8.58M374.50 908.92v8.58M376.50 908.92v8.58M305.50 917.45v8.58M317.50 917.45v8.58M386.50 917.45v8.58M392.50 917.45v8.58M450.50 917.45v8.58M394.50 925.97v8.58M399.50 925.97v8.58"/><path stroke="#f55959" d="M307.50 722.25v8.40M371.50 722.25v8.40M371.50 730.60v8.40M434.50 730.60v8.40M310.50 750.30v8.49M313.50 750.30v8.49M361.50 750.30v8.49M412.50 750.30v8.49M373.50 758.74v8.49M375.50 758.74v8.49M310.50 767.19v8.49M362.50 767.19v8.49M443.50 767.19v8.49M314.50 784.07v8.49M430.50 784.07v8.49M351.50 792.51v8.49M355.50 792.51v8.49M364.50 792.51v8.49M428.50 800.96v8.49M322.50 812.30v8.52M305.50 820.77v8.52M351.50 820.77v8.52M426.50 840.70v8.58M343.50 857.75v8.58M328.50 866.28v8.58M313.50 874.81v8.58M374.50 874.81v8.58M438.50 883.34v8.58M320.50 891.86v8.58M350.50 891.86v8.58M411.50 925.97v8.58"/><path stroke="#f44c4c" d="M333.50 730.60v8.40M360.50 730.60v8.40M336.50 738.95v8.40M360.50 750.30v8.49M310.50 758.74v8.49M348.50 758.74v8.49M363.50 758.74v8.49M335.50 767.19v8.49M388.50 767.19v8.49M437.50 767.19v8.49M310.50 775.63v8.49M345.50 775.63v8.49M334.50 784.07v8.49M338.50 784.07v8.49M310.50 800.96v8.49M397.50 812.30v8.52M328.50 829.23v8.52M348.50 829.23v8.52M439.50 829.23v8.52M369.50 840.70v8.58M311.50 849.23v8.58M352.50 857.75v8.58M415.50 866.28v8.58M338.50 874.81v8.58M312.50 883.34v8.58M305.50 891.86v8.58M315.50 891.86v8.58M318.50 891.86v8.58M438.50 891.86v8.58M329.50 908.92v8.58M311.50 917.45v8.58M312.50 917.45v8.58M311.50 925.97v8.58M334.50 925.97v8.58"/><path stroke="#f44040" d="M310.50 713.90v8.40M321.50 713.90v8.40M305.50 722.25v8.40M309.50 722.25v8.40M311.50 722.25v8.40M321.50 722.25v8.40M375.50 722.25v8.40M346.50 730.60v8.40M398.50 730.60v8.40M412.50 758.74v8.49M326.50 792.51v8.49M335.50 800.96v8.49M382.50 812.30v8.52M379.50 840.70v8.58M320.50 849.23v8.58M407.50 849.23v8.58M359.50 857.75v8.58M311.50 866.28v8.58M424.50 908.92v8.58M315.50 917.45v8.58M352.50 917.45v8.58M337.50 925.97v8.58M354.50 925.97v8.58"/><path stroke="#f33333" d="M305.50 713.90v8.40M308.50 713.90v8.40M394.50 730.60v8.40M397.50 730.60v8.40M309.50 738.95v8.40M317.50 738.95v8.40M365.50 738.95v8.40M366.50 767.19v8.49M335.50 792.51v8.49M338.50 792.51v8.49M442.50 792.51v8.49M307.50 812.30v8.52M439.50 812.30v8.52M311.50 840.70v8.58M410.50 840.70v8.58M344.50 849.23v8.58M389.50 849.23v8.58M390.50 849.23v8.58M456.50 874.81v8.58M311.50 891.86v8.58M345.50 891.86v8.58M410.50 891.86v8.58M438.50 900.39v8.58M316.50 925.97v8.58M442.50 925.97v8.58"/><path stroke="#f22626" d="M342.50 722.25v8.40M434.50 722.25v8.40M305.50 738.95v8.40M354.50 750.30v8.49M375.50 767.19v8.49M350.50 775.63v8.49M368.50 775.63v8.49M306.50 800.96v8.49M415.50 800.96v8.49M421.50 812.30v8.52M325.50 820.77v8.52M351.50 829.23v8.52M437.50 840.70v8.58M382.50 857.75v8.58M330.50 866.28v8.58M438.50 866.28v8.58M328.50 883.34v8.58M321.50 891.86v8.58M351.50 925.97v8.58M379.50 925.97v8.58"/><path stroke="#f21a1a" d="M455.50 722.25v8.40M313.50 730.60v8.40M330.50 730.60v8.40M325.50 758.74v8.49M394.50 767.19v8.49M357.50 775.63v8.49M362.50 784.07v8.49M395.50 784.07v8.49M324.50 792.51v8.49M324.50 812.30v8.52M382.50 829.23v8.52M383.50 829.23v8.52M326.50 857.75v8.58M366.50 857.75v8.58M364.50 874.81v8.58"/><path stroke="#f10d0d" d="M307.50 713.90v8.40M323.50 713.90v8.40M350.50 730.60v8.40M347.50 738.95v8.40M391.50 738.95v8.40M361.50 758.74v8.49M415.50 758.74v8.49M341.50 767.19v8.49M335.50 775.63v8.49M354.50 784.07v8.49M446.50 784.07v8.49M325.50 800.96v8.49M363.50 812.30v8.52M395.50 812.30v8.52M448.50 820.77v8.52M340.50 840.70v8.58M315.50 857.75v8.58M452.50 857.75v8.58M330.50 908.92v8.58M327.50 917.45v8.58M454.50 917.45v8.58"/><path stroke="#f00000" d="M306.50 713.90v8.40M313.50 722.25v8.40M305.50 730.60v8.40M309.50 730.60v8.40M310.50 730.60v8.40M318.50 730.60v8.40M322.50 730.60v8.40M326.50 730.60v8.40M445.50 730.60v8.40M306.50 738.95v8.40M307.50 738.95v8.40M310.50 738.95v8.40M314.50 738.95v8.40M321.50 738.95v8.40M393.50 738.95v8.40M321.50 750.30v8.49M344.50 750.30v8.49M377.50 758.74v8.49M442.50 758.74v8.49M344.50 767.19v8.49M338.50 775.63v8.49M379.50 775.63v8.49M416.50 775.63v8.49M327.50 784.07v8.49M366.50 784.07v8.49M418.50 784.07v8.49M447.50 784.07v8.49M311.50 812.30v8.52M320.50 812.30v8.52M325.50 812.30v8.52M371.50 812.30v8.52M416.50 820.77v8.52M325.50 829.23v8.52M309.50 840.70v8.58M312.50 840.70v8.58M370.50 840.70v8.58M394.50 840.70v8.58M328.50 849.23v8.58M330.50 849.23v8.58M333.50 849.23v8.58M337.50 849.23v8.58M371.50 849.23v8.58M388.50 849.23v8.58M400.50 849.23v8.58M438.50 849.23v8.58M309.50 857.75v8.58M317.50 857.75v8.58M357.50 857.75v8.58M364.50 857.75v8.58M372.50 857.75v8.58M394.50 857.75v8.58M312.50 891.86v8.58M326.50 891.86v8.58M364.50 891.86v8.58M317.50 925.97v8.58M327.50 925.97v8.58M352.50 925.97v8.58M385.50 925.97v8.58"/></g>
<text x="290.30" y="730.60" font-size="7.35" text-anchor="middle" fill="#1e1e1e" stroke="#1e1e1e" stroke-width="0.22" transform="rotate(-90 290.30 730.60)">Apolipo-</text>
<text x="299.10" y="730.60" font-size="7.35" text-anchor="middle" fill="#1e1e1e" stroke="#1e1e1e" stroke-width="0.22" transform="rotate(-90 299.10 730.60)">protein</text>
<text x="300.50" y="777.00" font-size="7.35" text-anchor="middle" fill="#1e1e1e" stroke="#1e1e1e" stroke-width="0.22" transform="rotate(-90 300.50 777.00)">VEGFA−VEGFR2</text>
<text x="282.80" y="821.00" font-size="7.35" text-anchor="middle" fill="#1e1e1e" stroke="#1e1e1e" stroke-width="0.22" transform="rotate(-90 282.80 821.00)">Monocytes and</text>
<text x="291.00" y="821.00" font-size="7.35" text-anchor="middle" fill="#1e1e1e" stroke="#1e1e1e" stroke-width="0.22" transform="rotate(-90 291.00 821.00)">Macrophage</text>
<text x="299.80" y="822.50" font-size="7.35" text-anchor="middle" fill="#1e1e1e" stroke="#1e1e1e" stroke-width="0.22" transform="rotate(-90 299.80 822.50)">markers</text>
<text x="289.30" y="891.20" font-size="7.35" text-anchor="middle" fill="#1e1e1e" stroke="#1e1e1e" stroke-width="0.22" transform="rotate(-90 289.30 891.20)">Cytokines and</text>
<text x="298.60" y="891.20" font-size="7.35" text-anchor="middle" fill="#1e1e1e" stroke="#1e1e1e" stroke-width="0.22" transform="rotate(-90 298.60 891.20)">inflammatory factors</text>
<text x="513.00" y="940.00" font-size="7.35" text-anchor="end" fill="#1e1e1e" stroke="#1e1e1e" stroke-width="0.22" transform="rotate(-30 513.00 940.00)">APOC2</text>
<text x="527.50" y="943.00" font-size="7.35" text-anchor="end" fill="#1e1e1e" stroke="#1e1e1e" stroke-width="0.22" transform="rotate(-30 527.50 943.00)">GMFCS</text>
<text x="358.40" y="948.00" font-size="7.35" text-anchor="start" fill="#1e1e1e" stroke="#1e1e1e" stroke-width="0.22">z-score</text>
<rect x="356.60" y="950.70" width="29.80" height="3.80" fill="url(#gB)"/>
<text x="358.90" y="962.00" font-size="7.35" text-anchor="middle" fill="#1e1e1e" stroke="#1e1e1e" stroke-width="0.22">-2</text>
<text x="373.30" y="962.00" font-size="7.35" text-anchor="middle" fill="#1e1e1e" stroke="#1e1e1e" stroke-width="0.22">0</text>
<text x="387.70" y="962.00" font-size="7.35" text-anchor="middle" fill="#1e1e1e" stroke="#1e1e1e" stroke-width="0.22">2</text>
<text x="415.70" y="947.61" font-size="7.35" text-anchor="start" fill="#1e1e1e" stroke="#1e1e1e" stroke-width="0.22">Cor</text>
<rect x="407.10" y="950.70" width="30.70" height="3.80" fill="url(#gB)"/>
<text x="403.10" y="962.91" font-size="7.35" text-anchor="middle" fill="#1e1e1e" stroke="#1e1e1e" stroke-width="0.22">−0.4</text>
<text x="422.70" y="962.91" font-size="7.35" text-anchor="middle" fill="#1e1e1e" stroke="#1e1e1e" stroke-width="0.22">0</text>
<text x="439.00" y="963.41" font-size="7.35" text-anchor="middle" fill="#1e1e1e" stroke="#1e1e1e" stroke-width="0.22">0.4</text>
<text x="0" y="0" font-size="14.8" fill="#111" stroke="#111" stroke-width="0.22" transform="translate(533.00 690.80) scale(1 1.06)">M</text>
<path d="M567,733 C565,726 570,720 576,718.5 C581,715.5 595,715 601,718 C606,720 609,726 608.5,732 C608,737 605,740 601,741.5 C596,742.5 590,742 586,741 C580,740 575,739 571,737 C568,736 567.5,735 567,733 Z" fill="#ffffff" stroke="#2e2e2e" stroke-width="0.65"/>
<path d="M576.5,718.8 C581,715.6 595,715.0 601.5,718.2 C603.5,719.5 604,721.5 603.2,723.8 C597,724.8 588,725.0 580.5,723.8 C578,722.4 576.5,720.5 576.5,718.8 Z" fill="#e3191c" stroke="#9e1010" stroke-width="0.35"/>
<path d="M579.5,719.5 c2,0.5 3,2 5,2 M585,717 c0.5,2 1.5,3.5 1,6.5 M590,716.5 c0.8,2 -0.5,4 0.5,7.5 M594,717 c1,2 0.5,3.5 2,6 M598,718 c0,2 1,3 0.5,5.5 M582,722 c2,-1 4,-1 6,0 M591,721 c2,-1 4,0 6,-1" fill="none" stroke="#7a0a0a" stroke-width="0.4"/>
<path d="M588,741 C590,743.8 593,746.2 596.5,745.8 C599.5,745.3 602,743.5 602,741.4" fill="#d0d0d0" stroke="#444" stroke-width="0.5"/>
<path d="M590,742.5 l10,0 M590.5,744 l9,0 M592,745.3 l6,0" fill="none" stroke="#777" stroke-width="0.35"/>
<path d="M591,743 l1,5.5 l1.5,1.5 l1,-3.5" fill="#e0e0e0" stroke="#444" stroke-width="0.5"/>
<path d="M569,728 c2,-2 4,0 6,-2 c1,-1 2,-2 3,-1 M568.5,732 c2,1 4,-1 6,0 c2,1 3,-1 5,0 M571,735.5 c3,-1 5,1 8,0 c2,-1 3,0 5,0 M574,722 c1,2 3,2 3,4 c0,2 2,2 2,4 M578,726 c2,1 3,-1 5,0 c2,1 2,3 4,3 M582,730 c2,-1 4,1 6,0 c2,-1 3,1 5,0 M585,734 c3,-1 5,1 8,0 c2,0 3,-1 5,-1 M587,737.5 c3,-1 6,1 9,0 c2,0 3,-1 5,-1 M583,725.5 c0,2 1,3 0,5 M589,725 c-1,2 1,3 0,5 M595,725 c1,2 0,3 1,5 M600,725 c2,1 3,3 6,3 M599,729.5 c2,0 4,2 7,1 M597,733 c2,-1 4,1 7,0 M571,724 c1,1 1,3 2,3 M603,736 c1,1 2,2 3,2 M576,731 c1,1 1,2 2,3 M592,729 c0,2 1,3 1,4" fill="none" stroke="#333" stroke-width="0.45"/>
<path d="M588.6,736.6 q-0.7,0.6 -2.7,0.2 M594.0,726.2 q2.1,-0.5 2.9,0.2 M587.8,729.3 q-2.2,1.9 -3.9,1.4 M602.2,726.8 q0.1,0.3 -2.0,1.9 M589.3,737.7 q-1.6,1.9 -1.2,1.8 M586.8,739.4 q2.6,1.6 3.6,1.2 M582.2,738.9 q1.6,0.6 1.5,2.5 M588.8,729.9 q0.6,1.3 2.6,2.1 M589.9,732.8 q2.7,0.1 3.3,1.0 M581.3,738.1 q-1.5,1.5 -0.7,1.8 M581.9,731.5 q1.7,0.5 2.3,1.9 M603.5,724.8 q-0.6,1.8 -0.7,2.5 M583.6,727.4 q-0.1,-0.1 1.7,1.2 M600.9,732.6 q-1.0,-0.2 -3.5,1.7 M604.1,725.9 q-1.2,0.7 -3.1,1.9 M571.4,725.8 q-0.5,0.3 -1.1,1.7 M574.8,728.9 q-1.3,0.8 -2.1,1.7 M589.8,732.2 q1.0,0.9 0.8,3.0 M580.8,727.3 q1.0,0.8 0.9,1.3 M584.8,737.9 q1.9,1.2 1.8,2.1 M592.1,730.0 q-2.4,-0.3 -3.9,0.0 M591.3,732.3 q0.1,1.4 -0.2,1.7 M598.0,731.2 q0.4,1.1 0.6,2.2 M586.5,735.8 q1.1,1.1 2.1,1.2 M603.4,733.7 q-0.1,0.8 -2.2,0.0 M597.7,727.8 q-0.2,1.1 -1.9,2.6" fill="none" stroke="#3a3a3a" stroke-width="0.42"/>
<text x="641.30" y="727.21" font-size="7.35" text-anchor="middle" fill="#1e1e1e" stroke="#1e1e1e" stroke-width="0.22">LBW &amp; LGA</text>
<text x="642.20" y="736.11" font-size="7.35" text-anchor="middle" fill="#1e1e1e" stroke="#1e1e1e" stroke-width="0.22">with high GMFCS</text>
<line x1="587.60" y1="755.10" x2="587.60" y2="776.74" stroke="#222" stroke-width="0.6"/>
<path d="M586.39,776.30 L587.60,778.50 L588.81,776.30 Z" fill="#222"/>
<text x="594.10" y="764.81" font-size="7.35" text-anchor="start" fill="#1e1e1e" stroke="#1e1e1e" stroke-width="0.22">Metabolic disorders</text>
<text x="564.90" y="788.50" font-size="7.35" text-anchor="start" fill="#1e1e1e" stroke="#1e1e1e" stroke-width="0.22">Apolipoprotein</text>
<line x1="615.70" y1="781.30" x2="615.70" y2="793.40" stroke="#f03a3a" stroke-width="0.6"/>
<path d="M614.70,781.70 L615.70,779.70 L616.70,781.70 Z" fill="#f03a3a"/>
<path d="M575.5,795.5 l1.3,3.6 l1.1,-3 l1.1,3 l1.3,-3.6 M583.5,791.8 l4,1.3 l-4,1.3 l4,1.3 l-4,1.3 M589,796 l4,1.3 l-4,1.3 l4,1.3 l-4,1.3 M583.5,801.5 l1.3,3.6 l1.1,-3 l1.1,3 l1.3,-3.6" fill="none" stroke="#a83a3a" stroke-width="0.6"/>
<text x="594.60" y="807.41" font-size="7.35" text-anchor="start" fill="#1e1e1e" stroke="#1e1e1e" stroke-width="0.22">APOC2</text>
<text x="626.80" y="807.41" font-size="7.35" text-anchor="start" fill="#1e1e1e" stroke="#1e1e1e" stroke-width="0.22">APOC3</text>
<text x="659.60" y="807.41" font-size="7.35" text-anchor="start" fill="#1e1e1e" stroke="#1e1e1e" stroke-width="0.22">APOB</text>
<path d="M621.6,806.6 l1.3,1.4 M654.4,806.6 l1.3,1.4" fill="none" stroke="#222" stroke-width="0.6"/>
<rect x="545.90" y="811.80" width="14.53" height="6.60" fill="#f2896b" stroke="#d8684a" stroke-width="0.4"/>
<rect x="551.80" y="813.80" width="2.70" height="2.60" fill="#d43c3c"/>
<rect x="560.43" y="811.80" width="14.53" height="6.60" fill="#f2896b" stroke="#d8684a" stroke-width="0.4"/>
<rect x="566.33" y="813.80" width="2.70" height="2.60" fill="#d43c3c"/>
<rect x="574.96" y="811.80" width="14.53" height="6.60" fill="#f2896b" stroke="#d8684a" stroke-width="0.4"/>
<rect x="580.86" y="813.80" width="2.70" height="2.60" fill="#d43c3c"/>
<rect x="589.49" y="811.80" width="14.53" height="6.60" fill="#f2896b" stroke="#d8684a" stroke-width="0.4"/>
<rect x="595.39" y="813.80" width="2.70" height="2.60" fill="#d43c3c"/>
<rect x="604.02" y="811.80" width="14.53" height="6.60" fill="#f2896b" stroke="#d8684a" stroke-width="0.4"/>
<rect x="609.92" y="813.80" width="2.70" height="2.60" fill="#d43c3c"/>
<rect x="618.55" y="811.80" width="14.53" height="6.60" fill="#f2896b" stroke="#d8684a" stroke-width="0.4"/>
<rect x="624.45" y="813.80" width="2.70" height="2.60" fill="#d43c3c"/>
<rect x="545.90" y="826.40" width="14.53" height="6.60" fill="#f2896b" stroke="#d8684a" stroke-width="0.4"/>
<rect x="551.80" y="828.40" width="2.70" height="2.60" fill="#d43c3c"/>
<rect x="560.43" y="826.40" width="14.53" height="6.60" fill="#f2896b" stroke="#d8684a" stroke-width="0.4"/>
<rect x="566.33" y="828.40" width="2.70" height="2.60" fill="#d43c3c"/>
<rect x="574.96" y="826.40" width="14.53" height="6.60" fill="#f2896b" stroke="#d8684a" stroke-width="0.4"/>
<rect x="580.86" y="828.40" width="2.70" height="2.60" fill="#d43c3c"/>
<rect x="589.49" y="826.40" width="14.53" height="6.60" fill="#f2896b" stroke="#d8684a" stroke-width="0.4"/>
<rect x="595.39" y="828.40" width="2.70" height="2.60" fill="#d43c3c"/>
<rect x="604.02" y="826.40" width="14.53" height="6.60" fill="#f2896b" stroke="#d8684a" stroke-width="0.4"/>
<rect x="609.92" y="828.40" width="2.70" height="2.60" fill="#d43c3c"/>
<rect x="618.55" y="826.40" width="14.53" height="6.60" fill="#f2896b" stroke="#d8684a" stroke-width="0.4"/>
<rect x="624.45" y="828.40" width="2.70" height="2.60" fill="#d43c3c"/>
<rect x="545.90" y="818.40" width="50.00" height="8.00" fill="url(#gM)"/>
<circle cx="551.50" cy="821.00" r="0.75" fill="#f5d23a"/>
<circle cx="551.80" cy="823.70" r="0.60" fill="#f7dc5a"/>
<circle cx="553.80" cy="822.50" r="0.75" fill="#f5d23a"/>
<circle cx="554.10" cy="822.60" r="0.60" fill="#f7dc5a"/>
<circle cx="556.10" cy="821.00" r="0.75" fill="#f5d23a"/>
<circle cx="556.40" cy="823.70" r="0.60" fill="#f7dc5a"/>
<circle cx="558.40" cy="822.50" r="0.75" fill="#f5d23a"/>
<circle cx="558.70" cy="822.60" r="0.60" fill="#f7dc5a"/>
<circle cx="560.70" cy="821.00" r="0.75" fill="#f5d23a"/>
<circle cx="561.00" cy="823.70" r="0.60" fill="#f7dc5a"/>
<circle cx="563.00" cy="822.50" r="0.75" fill="#f5d23a"/>
<circle cx="563.30" cy="822.60" r="0.60" fill="#f7dc5a"/>
<circle cx="565.30" cy="821.00" r="0.75" fill="#f5d23a"/>
<circle cx="565.60" cy="823.70" r="0.60" fill="#f7dc5a"/>
<circle cx="567.60" cy="822.50" r="0.75" fill="#f5d23a"/>
<circle cx="567.90" cy="822.60" r="0.60" fill="#f7dc5a"/>
<circle cx="569.90" cy="821.00" r="0.75" fill="#f5d23a"/>
<circle cx="570.20" cy="823.70" r="0.60" fill="#f7dc5a"/>
<text x="577.50" y="824.61" font-size="7.35" text-anchor="start" fill="#1e1e1e" stroke="#1e1e1e" stroke-width="0.22">Lipoproteins accumulation</text>
<ellipse cx="558.5" cy="837.2" rx="1.75" ry="2.2" fill="#2356d8"/>
<ellipse cx="558.5" cy="841.6" rx="1.75" ry="2.2" fill="#2356d8"/>
<ellipse cx="558.5" cy="845.2" rx="1.75" ry="2.2" fill="#2356d8"/>
<ellipse cx="562.3" cy="837.2" rx="1.75" ry="2.2" fill="#2356d8"/>
<ellipse cx="562.3" cy="841.6" rx="1.75" ry="2.2" fill="#2356d8"/>
<ellipse cx="562.3" cy="845.2" rx="1.75" ry="2.2" fill="#2356d8"/>
<line x1="558.50" y1="833.00" x2="558.50" y2="835.50" stroke="#2356d8" stroke-width="0.6"/>
<line x1="562.30" y1="833.00" x2="562.30" y2="835.50" stroke="#2356d8" stroke-width="0.6"/>
<text x="565.00" y="840.21" font-size="7.35" text-anchor="start" fill="#1e1e1e" stroke="#1e1e1e" stroke-width="0.22">VCAM1</text>
<text x="565.00" y="848.31" font-size="7.35" text-anchor="start" fill="#1e1e1e" stroke="#1e1e1e" stroke-width="0.22">CEACAM1/6/8</text>
<line x1="615.10" y1="839.20" x2="615.10" y2="849.90" stroke="#f03a3a" stroke-width="0.6"/>
<path d="M614.10,839.60 L615.10,837.60 L616.10,839.60 Z" fill="#f03a3a"/>
<line x1="587.60" y1="851.40" x2="587.60" y2="875.24" stroke="#222" stroke-width="0.6"/>
<path d="M586.39,874.80 L587.60,877.00 L588.81,874.80 Z" fill="#222"/>
<text x="553.00" y="885.81" font-size="7.35" text-anchor="start" fill="#1e1e1e" stroke="#1e1e1e" stroke-width="0.22">Immune responses</text>
<line x1="621.60" y1="878.60" x2="621.60" y2="890.10" stroke="#f03a3a" stroke-width="0.6"/>
<path d="M620.60,879.00 L621.60,877.00 L622.60,879.00 Z" fill="#f03a3a"/>
<ellipse cx="577.8" cy="903.6" rx="8.4" ry="6.4" fill="#d3def6" stroke="#a9b9da" stroke-width="0.6"/>
<path d="M573.8,902.8 C574.3,899.5 579.5,898.6 581.8,901.4 C583.6,903.8 582.4,907.6 578.8,907.6 C577.6,906.5 579.5,905.3 579.3,903.8 C578.8,902.2 576.2,902.4 575.6,903.9 Z" fill="#2f63c9" stroke="none" stroke-width="0.6"/>
<circle cx="593.64" cy="901.17" r="1.05" fill="#a57acb"/>
<circle cx="595.54" cy="901.48" r="0.93" fill="#a57acb"/>
<circle cx="592.47" cy="902.28" r="1.00" fill="#a57acb"/>
<circle cx="593.62" cy="902.88" r="1.09" fill="#a57acb"/>
<circle cx="596.75" cy="900.91" r="1.16" fill="#a57acb"/>
<circle cx="593.18" cy="901.51" r="1.25" fill="#a57acb"/>
<circle cx="595.12" cy="901.92" r="1.17" fill="#a57acb"/>
<circle cx="592.73" cy="901.98" r="1.14" fill="#a57acb"/>
<circle cx="593.97" cy="899.22" r="1.25" fill="#a57acb"/>
<circle cx="599.36" cy="904.83" r="1.25" fill="#f4a259"/>
<circle cx="600.61" cy="905.60" r="1.06" fill="#f4a259"/>
<circle cx="601.06" cy="903.79" r="1.27" fill="#f4a259"/>
<circle cx="601.47" cy="902.47" r="0.95" fill="#f4a259"/>
<circle cx="598.03" cy="905.77" r="1.07" fill="#f4a259"/>
<circle cx="600.16" cy="903.24" r="1.10" fill="#f4a259"/>
<circle cx="598.91" cy="903.43" r="1.13" fill="#f4a259"/>
<circle cx="599.94" cy="905.54" r="1.17" fill="#f4a259"/>
<circle cx="601.73" cy="905.35" r="1.30" fill="#f4a259"/>
<circle cx="605.39" cy="900.72" r="1.24" fill="#a57acb"/>
<circle cx="606.92" cy="903.54" r="1.13" fill="#a57acb"/>
<circle cx="605.61" cy="900.90" r="1.23" fill="#a57acb"/>
<circle cx="604.88" cy="901.18" r="0.93" fill="#a57acb"/>
<circle cx="606.34" cy="903.86" r="0.94" fill="#a57acb"/>
<circle cx="606.06" cy="901.66" r="0.96" fill="#a57acb"/>
<circle cx="603.43" cy="903.02" r="1.25" fill="#a57acb"/>
<circle cx="602.13" cy="902.44" r="0.92" fill="#a57acb"/>
<circle cx="605.64" cy="901.36" r="1.25" fill="#a57acb"/>
<circle cx="611.00" cy="904.52" r="1.30" fill="#f4a259"/>
<circle cx="607.51" cy="902.89" r="1.14" fill="#f4a259"/>
<circle cx="606.06" cy="903.35" r="1.06" fill="#f4a259"/>
<circle cx="609.07" cy="903.19" r="0.92" fill="#f4a259"/>
<circle cx="610.41" cy="903.79" r="1.28" fill="#f4a259"/>
<circle cx="610.56" cy="904.04" r="1.08" fill="#f4a259"/>
<circle cx="608.60" cy="905.05" r="1.14" fill="#f4a259"/>
<circle cx="608.81" cy="904.96" r="1.28" fill="#f4a259"/>
<circle cx="608.54" cy="904.24" r="1.19" fill="#f4a259"/>
<circle cx="605.64" cy="908.24" r="1.29" fill="#f4a259"/>
<circle cx="607.11" cy="909.18" r="0.90" fill="#f4a259"/>
<circle cx="606.56" cy="909.30" r="0.91" fill="#f4a259"/>
<circle cx="607.60" cy="909.50" r="0.92" fill="#f4a259"/>
<circle cx="607.66" cy="908.87" r="1.17" fill="#f4a259"/>
<circle cx="606.23" cy="909.79" r="1.20" fill="#f4a259"/>
<circle cx="604.52" cy="907.33" r="1.17" fill="#f4a259"/>
<circle cx="609.41" cy="908.05" r="1.08" fill="#f4a259"/>
<circle cx="607.48" cy="908.32" r="1.05" fill="#f4a259"/>
<circle cx="612.03" cy="907.00" r="1.14" fill="#f4a259"/>
<circle cx="611.96" cy="907.03" r="1.21" fill="#f4a259"/>
<circle cx="610.54" cy="907.76" r="1.19" fill="#f4a259"/>
<circle cx="612.01" cy="906.45" r="1.22" fill="#f4a259"/>
<circle cx="611.64" cy="906.31" r="1.07" fill="#f4a259"/>
<circle cx="614.03" cy="905.99" r="1.03" fill="#f4a259"/>
<circle cx="612.14" cy="908.77" r="1.08" fill="#f4a259"/>
<circle cx="614.85" cy="906.24" r="1.03" fill="#f4a259"/>
<circle cx="613.78" cy="908.96" r="1.08" fill="#f4a259"/>
<circle cx="616.07" cy="898.56" r="1.11" fill="#a57acb"/>
<circle cx="615.89" cy="901.17" r="1.24" fill="#a57acb"/>
<circle cx="615.85" cy="899.16" r="1.22" fill="#a57acb"/>
<circle cx="618.24" cy="901.16" r="1.04" fill="#a57acb"/>
<circle cx="615.57" cy="899.21" r="1.22" fill="#a57acb"/>
<circle cx="616.31" cy="899.42" r="1.07" fill="#a57acb"/>
<circle cx="617.08" cy="899.66" r="1.27" fill="#a57acb"/>
<circle cx="615.71" cy="898.12" r="1.28" fill="#a57acb"/>
<circle cx="619.48" cy="901.85" r="1.07" fill="#a57acb"/>
<circle cx="613.34" cy="903.62" r="0.99" fill="#f4a259"/>
<circle cx="612.28" cy="903.28" r="1.17" fill="#f4a259"/>
<circle cx="611.10" cy="901.20" r="1.04" fill="#f4a259"/>
<circle cx="609.58" cy="900.36" r="1.14" fill="#f4a259"/>
<circle cx="609.89" cy="903.18" r="0.92" fill="#f4a259"/>
<circle cx="613.10" cy="902.74" r="1.27" fill="#f4a259"/>
<circle cx="613.06" cy="903.52" r="1.13" fill="#f4a259"/>
<circle cx="608.47" cy="902.93" r="0.97" fill="#f4a259"/>
<circle cx="609.96" cy="902.62" r="1.11" fill="#f4a259"/>
<text x="558.10" y="918.31" font-size="7.35" text-anchor="start" fill="#1e1e1e" stroke="#1e1e1e" stroke-width="0.22">Monocytes</text>
<text x="600.20" y="921.21" font-size="7.35" text-anchor="start" fill="#1e1e1e" stroke="#1e1e1e" stroke-width="0.22">Cytokines</text>
</svg></body></html>
